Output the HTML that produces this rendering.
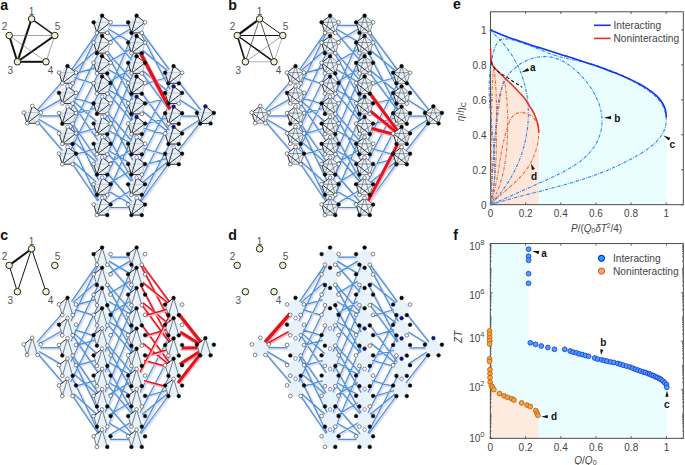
<!DOCTYPE html><html><head><meta charset="utf-8"><style>html,body{margin:0;padding:0;background:#fff;}svg{display:block}</style></head><body><svg width="685" height="465" viewBox="0 0 685 465">
<style>text{font-family:"Liberation Sans",sans-serif;}.pl{font-size:14.2px;font-weight:bold;fill:#111}.nl{font-size:10px;fill:#555;text-anchor:middle}.tk{font-size:10px;fill:#444}.lg{font-size:10.2px;fill:#444}.an{font-size:10px;font-weight:bold;fill:#111}</style>
<rect width="685" height="465" fill="#fff"/>
<text x="0.3" y="9.6" class="pl">a</text>
<line x1="31.6" y1="18.9" x2="17.4" y2="61.8" stroke="#111" stroke-width="2.0"/>
<line x1="17.4" y1="61.8" x2="54.8" y2="35.5" stroke="#111" stroke-width="2.0"/>
<line x1="9.2" y1="35.5" x2="17.4" y2="61.8" stroke="#111" stroke-width="2.0"/>
<line x1="17.4" y1="61.8" x2="46" y2="61.8" stroke="#111" stroke-width="2.0"/>
<line x1="31.6" y1="18.9" x2="54.8" y2="35.5" stroke="#111" stroke-width="1.5"/>
<line x1="9.2" y1="35.5" x2="54.8" y2="35.5" stroke="#6a6a6a" stroke-width="0.6"/>
<line x1="9.2" y1="35.5" x2="46" y2="61.8" stroke="#6a6a6a" stroke-width="0.6"/>
<line x1="46" y1="61.8" x2="54.8" y2="35.5" stroke="#6a6a6a" stroke-width="0.6"/>
<circle cx="31.6" cy="18.9" r="3.25" fill="#e6f8d2" stroke="#222" stroke-width="1.0"/>
<text x="31.6" y="15.2" class="nl">1</text>
<circle cx="9.2" cy="35.5" r="3.25" fill="#e6f8d2" stroke="#222" stroke-width="1.0"/>
<text x="4.6" y="30.4" class="nl">2</text>
<circle cx="54.8" cy="35.5" r="3.25" fill="#e6f8d2" stroke="#222" stroke-width="1.0"/>
<text x="57.6" y="30.4" class="nl">5</text>
<circle cx="17.4" cy="61.8" r="3.25" fill="#e6f8d2" stroke="#222" stroke-width="1.0"/>
<text x="10.3" y="74" class="nl">3</text>
<circle cx="46" cy="61.8" r="3.25" fill="#e6f8d2" stroke="#222" stroke-width="1.0"/>
<text x="50.6" y="74" class="nl">4</text>
<path d="M33.4 116.6L68.6 76.62M33.4 116.6L68.6 96.86M33.4 116.6L68.6 117.1M33.4 116.6L68.6 137.34M33.4 116.6L68.6 157.58M68.6 76.62L103.2 26.32M68.6 76.62L103.2 46.56M68.6 76.62L103.2 66.8M68.6 76.62L103.2 87.04M68.6 96.86L103.2 26.32M68.6 96.86L103.2 107.28M68.6 96.86L103.2 127.52M68.6 96.86L103.2 147.76M68.6 117.1L103.2 46.56M68.6 117.1L103.2 107.28M68.6 117.1L103.2 168M68.6 117.1L103.2 188.24M68.6 137.34L103.2 66.8M68.6 137.34L103.2 127.52M68.6 137.34L103.2 168M68.6 137.34L103.2 208.48M68.6 157.58L103.2 87.04M68.6 157.58L103.2 147.76M68.6 157.58L103.2 188.24M68.6 157.58L103.2 208.48M103.2 26.32L137.7 26.32M103.2 26.32L137.7 46.56M103.2 26.32L137.7 66.8M103.2 46.56L137.7 26.32M103.2 46.56L137.7 87.04M103.2 46.56L137.7 107.28M103.2 66.8L137.7 46.56M103.2 66.8L137.7 87.04M103.2 66.8L137.7 127.52M103.2 87.04L137.7 66.8M103.2 87.04L137.7 107.28M103.2 87.04L137.7 127.52M103.2 107.28L137.7 26.32M103.2 107.28L137.7 147.76M103.2 107.28L137.7 168M103.2 127.52L137.7 46.56M103.2 127.52L137.7 147.76M103.2 127.52L137.7 188.24M103.2 147.76L137.7 66.8M103.2 147.76L137.7 168M103.2 147.76L137.7 188.24M103.2 168L137.7 87.04M103.2 168L137.7 147.76M103.2 168L137.7 208.48M103.2 188.24L137.7 107.28M103.2 188.24L137.7 168M103.2 188.24L137.7 208.48M103.2 208.48L137.7 127.52M103.2 208.48L137.7 188.24M103.2 208.48L137.7 208.48M137.7 26.32L174.7 76.72M137.7 26.32L174.7 96.96M137.7 46.56L174.7 76.72M137.7 66.8L174.7 96.96M137.7 66.8L174.7 117.2M137.7 87.04L174.7 76.72M137.7 87.04L174.7 137.44M137.7 107.28L174.7 96.96M137.7 107.28L174.7 137.44M137.7 127.52L174.7 117.2M137.7 127.52L174.7 137.44M137.7 147.76L174.7 76.72M137.7 147.76L174.7 157.68M137.7 168L174.7 96.96M137.7 168L174.7 157.68M137.7 188.24L174.7 117.2M137.7 188.24L174.7 157.68M137.7 208.48L174.7 137.44M137.7 208.48L174.7 157.68M174.7 76.72L206.5 116.9M174.7 96.96L206.5 116.9M174.7 117.2L206.5 116.9M174.7 137.44L206.5 116.9M174.7 157.68L206.5 116.9" stroke="#dedef4" stroke-width="2.6" fill="none"/>
<path d="M32.3 115.6L67.5 75.62M32.3 115.6L67.5 95.86M32.3 115.6L67.5 116.1M32.3 115.6L67.5 136.34M32.3 115.6L67.5 156.58M67.5 75.62L102.1 25.32M67.5 75.62L102.1 45.56M67.5 75.62L102.1 65.8M67.5 75.62L102.1 86.04M67.5 95.86L102.1 25.32M67.5 95.86L102.1 106.28M67.5 95.86L102.1 126.52M67.5 95.86L102.1 146.76M67.5 116.1L102.1 45.56M67.5 116.1L102.1 106.28M67.5 116.1L102.1 167M67.5 116.1L102.1 187.24M67.5 136.34L102.1 65.8M67.5 136.34L102.1 126.52M67.5 136.34L102.1 167M67.5 136.34L102.1 207.48M67.5 156.58L102.1 86.04M67.5 156.58L102.1 146.76M67.5 156.58L102.1 187.24M67.5 156.58L102.1 207.48M102.1 25.32L136.6 25.32M102.1 25.32L136.6 45.56M102.1 25.32L136.6 65.8M102.1 45.56L136.6 25.32M102.1 45.56L136.6 86.04M102.1 45.56L136.6 106.28M102.1 65.8L136.6 45.56M102.1 65.8L136.6 86.04M102.1 65.8L136.6 126.52M102.1 86.04L136.6 65.8M102.1 86.04L136.6 106.28M102.1 86.04L136.6 126.52M102.1 106.28L136.6 25.32M102.1 106.28L136.6 146.76M102.1 106.28L136.6 167M102.1 126.52L136.6 45.56M102.1 126.52L136.6 146.76M102.1 126.52L136.6 187.24M102.1 146.76L136.6 65.8M102.1 146.76L136.6 167M102.1 146.76L136.6 187.24M102.1 167L136.6 86.04M102.1 167L136.6 146.76M102.1 167L136.6 207.48M102.1 187.24L136.6 106.28M102.1 187.24L136.6 167M102.1 187.24L136.6 207.48M102.1 207.48L136.6 126.52M102.1 207.48L136.6 187.24M102.1 207.48L136.6 207.48M136.6 25.32L173.6 75.72M136.6 25.32L173.6 95.96M136.6 45.56L173.6 75.72M136.6 65.8L173.6 95.96M136.6 65.8L173.6 116.2M136.6 86.04L173.6 75.72M136.6 86.04L173.6 136.44M136.6 106.28L173.6 95.96M136.6 106.28L173.6 136.44M136.6 126.52L173.6 116.2M136.6 126.52L173.6 136.44M136.6 146.76L173.6 75.72M136.6 146.76L173.6 156.68M136.6 167L173.6 95.96M136.6 167L173.6 156.68M136.6 187.24L173.6 116.2M136.6 187.24L173.6 156.68M136.6 207.48L173.6 136.44M136.6 207.48L173.6 156.68M173.6 75.72L205.4 115.9M173.6 95.96L205.4 115.9M173.6 116.2L205.4 115.9M173.6 136.44L205.4 115.9M173.6 156.68L205.4 115.9" stroke="#4892d8" stroke-width="1.2" fill="none"/>
<line x1="137.1" y1="46.56" x2="174.1" y2="117.2" stroke="#f4b8c0" stroke-width="4.6"/>
<line x1="136.6" y1="45.56" x2="173.6" y2="116.2" stroke="#e8101c" stroke-width="3.4"/>
<polygon points="32.3,106 40.8,112.6 37.5,123.2 27.1,123.2 23.8,112.6" fill="#e6f1f9" stroke="#c4d4e0" stroke-width="0.5"/>
<line x1="23.8" y1="112.6" x2="40.8" y2="112.6" stroke="#9aa0a6" stroke-width="0.5"/>
<line x1="23.8" y1="112.6" x2="37.5" y2="123.2" stroke="#9aa0a6" stroke-width="0.5"/>
<line x1="37.5" y1="123.2" x2="40.8" y2="112.6" stroke="#9aa0a6" stroke-width="0.5"/>
<line x1="32.3" y1="106" x2="40.8" y2="112.6" stroke="#1a1a1a" stroke-width="0.88"/>
<line x1="32.3" y1="106" x2="27.1" y2="123.2" stroke="#1a1a1a" stroke-width="0.88"/>
<line x1="27.1" y1="123.2" x2="40.8" y2="112.6" stroke="#1a1a1a" stroke-width="0.88"/>
<line x1="23.8" y1="112.6" x2="27.1" y2="123.2" stroke="#1a1a1a" stroke-width="0.88"/>
<line x1="27.1" y1="123.2" x2="37.5" y2="123.2" stroke="#1a1a1a" stroke-width="0.88"/>
<circle cx="32.3" cy="106" r="1.85" fill="#fff" stroke="#222" stroke-width="0.55"/>
<circle cx="23.8" cy="112.6" r="1.85" fill="#fff" stroke="#222" stroke-width="0.55"/>
<circle cx="27.1" cy="123.2" r="1.85" fill="#fff" stroke="#222" stroke-width="0.55"/>
<circle cx="37.5" cy="123.2" r="1.85" fill="#fff" stroke="#222" stroke-width="0.55"/>
<circle cx="40.8" cy="112.6" r="1.85" fill="#fff" stroke="#222" stroke-width="0.55"/>
<polygon points="67.5,66.02 76,72.62 72.7,83.22 62.3,83.22 59,72.62" fill="#e6f1f9" stroke="#c4d4e0" stroke-width="0.5"/>
<line x1="59" y1="72.62" x2="76" y2="72.62" stroke="#9aa0a6" stroke-width="0.5"/>
<line x1="59" y1="72.62" x2="72.7" y2="83.22" stroke="#9aa0a6" stroke-width="0.5"/>
<line x1="72.7" y1="83.22" x2="76" y2="72.62" stroke="#9aa0a6" stroke-width="0.5"/>
<line x1="67.5" y1="66.02" x2="76" y2="72.62" stroke="#1a1a1a" stroke-width="0.88"/>
<line x1="67.5" y1="66.02" x2="62.3" y2="83.22" stroke="#1a1a1a" stroke-width="0.88"/>
<line x1="62.3" y1="83.22" x2="76" y2="72.62" stroke="#1a1a1a" stroke-width="0.88"/>
<line x1="59" y1="72.62" x2="62.3" y2="83.22" stroke="#1a1a1a" stroke-width="0.88"/>
<line x1="62.3" y1="83.22" x2="72.7" y2="83.22" stroke="#1a1a1a" stroke-width="0.88"/>
<circle cx="67.5" cy="66.02" r="1.85" fill="#000" stroke="#111" stroke-width="0.55"/>
<circle cx="59" cy="72.62" r="1.85" fill="#fff" stroke="#222" stroke-width="0.55"/>
<circle cx="62.3" cy="83.22" r="1.85" fill="#fff" stroke="#222" stroke-width="0.55"/>
<circle cx="72.7" cy="83.22" r="1.85" fill="#fff" stroke="#222" stroke-width="0.55"/>
<circle cx="76" cy="72.62" r="1.85" fill="#fff" stroke="#222" stroke-width="0.55"/>
<polygon points="67.5,86.26 76,92.86 72.7,103.46 62.3,103.46 59,92.86" fill="#e6f1f9" stroke="#c4d4e0" stroke-width="0.5"/>
<line x1="59" y1="92.86" x2="76" y2="92.86" stroke="#9aa0a6" stroke-width="0.5"/>
<line x1="59" y1="92.86" x2="72.7" y2="103.46" stroke="#9aa0a6" stroke-width="0.5"/>
<line x1="72.7" y1="103.46" x2="76" y2="92.86" stroke="#9aa0a6" stroke-width="0.5"/>
<line x1="67.5" y1="86.26" x2="76" y2="92.86" stroke="#1a1a1a" stroke-width="0.88"/>
<line x1="67.5" y1="86.26" x2="62.3" y2="103.46" stroke="#1a1a1a" stroke-width="0.88"/>
<line x1="62.3" y1="103.46" x2="76" y2="92.86" stroke="#1a1a1a" stroke-width="0.88"/>
<line x1="59" y1="92.86" x2="62.3" y2="103.46" stroke="#1a1a1a" stroke-width="0.88"/>
<line x1="62.3" y1="103.46" x2="72.7" y2="103.46" stroke="#1a1a1a" stroke-width="0.88"/>
<circle cx="67.5" cy="86.26" r="1.85" fill="#fff" stroke="#3030b0" stroke-width="0.55"/>
<circle cx="59" cy="92.86" r="1.85" fill="#000" stroke="#222" stroke-width="0.55"/>
<circle cx="62.3" cy="103.46" r="1.85" fill="#fff" stroke="#222" stroke-width="0.55"/>
<circle cx="72.7" cy="103.46" r="1.85" fill="#fff" stroke="#222" stroke-width="0.55"/>
<circle cx="76" cy="92.86" r="1.85" fill="#fff" stroke="#222" stroke-width="0.55"/>
<polygon points="67.5,106.5 76,113.1 72.7,123.7 62.3,123.7 59,113.1" fill="#e6f1f9" stroke="#c4d4e0" stroke-width="0.5"/>
<line x1="59" y1="113.1" x2="76" y2="113.1" stroke="#9aa0a6" stroke-width="0.5"/>
<line x1="59" y1="113.1" x2="72.7" y2="123.7" stroke="#9aa0a6" stroke-width="0.5"/>
<line x1="72.7" y1="123.7" x2="76" y2="113.1" stroke="#9aa0a6" stroke-width="0.5"/>
<line x1="67.5" y1="106.5" x2="76" y2="113.1" stroke="#1a1a1a" stroke-width="0.88"/>
<line x1="67.5" y1="106.5" x2="62.3" y2="123.7" stroke="#1a1a1a" stroke-width="0.88"/>
<line x1="62.3" y1="123.7" x2="76" y2="113.1" stroke="#1a1a1a" stroke-width="0.88"/>
<line x1="59" y1="113.1" x2="62.3" y2="123.7" stroke="#1a1a1a" stroke-width="0.88"/>
<line x1="62.3" y1="123.7" x2="72.7" y2="123.7" stroke="#1a1a1a" stroke-width="0.88"/>
<circle cx="67.5" cy="106.5" r="1.85" fill="#fff" stroke="#3030b0" stroke-width="0.55"/>
<circle cx="59" cy="113.1" r="1.85" fill="#fff" stroke="#222" stroke-width="0.55"/>
<circle cx="62.3" cy="123.7" r="1.85" fill="#000" stroke="#222" stroke-width="0.55"/>
<circle cx="72.7" cy="123.7" r="1.85" fill="#fff" stroke="#222" stroke-width="0.55"/>
<circle cx="76" cy="113.1" r="1.85" fill="#fff" stroke="#222" stroke-width="0.55"/>
<polygon points="67.5,126.74 76,133.34 72.7,143.94 62.3,143.94 59,133.34" fill="#e6f1f9" stroke="#c4d4e0" stroke-width="0.5"/>
<line x1="59" y1="133.34" x2="76" y2="133.34" stroke="#9aa0a6" stroke-width="0.5"/>
<line x1="59" y1="133.34" x2="72.7" y2="143.94" stroke="#9aa0a6" stroke-width="0.5"/>
<line x1="72.7" y1="143.94" x2="76" y2="133.34" stroke="#9aa0a6" stroke-width="0.5"/>
<line x1="67.5" y1="126.74" x2="76" y2="133.34" stroke="#1a1a1a" stroke-width="0.88"/>
<line x1="67.5" y1="126.74" x2="62.3" y2="143.94" stroke="#1a1a1a" stroke-width="0.88"/>
<line x1="62.3" y1="143.94" x2="76" y2="133.34" stroke="#1a1a1a" stroke-width="0.88"/>
<line x1="59" y1="133.34" x2="62.3" y2="143.94" stroke="#1a1a1a" stroke-width="0.88"/>
<line x1="62.3" y1="143.94" x2="72.7" y2="143.94" stroke="#1a1a1a" stroke-width="0.88"/>
<circle cx="67.5" cy="126.74" r="1.85" fill="#fff" stroke="#3030b0" stroke-width="0.55"/>
<circle cx="59" cy="133.34" r="1.85" fill="#fff" stroke="#222" stroke-width="0.55"/>
<circle cx="62.3" cy="143.94" r="1.85" fill="#fff" stroke="#222" stroke-width="0.55"/>
<circle cx="72.7" cy="143.94" r="1.85" fill="#000" stroke="#222" stroke-width="0.55"/>
<circle cx="76" cy="133.34" r="1.85" fill="#fff" stroke="#222" stroke-width="0.55"/>
<polygon points="67.5,146.98 76,153.58 72.7,164.18 62.3,164.18 59,153.58" fill="#e6f1f9" stroke="#c4d4e0" stroke-width="0.5"/>
<line x1="59" y1="153.58" x2="76" y2="153.58" stroke="#9aa0a6" stroke-width="0.5"/>
<line x1="59" y1="153.58" x2="72.7" y2="164.18" stroke="#9aa0a6" stroke-width="0.5"/>
<line x1="72.7" y1="164.18" x2="76" y2="153.58" stroke="#9aa0a6" stroke-width="0.5"/>
<line x1="67.5" y1="146.98" x2="76" y2="153.58" stroke="#1a1a1a" stroke-width="0.88"/>
<line x1="67.5" y1="146.98" x2="62.3" y2="164.18" stroke="#1a1a1a" stroke-width="0.88"/>
<line x1="62.3" y1="164.18" x2="76" y2="153.58" stroke="#1a1a1a" stroke-width="0.88"/>
<line x1="59" y1="153.58" x2="62.3" y2="164.18" stroke="#1a1a1a" stroke-width="0.88"/>
<line x1="62.3" y1="164.18" x2="72.7" y2="164.18" stroke="#1a1a1a" stroke-width="0.88"/>
<circle cx="67.5" cy="146.98" r="1.85" fill="#fff" stroke="#3030b0" stroke-width="0.55"/>
<circle cx="59" cy="153.58" r="1.85" fill="#fff" stroke="#222" stroke-width="0.55"/>
<circle cx="62.3" cy="164.18" r="1.85" fill="#fff" stroke="#222" stroke-width="0.55"/>
<circle cx="72.7" cy="164.18" r="1.85" fill="#fff" stroke="#222" stroke-width="0.55"/>
<circle cx="76" cy="153.58" r="1.85" fill="#000" stroke="#222" stroke-width="0.55"/>
<polygon points="102.1,15.72 110.6,22.32 107.3,32.92 96.9,32.92 93.6,22.32" fill="#e6f1f9" stroke="#c4d4e0" stroke-width="0.5"/>
<line x1="93.6" y1="22.32" x2="110.6" y2="22.32" stroke="#9aa0a6" stroke-width="0.5"/>
<line x1="93.6" y1="22.32" x2="107.3" y2="32.92" stroke="#9aa0a6" stroke-width="0.5"/>
<line x1="107.3" y1="32.92" x2="110.6" y2="22.32" stroke="#9aa0a6" stroke-width="0.5"/>
<line x1="102.1" y1="15.72" x2="110.6" y2="22.32" stroke="#1a1a1a" stroke-width="0.88"/>
<line x1="102.1" y1="15.72" x2="96.9" y2="32.92" stroke="#1a1a1a" stroke-width="0.88"/>
<line x1="96.9" y1="32.92" x2="110.6" y2="22.32" stroke="#1a1a1a" stroke-width="0.88"/>
<line x1="93.6" y1="22.32" x2="96.9" y2="32.92" stroke="#1a1a1a" stroke-width="0.88"/>
<line x1="96.9" y1="32.92" x2="107.3" y2="32.92" stroke="#1a1a1a" stroke-width="0.88"/>
<circle cx="102.1" cy="15.72" r="1.85" fill="#000" stroke="#111" stroke-width="0.55"/>
<circle cx="93.6" cy="22.32" r="1.85" fill="#000" stroke="#222" stroke-width="0.55"/>
<circle cx="96.9" cy="32.92" r="1.85" fill="#fff" stroke="#222" stroke-width="0.55"/>
<circle cx="107.3" cy="32.92" r="1.85" fill="#fff" stroke="#222" stroke-width="0.55"/>
<circle cx="110.6" cy="22.32" r="1.85" fill="#fff" stroke="#222" stroke-width="0.55"/>
<polygon points="102.1,35.96 110.6,42.56 107.3,53.16 96.9,53.16 93.6,42.56" fill="#e6f1f9" stroke="#c4d4e0" stroke-width="0.5"/>
<line x1="93.6" y1="42.56" x2="110.6" y2="42.56" stroke="#9aa0a6" stroke-width="0.5"/>
<line x1="93.6" y1="42.56" x2="107.3" y2="53.16" stroke="#9aa0a6" stroke-width="0.5"/>
<line x1="107.3" y1="53.16" x2="110.6" y2="42.56" stroke="#9aa0a6" stroke-width="0.5"/>
<line x1="102.1" y1="35.96" x2="110.6" y2="42.56" stroke="#1a1a1a" stroke-width="0.88"/>
<line x1="102.1" y1="35.96" x2="96.9" y2="53.16" stroke="#1a1a1a" stroke-width="0.88"/>
<line x1="96.9" y1="53.16" x2="110.6" y2="42.56" stroke="#1a1a1a" stroke-width="0.88"/>
<line x1="93.6" y1="42.56" x2="96.9" y2="53.16" stroke="#1a1a1a" stroke-width="0.88"/>
<line x1="96.9" y1="53.16" x2="107.3" y2="53.16" stroke="#1a1a1a" stroke-width="0.88"/>
<circle cx="102.1" cy="35.96" r="1.85" fill="#000" stroke="#111" stroke-width="0.55"/>
<circle cx="93.6" cy="42.56" r="1.85" fill="#fff" stroke="#222" stroke-width="0.55"/>
<circle cx="96.9" cy="53.16" r="1.85" fill="#000" stroke="#222" stroke-width="0.55"/>
<circle cx="107.3" cy="53.16" r="1.85" fill="#fff" stroke="#222" stroke-width="0.55"/>
<circle cx="110.6" cy="42.56" r="1.85" fill="#fff" stroke="#222" stroke-width="0.55"/>
<polygon points="102.1,56.2 110.6,62.8 107.3,73.4 96.9,73.4 93.6,62.8" fill="#e6f1f9" stroke="#c4d4e0" stroke-width="0.5"/>
<line x1="93.6" y1="62.8" x2="110.6" y2="62.8" stroke="#9aa0a6" stroke-width="0.5"/>
<line x1="93.6" y1="62.8" x2="107.3" y2="73.4" stroke="#9aa0a6" stroke-width="0.5"/>
<line x1="107.3" y1="73.4" x2="110.6" y2="62.8" stroke="#9aa0a6" stroke-width="0.5"/>
<line x1="102.1" y1="56.2" x2="110.6" y2="62.8" stroke="#1a1a1a" stroke-width="0.88"/>
<line x1="102.1" y1="56.2" x2="96.9" y2="73.4" stroke="#1a1a1a" stroke-width="0.88"/>
<line x1="96.9" y1="73.4" x2="110.6" y2="62.8" stroke="#1a1a1a" stroke-width="0.88"/>
<line x1="93.6" y1="62.8" x2="96.9" y2="73.4" stroke="#1a1a1a" stroke-width="0.88"/>
<line x1="96.9" y1="73.4" x2="107.3" y2="73.4" stroke="#1a1a1a" stroke-width="0.88"/>
<circle cx="102.1" cy="56.2" r="1.85" fill="#000" stroke="#111" stroke-width="0.55"/>
<circle cx="93.6" cy="62.8" r="1.85" fill="#fff" stroke="#222" stroke-width="0.55"/>
<circle cx="96.9" cy="73.4" r="1.85" fill="#fff" stroke="#222" stroke-width="0.55"/>
<circle cx="107.3" cy="73.4" r="1.85" fill="#000" stroke="#222" stroke-width="0.55"/>
<circle cx="110.6" cy="62.8" r="1.85" fill="#fff" stroke="#222" stroke-width="0.55"/>
<polygon points="102.1,76.44 110.6,83.04 107.3,93.64 96.9,93.64 93.6,83.04" fill="#e6f1f9" stroke="#c4d4e0" stroke-width="0.5"/>
<line x1="93.6" y1="83.04" x2="110.6" y2="83.04" stroke="#9aa0a6" stroke-width="0.5"/>
<line x1="93.6" y1="83.04" x2="107.3" y2="93.64" stroke="#9aa0a6" stroke-width="0.5"/>
<line x1="107.3" y1="93.64" x2="110.6" y2="83.04" stroke="#9aa0a6" stroke-width="0.5"/>
<line x1="102.1" y1="76.44" x2="110.6" y2="83.04" stroke="#1a1a1a" stroke-width="0.88"/>
<line x1="102.1" y1="76.44" x2="96.9" y2="93.64" stroke="#1a1a1a" stroke-width="0.88"/>
<line x1="96.9" y1="93.64" x2="110.6" y2="83.04" stroke="#1a1a1a" stroke-width="0.88"/>
<line x1="93.6" y1="83.04" x2="96.9" y2="93.64" stroke="#1a1a1a" stroke-width="0.88"/>
<line x1="96.9" y1="93.64" x2="107.3" y2="93.64" stroke="#1a1a1a" stroke-width="0.88"/>
<circle cx="102.1" cy="76.44" r="1.85" fill="#000" stroke="#111" stroke-width="0.55"/>
<circle cx="93.6" cy="83.04" r="1.85" fill="#fff" stroke="#222" stroke-width="0.55"/>
<circle cx="96.9" cy="93.64" r="1.85" fill="#fff" stroke="#222" stroke-width="0.55"/>
<circle cx="107.3" cy="93.64" r="1.85" fill="#fff" stroke="#222" stroke-width="0.55"/>
<circle cx="110.6" cy="83.04" r="1.85" fill="#000" stroke="#222" stroke-width="0.55"/>
<polygon points="102.1,96.68 110.6,103.28 107.3,113.88 96.9,113.88 93.6,103.28" fill="#e6f1f9" stroke="#c4d4e0" stroke-width="0.5"/>
<line x1="93.6" y1="103.28" x2="110.6" y2="103.28" stroke="#9aa0a6" stroke-width="0.5"/>
<line x1="93.6" y1="103.28" x2="107.3" y2="113.88" stroke="#9aa0a6" stroke-width="0.5"/>
<line x1="107.3" y1="113.88" x2="110.6" y2="103.28" stroke="#9aa0a6" stroke-width="0.5"/>
<line x1="102.1" y1="96.68" x2="110.6" y2="103.28" stroke="#1a1a1a" stroke-width="0.88"/>
<line x1="102.1" y1="96.68" x2="96.9" y2="113.88" stroke="#1a1a1a" stroke-width="0.88"/>
<line x1="96.9" y1="113.88" x2="110.6" y2="103.28" stroke="#1a1a1a" stroke-width="0.88"/>
<line x1="93.6" y1="103.28" x2="96.9" y2="113.88" stroke="#1a1a1a" stroke-width="0.88"/>
<line x1="96.9" y1="113.88" x2="107.3" y2="113.88" stroke="#1a1a1a" stroke-width="0.88"/>
<circle cx="102.1" cy="96.68" r="1.85" fill="#fff" stroke="#3030b0" stroke-width="0.55"/>
<circle cx="93.6" cy="103.28" r="1.85" fill="#000" stroke="#222" stroke-width="0.55"/>
<circle cx="96.9" cy="113.88" r="1.85" fill="#000" stroke="#222" stroke-width="0.55"/>
<circle cx="107.3" cy="113.88" r="1.85" fill="#fff" stroke="#222" stroke-width="0.55"/>
<circle cx="110.6" cy="103.28" r="1.85" fill="#fff" stroke="#222" stroke-width="0.55"/>
<polygon points="102.1,116.92 110.6,123.52 107.3,134.12 96.9,134.12 93.6,123.52" fill="#e6f1f9" stroke="#c4d4e0" stroke-width="0.5"/>
<line x1="93.6" y1="123.52" x2="110.6" y2="123.52" stroke="#9aa0a6" stroke-width="0.5"/>
<line x1="93.6" y1="123.52" x2="107.3" y2="134.12" stroke="#9aa0a6" stroke-width="0.5"/>
<line x1="107.3" y1="134.12" x2="110.6" y2="123.52" stroke="#9aa0a6" stroke-width="0.5"/>
<line x1="102.1" y1="116.92" x2="110.6" y2="123.52" stroke="#1a1a1a" stroke-width="0.88"/>
<line x1="102.1" y1="116.92" x2="96.9" y2="134.12" stroke="#1a1a1a" stroke-width="0.88"/>
<line x1="96.9" y1="134.12" x2="110.6" y2="123.52" stroke="#1a1a1a" stroke-width="0.88"/>
<line x1="93.6" y1="123.52" x2="96.9" y2="134.12" stroke="#1a1a1a" stroke-width="0.88"/>
<line x1="96.9" y1="134.12" x2="107.3" y2="134.12" stroke="#1a1a1a" stroke-width="0.88"/>
<circle cx="102.1" cy="116.92" r="1.85" fill="#fff" stroke="#3030b0" stroke-width="0.55"/>
<circle cx="93.6" cy="123.52" r="1.85" fill="#000" stroke="#222" stroke-width="0.55"/>
<circle cx="96.9" cy="134.12" r="1.85" fill="#fff" stroke="#222" stroke-width="0.55"/>
<circle cx="107.3" cy="134.12" r="1.85" fill="#000" stroke="#222" stroke-width="0.55"/>
<circle cx="110.6" cy="123.52" r="1.85" fill="#fff" stroke="#222" stroke-width="0.55"/>
<polygon points="102.1,137.16 110.6,143.76 107.3,154.36 96.9,154.36 93.6,143.76" fill="#e6f1f9" stroke="#c4d4e0" stroke-width="0.5"/>
<line x1="93.6" y1="143.76" x2="110.6" y2="143.76" stroke="#9aa0a6" stroke-width="0.5"/>
<line x1="93.6" y1="143.76" x2="107.3" y2="154.36" stroke="#9aa0a6" stroke-width="0.5"/>
<line x1="107.3" y1="154.36" x2="110.6" y2="143.76" stroke="#9aa0a6" stroke-width="0.5"/>
<line x1="102.1" y1="137.16" x2="110.6" y2="143.76" stroke="#1a1a1a" stroke-width="0.88"/>
<line x1="102.1" y1="137.16" x2="96.9" y2="154.36" stroke="#1a1a1a" stroke-width="0.88"/>
<line x1="96.9" y1="154.36" x2="110.6" y2="143.76" stroke="#1a1a1a" stroke-width="0.88"/>
<line x1="93.6" y1="143.76" x2="96.9" y2="154.36" stroke="#1a1a1a" stroke-width="0.88"/>
<line x1="96.9" y1="154.36" x2="107.3" y2="154.36" stroke="#1a1a1a" stroke-width="0.88"/>
<circle cx="102.1" cy="137.16" r="1.85" fill="#fff" stroke="#3030b0" stroke-width="0.55"/>
<circle cx="93.6" cy="143.76" r="1.85" fill="#000" stroke="#222" stroke-width="0.55"/>
<circle cx="96.9" cy="154.36" r="1.85" fill="#fff" stroke="#222" stroke-width="0.55"/>
<circle cx="107.3" cy="154.36" r="1.85" fill="#fff" stroke="#222" stroke-width="0.55"/>
<circle cx="110.6" cy="143.76" r="1.85" fill="#000" stroke="#222" stroke-width="0.55"/>
<polygon points="102.1,157.4 110.6,164 107.3,174.6 96.9,174.6 93.6,164" fill="#e6f1f9" stroke="#c4d4e0" stroke-width="0.5"/>
<line x1="93.6" y1="164" x2="110.6" y2="164" stroke="#9aa0a6" stroke-width="0.5"/>
<line x1="93.6" y1="164" x2="107.3" y2="174.6" stroke="#9aa0a6" stroke-width="0.5"/>
<line x1="107.3" y1="174.6" x2="110.6" y2="164" stroke="#9aa0a6" stroke-width="0.5"/>
<line x1="102.1" y1="157.4" x2="110.6" y2="164" stroke="#1a1a1a" stroke-width="0.88"/>
<line x1="102.1" y1="157.4" x2="96.9" y2="174.6" stroke="#1a1a1a" stroke-width="0.88"/>
<line x1="96.9" y1="174.6" x2="110.6" y2="164" stroke="#1a1a1a" stroke-width="0.88"/>
<line x1="93.6" y1="164" x2="96.9" y2="174.6" stroke="#1a1a1a" stroke-width="0.88"/>
<line x1="96.9" y1="174.6" x2="107.3" y2="174.6" stroke="#1a1a1a" stroke-width="0.88"/>
<circle cx="102.1" cy="157.4" r="1.85" fill="#fff" stroke="#3030b0" stroke-width="0.55"/>
<circle cx="93.6" cy="164" r="1.85" fill="#fff" stroke="#222" stroke-width="0.55"/>
<circle cx="96.9" cy="174.6" r="1.85" fill="#000" stroke="#222" stroke-width="0.55"/>
<circle cx="107.3" cy="174.6" r="1.85" fill="#000" stroke="#222" stroke-width="0.55"/>
<circle cx="110.6" cy="164" r="1.85" fill="#fff" stroke="#222" stroke-width="0.55"/>
<polygon points="102.1,177.64 110.6,184.24 107.3,194.84 96.9,194.84 93.6,184.24" fill="#e6f1f9" stroke="#c4d4e0" stroke-width="0.5"/>
<line x1="93.6" y1="184.24" x2="110.6" y2="184.24" stroke="#9aa0a6" stroke-width="0.5"/>
<line x1="93.6" y1="184.24" x2="107.3" y2="194.84" stroke="#9aa0a6" stroke-width="0.5"/>
<line x1="107.3" y1="194.84" x2="110.6" y2="184.24" stroke="#9aa0a6" stroke-width="0.5"/>
<line x1="102.1" y1="177.64" x2="110.6" y2="184.24" stroke="#1a1a1a" stroke-width="0.88"/>
<line x1="102.1" y1="177.64" x2="96.9" y2="194.84" stroke="#1a1a1a" stroke-width="0.88"/>
<line x1="96.9" y1="194.84" x2="110.6" y2="184.24" stroke="#1a1a1a" stroke-width="0.88"/>
<line x1="93.6" y1="184.24" x2="96.9" y2="194.84" stroke="#1a1a1a" stroke-width="0.88"/>
<line x1="96.9" y1="194.84" x2="107.3" y2="194.84" stroke="#1a1a1a" stroke-width="0.88"/>
<circle cx="102.1" cy="177.64" r="1.85" fill="#fff" stroke="#3030b0" stroke-width="0.55"/>
<circle cx="93.6" cy="184.24" r="1.85" fill="#fff" stroke="#222" stroke-width="0.55"/>
<circle cx="96.9" cy="194.84" r="1.85" fill="#000" stroke="#222" stroke-width="0.55"/>
<circle cx="107.3" cy="194.84" r="1.85" fill="#fff" stroke="#222" stroke-width="0.55"/>
<circle cx="110.6" cy="184.24" r="1.85" fill="#000" stroke="#222" stroke-width="0.55"/>
<polygon points="102.1,197.88 110.6,204.48 107.3,215.08 96.9,215.08 93.6,204.48" fill="#e6f1f9" stroke="#c4d4e0" stroke-width="0.5"/>
<line x1="93.6" y1="204.48" x2="110.6" y2="204.48" stroke="#9aa0a6" stroke-width="0.5"/>
<line x1="93.6" y1="204.48" x2="107.3" y2="215.08" stroke="#9aa0a6" stroke-width="0.5"/>
<line x1="107.3" y1="215.08" x2="110.6" y2="204.48" stroke="#9aa0a6" stroke-width="0.5"/>
<line x1="102.1" y1="197.88" x2="110.6" y2="204.48" stroke="#1a1a1a" stroke-width="0.88"/>
<line x1="102.1" y1="197.88" x2="96.9" y2="215.08" stroke="#1a1a1a" stroke-width="0.88"/>
<line x1="96.9" y1="215.08" x2="110.6" y2="204.48" stroke="#1a1a1a" stroke-width="0.88"/>
<line x1="93.6" y1="204.48" x2="96.9" y2="215.08" stroke="#1a1a1a" stroke-width="0.88"/>
<line x1="96.9" y1="215.08" x2="107.3" y2="215.08" stroke="#1a1a1a" stroke-width="0.88"/>
<circle cx="102.1" cy="197.88" r="1.85" fill="#fff" stroke="#3030b0" stroke-width="0.55"/>
<circle cx="93.6" cy="204.48" r="1.85" fill="#fff" stroke="#222" stroke-width="0.55"/>
<circle cx="96.9" cy="215.08" r="1.85" fill="#fff" stroke="#222" stroke-width="0.55"/>
<circle cx="107.3" cy="215.08" r="1.85" fill="#000" stroke="#222" stroke-width="0.55"/>
<circle cx="110.6" cy="204.48" r="1.85" fill="#000" stroke="#222" stroke-width="0.55"/>
<polygon points="136.6,15.72 145.1,22.32 141.8,32.92 131.4,32.92 128.1,22.32" fill="#e6f1f9" stroke="#c4d4e0" stroke-width="0.5"/>
<line x1="128.1" y1="22.32" x2="145.1" y2="22.32" stroke="#9aa0a6" stroke-width="0.5"/>
<line x1="128.1" y1="22.32" x2="141.8" y2="32.92" stroke="#9aa0a6" stroke-width="0.5"/>
<line x1="141.8" y1="32.92" x2="145.1" y2="22.32" stroke="#9aa0a6" stroke-width="0.5"/>
<line x1="136.6" y1="15.72" x2="145.1" y2="22.32" stroke="#1a1a1a" stroke-width="0.88"/>
<line x1="136.6" y1="15.72" x2="131.4" y2="32.92" stroke="#1a1a1a" stroke-width="0.88"/>
<line x1="131.4" y1="32.92" x2="145.1" y2="22.32" stroke="#1a1a1a" stroke-width="0.88"/>
<line x1="128.1" y1="22.32" x2="131.4" y2="32.92" stroke="#1a1a1a" stroke-width="0.88"/>
<line x1="131.4" y1="32.92" x2="141.8" y2="32.92" stroke="#1a1a1a" stroke-width="0.88"/>
<circle cx="136.6" cy="15.72" r="1.85" fill="#000" stroke="#111" stroke-width="0.55"/>
<circle cx="128.1" cy="22.32" r="1.85" fill="#000" stroke="#222" stroke-width="0.55"/>
<circle cx="131.4" cy="32.92" r="1.85" fill="#000" stroke="#222" stroke-width="0.55"/>
<circle cx="141.8" cy="32.92" r="1.85" fill="#fff" stroke="#222" stroke-width="0.55"/>
<circle cx="145.1" cy="22.32" r="1.85" fill="#fff" stroke="#222" stroke-width="0.55"/>
<polygon points="136.6,35.96 145.1,42.56 141.8,53.16 131.4,53.16 128.1,42.56" fill="#e6f1f9" stroke="#c4d4e0" stroke-width="0.5"/>
<line x1="128.1" y1="42.56" x2="145.1" y2="42.56" stroke="#9aa0a6" stroke-width="0.5"/>
<line x1="128.1" y1="42.56" x2="141.8" y2="53.16" stroke="#9aa0a6" stroke-width="0.5"/>
<line x1="141.8" y1="53.16" x2="145.1" y2="42.56" stroke="#9aa0a6" stroke-width="0.5"/>
<line x1="136.6" y1="35.96" x2="145.1" y2="42.56" stroke="#1a1a1a" stroke-width="0.88"/>
<line x1="136.6" y1="35.96" x2="131.4" y2="53.16" stroke="#1a1a1a" stroke-width="0.88"/>
<line x1="131.4" y1="53.16" x2="145.1" y2="42.56" stroke="#1a1a1a" stroke-width="0.88"/>
<line x1="128.1" y1="42.56" x2="131.4" y2="53.16" stroke="#1a1a1a" stroke-width="0.88"/>
<line x1="131.4" y1="53.16" x2="141.8" y2="53.16" stroke="#1a1a1a" stroke-width="0.88"/>
<circle cx="136.6" cy="35.96" r="1.85" fill="#000" stroke="#111" stroke-width="0.55"/>
<circle cx="128.1" cy="42.56" r="1.85" fill="#000" stroke="#222" stroke-width="0.55"/>
<circle cx="131.4" cy="53.16" r="1.85" fill="#fff" stroke="#222" stroke-width="0.55"/>
<circle cx="141.8" cy="53.16" r="1.85" fill="#000" stroke="#222" stroke-width="0.55"/>
<circle cx="145.1" cy="42.56" r="1.85" fill="#fff" stroke="#222" stroke-width="0.55"/>
<polygon points="136.6,56.2 145.1,62.8 141.8,73.4 131.4,73.4 128.1,62.8" fill="#e6f1f9" stroke="#c4d4e0" stroke-width="0.5"/>
<line x1="128.1" y1="62.8" x2="145.1" y2="62.8" stroke="#9aa0a6" stroke-width="0.5"/>
<line x1="128.1" y1="62.8" x2="141.8" y2="73.4" stroke="#9aa0a6" stroke-width="0.5"/>
<line x1="141.8" y1="73.4" x2="145.1" y2="62.8" stroke="#9aa0a6" stroke-width="0.5"/>
<line x1="136.6" y1="56.2" x2="145.1" y2="62.8" stroke="#1a1a1a" stroke-width="0.88"/>
<line x1="136.6" y1="56.2" x2="131.4" y2="73.4" stroke="#1a1a1a" stroke-width="0.88"/>
<line x1="131.4" y1="73.4" x2="145.1" y2="62.8" stroke="#1a1a1a" stroke-width="0.88"/>
<line x1="128.1" y1="62.8" x2="131.4" y2="73.4" stroke="#1a1a1a" stroke-width="0.88"/>
<line x1="131.4" y1="73.4" x2="141.8" y2="73.4" stroke="#1a1a1a" stroke-width="0.88"/>
<circle cx="136.6" cy="56.2" r="1.85" fill="#000" stroke="#111" stroke-width="0.55"/>
<circle cx="128.1" cy="62.8" r="1.85" fill="#000" stroke="#222" stroke-width="0.55"/>
<circle cx="131.4" cy="73.4" r="1.85" fill="#fff" stroke="#222" stroke-width="0.55"/>
<circle cx="141.8" cy="73.4" r="1.85" fill="#fff" stroke="#222" stroke-width="0.55"/>
<circle cx="145.1" cy="62.8" r="1.85" fill="#000" stroke="#222" stroke-width="0.55"/>
<polygon points="136.6,76.44 145.1,83.04 141.8,93.64 131.4,93.64 128.1,83.04" fill="#e6f1f9" stroke="#c4d4e0" stroke-width="0.5"/>
<line x1="128.1" y1="83.04" x2="145.1" y2="83.04" stroke="#9aa0a6" stroke-width="0.5"/>
<line x1="128.1" y1="83.04" x2="141.8" y2="93.64" stroke="#9aa0a6" stroke-width="0.5"/>
<line x1="141.8" y1="93.64" x2="145.1" y2="83.04" stroke="#9aa0a6" stroke-width="0.5"/>
<line x1="136.6" y1="76.44" x2="145.1" y2="83.04" stroke="#1a1a1a" stroke-width="0.88"/>
<line x1="136.6" y1="76.44" x2="131.4" y2="93.64" stroke="#1a1a1a" stroke-width="0.88"/>
<line x1="131.4" y1="93.64" x2="145.1" y2="83.04" stroke="#1a1a1a" stroke-width="0.88"/>
<line x1="128.1" y1="83.04" x2="131.4" y2="93.64" stroke="#1a1a1a" stroke-width="0.88"/>
<line x1="131.4" y1="93.64" x2="141.8" y2="93.64" stroke="#1a1a1a" stroke-width="0.88"/>
<circle cx="136.6" cy="76.44" r="1.85" fill="#000" stroke="#111" stroke-width="0.55"/>
<circle cx="128.1" cy="83.04" r="1.85" fill="#fff" stroke="#222" stroke-width="0.55"/>
<circle cx="131.4" cy="93.64" r="1.85" fill="#000" stroke="#222" stroke-width="0.55"/>
<circle cx="141.8" cy="93.64" r="1.85" fill="#000" stroke="#222" stroke-width="0.55"/>
<circle cx="145.1" cy="83.04" r="1.85" fill="#fff" stroke="#222" stroke-width="0.55"/>
<polygon points="136.6,96.68 145.1,103.28 141.8,113.88 131.4,113.88 128.1,103.28" fill="#e6f1f9" stroke="#c4d4e0" stroke-width="0.5"/>
<line x1="128.1" y1="103.28" x2="145.1" y2="103.28" stroke="#9aa0a6" stroke-width="0.5"/>
<line x1="128.1" y1="103.28" x2="141.8" y2="113.88" stroke="#9aa0a6" stroke-width="0.5"/>
<line x1="141.8" y1="113.88" x2="145.1" y2="103.28" stroke="#9aa0a6" stroke-width="0.5"/>
<line x1="136.6" y1="96.68" x2="145.1" y2="103.28" stroke="#1a1a1a" stroke-width="0.88"/>
<line x1="136.6" y1="96.68" x2="131.4" y2="113.88" stroke="#1a1a1a" stroke-width="0.88"/>
<line x1="131.4" y1="113.88" x2="145.1" y2="103.28" stroke="#1a1a1a" stroke-width="0.88"/>
<line x1="128.1" y1="103.28" x2="131.4" y2="113.88" stroke="#1a1a1a" stroke-width="0.88"/>
<line x1="131.4" y1="113.88" x2="141.8" y2="113.88" stroke="#1a1a1a" stroke-width="0.88"/>
<circle cx="136.6" cy="96.68" r="1.85" fill="#14146e" stroke="#14146e" stroke-width="0.55"/>
<circle cx="128.1" cy="103.28" r="1.85" fill="#fff" stroke="#222" stroke-width="0.55"/>
<circle cx="131.4" cy="113.88" r="1.85" fill="#000" stroke="#222" stroke-width="0.55"/>
<circle cx="141.8" cy="113.88" r="1.85" fill="#fff" stroke="#222" stroke-width="0.55"/>
<circle cx="145.1" cy="103.28" r="1.85" fill="#000" stroke="#222" stroke-width="0.55"/>
<polygon points="136.6,116.92 145.1,123.52 141.8,134.12 131.4,134.12 128.1,123.52" fill="#e6f1f9" stroke="#c4d4e0" stroke-width="0.5"/>
<line x1="128.1" y1="123.52" x2="145.1" y2="123.52" stroke="#9aa0a6" stroke-width="0.5"/>
<line x1="128.1" y1="123.52" x2="141.8" y2="134.12" stroke="#9aa0a6" stroke-width="0.5"/>
<line x1="141.8" y1="134.12" x2="145.1" y2="123.52" stroke="#9aa0a6" stroke-width="0.5"/>
<line x1="136.6" y1="116.92" x2="145.1" y2="123.52" stroke="#1a1a1a" stroke-width="0.88"/>
<line x1="136.6" y1="116.92" x2="131.4" y2="134.12" stroke="#1a1a1a" stroke-width="0.88"/>
<line x1="131.4" y1="134.12" x2="145.1" y2="123.52" stroke="#1a1a1a" stroke-width="0.88"/>
<line x1="128.1" y1="123.52" x2="131.4" y2="134.12" stroke="#1a1a1a" stroke-width="0.88"/>
<line x1="131.4" y1="134.12" x2="141.8" y2="134.12" stroke="#1a1a1a" stroke-width="0.88"/>
<circle cx="136.6" cy="116.92" r="1.85" fill="#14146e" stroke="#14146e" stroke-width="0.55"/>
<circle cx="128.1" cy="123.52" r="1.85" fill="#fff" stroke="#222" stroke-width="0.55"/>
<circle cx="131.4" cy="134.12" r="1.85" fill="#fff" stroke="#222" stroke-width="0.55"/>
<circle cx="141.8" cy="134.12" r="1.85" fill="#000" stroke="#222" stroke-width="0.55"/>
<circle cx="145.1" cy="123.52" r="1.85" fill="#000" stroke="#222" stroke-width="0.55"/>
<polygon points="136.6,137.16 145.1,143.76 141.8,154.36 131.4,154.36 128.1,143.76" fill="#e6f1f9" stroke="#c4d4e0" stroke-width="0.5"/>
<line x1="128.1" y1="143.76" x2="145.1" y2="143.76" stroke="#9aa0a6" stroke-width="0.5"/>
<line x1="128.1" y1="143.76" x2="141.8" y2="154.36" stroke="#9aa0a6" stroke-width="0.5"/>
<line x1="141.8" y1="154.36" x2="145.1" y2="143.76" stroke="#9aa0a6" stroke-width="0.5"/>
<line x1="136.6" y1="137.16" x2="145.1" y2="143.76" stroke="#1a1a1a" stroke-width="0.88"/>
<line x1="136.6" y1="137.16" x2="131.4" y2="154.36" stroke="#1a1a1a" stroke-width="0.88"/>
<line x1="131.4" y1="154.36" x2="145.1" y2="143.76" stroke="#1a1a1a" stroke-width="0.88"/>
<line x1="128.1" y1="143.76" x2="131.4" y2="154.36" stroke="#1a1a1a" stroke-width="0.88"/>
<line x1="131.4" y1="154.36" x2="141.8" y2="154.36" stroke="#1a1a1a" stroke-width="0.88"/>
<circle cx="136.6" cy="137.16" r="1.85" fill="#fff" stroke="#3030b0" stroke-width="0.55"/>
<circle cx="128.1" cy="143.76" r="1.85" fill="#000" stroke="#222" stroke-width="0.55"/>
<circle cx="131.4" cy="154.36" r="1.85" fill="#000" stroke="#222" stroke-width="0.55"/>
<circle cx="141.8" cy="154.36" r="1.85" fill="#000" stroke="#222" stroke-width="0.55"/>
<circle cx="145.1" cy="143.76" r="1.85" fill="#fff" stroke="#222" stroke-width="0.55"/>
<polygon points="136.6,157.4 145.1,164 141.8,174.6 131.4,174.6 128.1,164" fill="#e6f1f9" stroke="#c4d4e0" stroke-width="0.5"/>
<line x1="128.1" y1="164" x2="145.1" y2="164" stroke="#9aa0a6" stroke-width="0.5"/>
<line x1="128.1" y1="164" x2="141.8" y2="174.6" stroke="#9aa0a6" stroke-width="0.5"/>
<line x1="141.8" y1="174.6" x2="145.1" y2="164" stroke="#9aa0a6" stroke-width="0.5"/>
<line x1="136.6" y1="157.4" x2="145.1" y2="164" stroke="#1a1a1a" stroke-width="0.88"/>
<line x1="136.6" y1="157.4" x2="131.4" y2="174.6" stroke="#1a1a1a" stroke-width="0.88"/>
<line x1="131.4" y1="174.6" x2="145.1" y2="164" stroke="#1a1a1a" stroke-width="0.88"/>
<line x1="128.1" y1="164" x2="131.4" y2="174.6" stroke="#1a1a1a" stroke-width="0.88"/>
<line x1="131.4" y1="174.6" x2="141.8" y2="174.6" stroke="#1a1a1a" stroke-width="0.88"/>
<circle cx="136.6" cy="157.4" r="1.85" fill="#fff" stroke="#3030b0" stroke-width="0.55"/>
<circle cx="128.1" cy="164" r="1.85" fill="#000" stroke="#222" stroke-width="0.55"/>
<circle cx="131.4" cy="174.6" r="1.85" fill="#000" stroke="#222" stroke-width="0.55"/>
<circle cx="141.8" cy="174.6" r="1.85" fill="#fff" stroke="#222" stroke-width="0.55"/>
<circle cx="145.1" cy="164" r="1.85" fill="#000" stroke="#222" stroke-width="0.55"/>
<polygon points="136.6,177.64 145.1,184.24 141.8,194.84 131.4,194.84 128.1,184.24" fill="#e6f1f9" stroke="#c4d4e0" stroke-width="0.5"/>
<line x1="128.1" y1="184.24" x2="145.1" y2="184.24" stroke="#9aa0a6" stroke-width="0.5"/>
<line x1="128.1" y1="184.24" x2="141.8" y2="194.84" stroke="#9aa0a6" stroke-width="0.5"/>
<line x1="141.8" y1="194.84" x2="145.1" y2="184.24" stroke="#9aa0a6" stroke-width="0.5"/>
<line x1="136.6" y1="177.64" x2="145.1" y2="184.24" stroke="#1a1a1a" stroke-width="0.88"/>
<line x1="136.6" y1="177.64" x2="131.4" y2="194.84" stroke="#1a1a1a" stroke-width="0.88"/>
<line x1="131.4" y1="194.84" x2="145.1" y2="184.24" stroke="#1a1a1a" stroke-width="0.88"/>
<line x1="128.1" y1="184.24" x2="131.4" y2="194.84" stroke="#1a1a1a" stroke-width="0.88"/>
<line x1="131.4" y1="194.84" x2="141.8" y2="194.84" stroke="#1a1a1a" stroke-width="0.88"/>
<circle cx="136.6" cy="177.64" r="1.85" fill="#fff" stroke="#3030b0" stroke-width="0.55"/>
<circle cx="128.1" cy="184.24" r="1.85" fill="#000" stroke="#222" stroke-width="0.55"/>
<circle cx="131.4" cy="194.84" r="1.85" fill="#fff" stroke="#222" stroke-width="0.55"/>
<circle cx="141.8" cy="194.84" r="1.85" fill="#000" stroke="#222" stroke-width="0.55"/>
<circle cx="145.1" cy="184.24" r="1.85" fill="#000" stroke="#222" stroke-width="0.55"/>
<polygon points="136.6,197.88 145.1,204.48 141.8,215.08 131.4,215.08 128.1,204.48" fill="#e6f1f9" stroke="#c4d4e0" stroke-width="0.5"/>
<line x1="128.1" y1="204.48" x2="145.1" y2="204.48" stroke="#9aa0a6" stroke-width="0.5"/>
<line x1="128.1" y1="204.48" x2="141.8" y2="215.08" stroke="#9aa0a6" stroke-width="0.5"/>
<line x1="141.8" y1="215.08" x2="145.1" y2="204.48" stroke="#9aa0a6" stroke-width="0.5"/>
<line x1="136.6" y1="197.88" x2="145.1" y2="204.48" stroke="#1a1a1a" stroke-width="0.88"/>
<line x1="136.6" y1="197.88" x2="131.4" y2="215.08" stroke="#1a1a1a" stroke-width="0.88"/>
<line x1="131.4" y1="215.08" x2="145.1" y2="204.48" stroke="#1a1a1a" stroke-width="0.88"/>
<line x1="128.1" y1="204.48" x2="131.4" y2="215.08" stroke="#1a1a1a" stroke-width="0.88"/>
<line x1="131.4" y1="215.08" x2="141.8" y2="215.08" stroke="#1a1a1a" stroke-width="0.88"/>
<circle cx="136.6" cy="197.88" r="1.85" fill="#fff" stroke="#3030b0" stroke-width="0.55"/>
<circle cx="128.1" cy="204.48" r="1.85" fill="#fff" stroke="#222" stroke-width="0.55"/>
<circle cx="131.4" cy="215.08" r="1.85" fill="#000" stroke="#222" stroke-width="0.55"/>
<circle cx="141.8" cy="215.08" r="1.85" fill="#000" stroke="#222" stroke-width="0.55"/>
<circle cx="145.1" cy="204.48" r="1.85" fill="#000" stroke="#222" stroke-width="0.55"/>
<polygon points="173.6,66.12 182.1,72.72 178.8,83.32 168.4,83.32 165.1,72.72" fill="#e6f1f9" stroke="#c4d4e0" stroke-width="0.5"/>
<line x1="165.1" y1="72.72" x2="182.1" y2="72.72" stroke="#9aa0a6" stroke-width="0.5"/>
<line x1="165.1" y1="72.72" x2="178.8" y2="83.32" stroke="#9aa0a6" stroke-width="0.5"/>
<line x1="178.8" y1="83.32" x2="182.1" y2="72.72" stroke="#9aa0a6" stroke-width="0.5"/>
<line x1="173.6" y1="66.12" x2="182.1" y2="72.72" stroke="#1a1a1a" stroke-width="0.88"/>
<line x1="173.6" y1="66.12" x2="168.4" y2="83.32" stroke="#1a1a1a" stroke-width="0.88"/>
<line x1="168.4" y1="83.32" x2="182.1" y2="72.72" stroke="#1a1a1a" stroke-width="0.88"/>
<line x1="165.1" y1="72.72" x2="168.4" y2="83.32" stroke="#1a1a1a" stroke-width="0.88"/>
<line x1="168.4" y1="83.32" x2="178.8" y2="83.32" stroke="#1a1a1a" stroke-width="0.88"/>
<circle cx="173.6" cy="66.12" r="1.85" fill="#000" stroke="#111" stroke-width="0.55"/>
<circle cx="165.1" cy="72.72" r="1.85" fill="#000" stroke="#222" stroke-width="0.55"/>
<circle cx="168.4" cy="83.32" r="1.85" fill="#000" stroke="#222" stroke-width="0.55"/>
<circle cx="178.8" cy="83.32" r="1.85" fill="#000" stroke="#222" stroke-width="0.55"/>
<circle cx="182.1" cy="72.72" r="1.85" fill="#fff" stroke="#222" stroke-width="0.55"/>
<polygon points="173.6,86.36 182.1,92.96 178.8,103.56 168.4,103.56 165.1,92.96" fill="#e6f1f9" stroke="#c4d4e0" stroke-width="0.5"/>
<line x1="165.1" y1="92.96" x2="182.1" y2="92.96" stroke="#9aa0a6" stroke-width="0.5"/>
<line x1="165.1" y1="92.96" x2="178.8" y2="103.56" stroke="#9aa0a6" stroke-width="0.5"/>
<line x1="178.8" y1="103.56" x2="182.1" y2="92.96" stroke="#9aa0a6" stroke-width="0.5"/>
<line x1="173.6" y1="86.36" x2="182.1" y2="92.96" stroke="#1a1a1a" stroke-width="0.88"/>
<line x1="173.6" y1="86.36" x2="168.4" y2="103.56" stroke="#1a1a1a" stroke-width="0.88"/>
<line x1="168.4" y1="103.56" x2="182.1" y2="92.96" stroke="#1a1a1a" stroke-width="0.88"/>
<line x1="165.1" y1="92.96" x2="168.4" y2="103.56" stroke="#1a1a1a" stroke-width="0.88"/>
<line x1="168.4" y1="103.56" x2="178.8" y2="103.56" stroke="#1a1a1a" stroke-width="0.88"/>
<circle cx="173.6" cy="86.36" r="1.85" fill="#14146e" stroke="#14146e" stroke-width="0.55"/>
<circle cx="165.1" cy="92.96" r="1.85" fill="#000" stroke="#222" stroke-width="0.55"/>
<circle cx="168.4" cy="103.56" r="1.85" fill="#000" stroke="#222" stroke-width="0.55"/>
<circle cx="178.8" cy="103.56" r="1.85" fill="#fff" stroke="#222" stroke-width="0.55"/>
<circle cx="182.1" cy="92.96" r="1.85" fill="#000" stroke="#222" stroke-width="0.55"/>
<polygon points="173.6,106.6 182.1,113.2 178.8,123.8 168.4,123.8 165.1,113.2" fill="#e6f1f9" stroke="#c4d4e0" stroke-width="0.5"/>
<line x1="165.1" y1="113.2" x2="182.1" y2="113.2" stroke="#9aa0a6" stroke-width="0.5"/>
<line x1="165.1" y1="113.2" x2="178.8" y2="123.8" stroke="#9aa0a6" stroke-width="0.5"/>
<line x1="178.8" y1="123.8" x2="182.1" y2="113.2" stroke="#9aa0a6" stroke-width="0.5"/>
<line x1="173.6" y1="106.6" x2="182.1" y2="113.2" stroke="#1a1a1a" stroke-width="0.88"/>
<line x1="173.6" y1="106.6" x2="168.4" y2="123.8" stroke="#1a1a1a" stroke-width="0.88"/>
<line x1="168.4" y1="123.8" x2="182.1" y2="113.2" stroke="#1a1a1a" stroke-width="0.88"/>
<line x1="165.1" y1="113.2" x2="168.4" y2="123.8" stroke="#1a1a1a" stroke-width="0.88"/>
<line x1="168.4" y1="123.8" x2="178.8" y2="123.8" stroke="#1a1a1a" stroke-width="0.88"/>
<circle cx="173.6" cy="106.6" r="1.85" fill="#14146e" stroke="#14146e" stroke-width="0.55"/>
<circle cx="165.1" cy="113.2" r="1.85" fill="#000" stroke="#222" stroke-width="0.55"/>
<circle cx="168.4" cy="123.8" r="1.85" fill="#fff" stroke="#222" stroke-width="0.55"/>
<circle cx="178.8" cy="123.8" r="1.85" fill="#000" stroke="#222" stroke-width="0.55"/>
<circle cx="182.1" cy="113.2" r="1.85" fill="#000" stroke="#222" stroke-width="0.55"/>
<polygon points="173.6,126.84 182.1,133.44 178.8,144.04 168.4,144.04 165.1,133.44" fill="#e6f1f9" stroke="#c4d4e0" stroke-width="0.5"/>
<line x1="165.1" y1="133.44" x2="182.1" y2="133.44" stroke="#9aa0a6" stroke-width="0.5"/>
<line x1="165.1" y1="133.44" x2="178.8" y2="144.04" stroke="#9aa0a6" stroke-width="0.5"/>
<line x1="178.8" y1="144.04" x2="182.1" y2="133.44" stroke="#9aa0a6" stroke-width="0.5"/>
<line x1="173.6" y1="126.84" x2="182.1" y2="133.44" stroke="#1a1a1a" stroke-width="0.88"/>
<line x1="173.6" y1="126.84" x2="168.4" y2="144.04" stroke="#1a1a1a" stroke-width="0.88"/>
<line x1="168.4" y1="144.04" x2="182.1" y2="133.44" stroke="#1a1a1a" stroke-width="0.88"/>
<line x1="165.1" y1="133.44" x2="168.4" y2="144.04" stroke="#1a1a1a" stroke-width="0.88"/>
<line x1="168.4" y1="144.04" x2="178.8" y2="144.04" stroke="#1a1a1a" stroke-width="0.88"/>
<circle cx="173.6" cy="126.84" r="1.85" fill="#14146e" stroke="#14146e" stroke-width="0.55"/>
<circle cx="165.1" cy="133.44" r="1.85" fill="#fff" stroke="#222" stroke-width="0.55"/>
<circle cx="168.4" cy="144.04" r="1.85" fill="#000" stroke="#222" stroke-width="0.55"/>
<circle cx="178.8" cy="144.04" r="1.85" fill="#000" stroke="#222" stroke-width="0.55"/>
<circle cx="182.1" cy="133.44" r="1.85" fill="#000" stroke="#222" stroke-width="0.55"/>
<polygon points="173.6,147.08 182.1,153.68 178.8,164.28 168.4,164.28 165.1,153.68" fill="#e6f1f9" stroke="#c4d4e0" stroke-width="0.5"/>
<line x1="165.1" y1="153.68" x2="182.1" y2="153.68" stroke="#9aa0a6" stroke-width="0.5"/>
<line x1="165.1" y1="153.68" x2="178.8" y2="164.28" stroke="#9aa0a6" stroke-width="0.5"/>
<line x1="178.8" y1="164.28" x2="182.1" y2="153.68" stroke="#9aa0a6" stroke-width="0.5"/>
<line x1="173.6" y1="147.08" x2="182.1" y2="153.68" stroke="#1a1a1a" stroke-width="0.88"/>
<line x1="173.6" y1="147.08" x2="168.4" y2="164.28" stroke="#1a1a1a" stroke-width="0.88"/>
<line x1="168.4" y1="164.28" x2="182.1" y2="153.68" stroke="#1a1a1a" stroke-width="0.88"/>
<line x1="165.1" y1="153.68" x2="168.4" y2="164.28" stroke="#1a1a1a" stroke-width="0.88"/>
<line x1="168.4" y1="164.28" x2="178.8" y2="164.28" stroke="#1a1a1a" stroke-width="0.88"/>
<circle cx="173.6" cy="147.08" r="1.85" fill="#fff" stroke="#3030b0" stroke-width="0.55"/>
<circle cx="165.1" cy="153.68" r="1.85" fill="#000" stroke="#222" stroke-width="0.55"/>
<circle cx="168.4" cy="164.28" r="1.85" fill="#000" stroke="#222" stroke-width="0.55"/>
<circle cx="178.8" cy="164.28" r="1.85" fill="#000" stroke="#222" stroke-width="0.55"/>
<circle cx="182.1" cy="153.68" r="1.85" fill="#000" stroke="#222" stroke-width="0.55"/>
<polygon points="205.4,106.3 213.9,112.9 210.6,123.5 200.2,123.5 196.9,112.9" fill="#e6f1f9" stroke="#c4d4e0" stroke-width="0.5"/>
<line x1="196.9" y1="112.9" x2="213.9" y2="112.9" stroke="#9aa0a6" stroke-width="0.5"/>
<line x1="196.9" y1="112.9" x2="210.6" y2="123.5" stroke="#9aa0a6" stroke-width="0.5"/>
<line x1="210.6" y1="123.5" x2="213.9" y2="112.9" stroke="#9aa0a6" stroke-width="0.5"/>
<line x1="205.4" y1="106.3" x2="213.9" y2="112.9" stroke="#1a1a1a" stroke-width="0.88"/>
<line x1="205.4" y1="106.3" x2="200.2" y2="123.5" stroke="#1a1a1a" stroke-width="0.88"/>
<line x1="200.2" y1="123.5" x2="213.9" y2="112.9" stroke="#1a1a1a" stroke-width="0.88"/>
<line x1="196.9" y1="112.9" x2="200.2" y2="123.5" stroke="#1a1a1a" stroke-width="0.88"/>
<line x1="200.2" y1="123.5" x2="210.6" y2="123.5" stroke="#1a1a1a" stroke-width="0.88"/>
<circle cx="205.4" cy="106.3" r="1.85" fill="#14146e" stroke="#14146e" stroke-width="0.55"/>
<circle cx="196.9" cy="112.9" r="1.85" fill="#000" stroke="#222" stroke-width="0.55"/>
<circle cx="200.2" cy="123.5" r="1.85" fill="#000" stroke="#222" stroke-width="0.55"/>
<circle cx="210.6" cy="123.5" r="1.85" fill="#000" stroke="#222" stroke-width="0.55"/>
<circle cx="213.9" cy="112.9" r="1.85" fill="#000" stroke="#222" stroke-width="0.55"/>
<text x="228.3" y="9.6" class="pl">b</text>
<line x1="259.6" y1="18.9" x2="237.2" y2="35.5" stroke="#111" stroke-width="2.2"/>
<line x1="237.2" y1="35.5" x2="245.4" y2="61.8" stroke="#111" stroke-width="1.6"/>
<line x1="237.2" y1="35.5" x2="274" y2="61.8" stroke="#111" stroke-width="1.5"/>
<line x1="237.2" y1="35.5" x2="282.8" y2="35.5" stroke="#111" stroke-width="1.2"/>
<line x1="259.6" y1="18.9" x2="282.8" y2="35.5" stroke="#111" stroke-width="1.0"/>
<line x1="259.6" y1="18.9" x2="274" y2="61.8" stroke="#444" stroke-width="0.9"/>
<line x1="259.6" y1="18.9" x2="245.4" y2="61.8" stroke="#444" stroke-width="0.8"/>
<line x1="245.4" y1="61.8" x2="282.8" y2="35.5" stroke="#6a6a6a" stroke-width="0.6"/>
<line x1="274" y1="61.8" x2="282.8" y2="35.5" stroke="#6a6a6a" stroke-width="0.5"/>
<line x1="245.4" y1="61.8" x2="274" y2="61.8" stroke="#6a6a6a" stroke-width="0.5"/>
<circle cx="259.6" cy="18.9" r="3.25" fill="#e6f8d2" stroke="#222" stroke-width="1.0"/>
<text x="259.6" y="15.2" class="nl">1</text>
<circle cx="237.2" cy="35.5" r="3.25" fill="#e6f8d2" stroke="#222" stroke-width="1.0"/>
<text x="232.6" y="30.4" class="nl">2</text>
<circle cx="282.8" cy="35.5" r="3.25" fill="#e6f8d2" stroke="#222" stroke-width="1.0"/>
<text x="285.6" y="30.4" class="nl">5</text>
<circle cx="245.4" cy="61.8" r="3.25" fill="#e6f8d2" stroke="#222" stroke-width="1.0"/>
<text x="238.3" y="74" class="nl">3</text>
<circle cx="274" cy="61.8" r="3.25" fill="#e6f8d2" stroke="#222" stroke-width="1.0"/>
<text x="278.6" y="74" class="nl">4</text>
<path d="M261.4 116.6L296.6 76.62M261.4 116.6L296.6 96.86M261.4 116.6L296.6 117.1M261.4 116.6L296.6 137.34M261.4 116.6L296.6 157.58M296.6 76.62L331.2 26.32M296.6 76.62L331.2 46.56M296.6 76.62L331.2 66.8M296.6 76.62L331.2 87.04M296.6 96.86L331.2 26.32M296.6 96.86L331.2 107.28M296.6 96.86L331.2 127.52M296.6 96.86L331.2 147.76M296.6 117.1L331.2 46.56M296.6 117.1L331.2 107.28M296.6 117.1L331.2 168M296.6 117.1L331.2 188.24M296.6 137.34L331.2 66.8M296.6 137.34L331.2 127.52M296.6 137.34L331.2 168M296.6 137.34L331.2 208.48M296.6 157.58L331.2 87.04M296.6 157.58L331.2 147.76M296.6 157.58L331.2 188.24M296.6 157.58L331.2 208.48M331.2 26.32L365.7 26.32M331.2 26.32L365.7 46.56M331.2 26.32L365.7 66.8M331.2 46.56L365.7 26.32M331.2 46.56L365.7 87.04M331.2 46.56L365.7 107.28M331.2 66.8L365.7 46.56M331.2 66.8L365.7 87.04M331.2 66.8L365.7 127.52M331.2 87.04L365.7 66.8M331.2 87.04L365.7 107.28M331.2 87.04L365.7 127.52M331.2 107.28L365.7 26.32M331.2 107.28L365.7 147.76M331.2 107.28L365.7 168M331.2 127.52L365.7 46.56M331.2 127.52L365.7 147.76M331.2 127.52L365.7 188.24M331.2 147.76L365.7 66.8M331.2 147.76L365.7 168M331.2 147.76L365.7 188.24M331.2 168L365.7 87.04M331.2 168L365.7 147.76M331.2 168L365.7 208.48M331.2 188.24L365.7 107.28M331.2 188.24L365.7 168M331.2 188.24L365.7 208.48M331.2 208.48L365.7 127.52M331.2 208.48L365.7 188.24M331.2 208.48L365.7 208.48M365.7 26.32L402.7 76.72M365.7 26.32L402.7 96.96M365.7 46.56L402.7 76.72M365.7 46.56L402.7 117.2M365.7 66.8L402.7 96.96M365.7 66.8L402.7 117.2M365.7 87.04L402.7 76.72M365.7 107.28L402.7 96.96M365.7 127.52L402.7 117.2M365.7 147.76L402.7 76.72M365.7 147.76L402.7 157.68M365.7 168L402.7 96.96M365.7 168L402.7 157.68M365.7 188.24L402.7 117.2M365.7 188.24L402.7 157.68M365.7 208.48L402.7 157.68M402.7 76.72L434.5 116.9M402.7 96.96L434.5 116.9M402.7 117.2L434.5 116.9M402.7 137.44L434.5 116.9M402.7 157.68L434.5 116.9" stroke="#dedef4" stroke-width="2.6" fill="none"/>
<path d="M260.3 115.6L295.5 75.62M260.3 115.6L295.5 95.86M260.3 115.6L295.5 116.1M260.3 115.6L295.5 136.34M260.3 115.6L295.5 156.58M295.5 75.62L330.1 25.32M295.5 75.62L330.1 45.56M295.5 75.62L330.1 65.8M295.5 75.62L330.1 86.04M295.5 95.86L330.1 25.32M295.5 95.86L330.1 106.28M295.5 95.86L330.1 126.52M295.5 95.86L330.1 146.76M295.5 116.1L330.1 45.56M295.5 116.1L330.1 106.28M295.5 116.1L330.1 167M295.5 116.1L330.1 187.24M295.5 136.34L330.1 65.8M295.5 136.34L330.1 126.52M295.5 136.34L330.1 167M295.5 136.34L330.1 207.48M295.5 156.58L330.1 86.04M295.5 156.58L330.1 146.76M295.5 156.58L330.1 187.24M295.5 156.58L330.1 207.48M330.1 25.32L364.6 25.32M330.1 25.32L364.6 45.56M330.1 25.32L364.6 65.8M330.1 45.56L364.6 25.32M330.1 45.56L364.6 86.04M330.1 45.56L364.6 106.28M330.1 65.8L364.6 45.56M330.1 65.8L364.6 86.04M330.1 65.8L364.6 126.52M330.1 86.04L364.6 65.8M330.1 86.04L364.6 106.28M330.1 86.04L364.6 126.52M330.1 106.28L364.6 25.32M330.1 106.28L364.6 146.76M330.1 106.28L364.6 167M330.1 126.52L364.6 45.56M330.1 126.52L364.6 146.76M330.1 126.52L364.6 187.24M330.1 146.76L364.6 65.8M330.1 146.76L364.6 167M330.1 146.76L364.6 187.24M330.1 167L364.6 86.04M330.1 167L364.6 146.76M330.1 167L364.6 207.48M330.1 187.24L364.6 106.28M330.1 187.24L364.6 167M330.1 187.24L364.6 207.48M330.1 207.48L364.6 126.52M330.1 207.48L364.6 187.24M330.1 207.48L364.6 207.48M364.6 25.32L401.6 75.72M364.6 25.32L401.6 95.96M364.6 45.56L401.6 75.72M364.6 45.56L401.6 116.2M364.6 65.8L401.6 95.96M364.6 65.8L401.6 116.2M364.6 86.04L401.6 75.72M364.6 106.28L401.6 95.96M364.6 126.52L401.6 116.2M364.6 146.76L401.6 75.72M364.6 146.76L401.6 156.68M364.6 167L401.6 95.96M364.6 167L401.6 156.68M364.6 187.24L401.6 116.2M364.6 187.24L401.6 156.68M364.6 207.48L401.6 156.68M401.6 75.72L433.4 115.9M401.6 95.96L433.4 115.9M401.6 116.2L433.4 115.9M401.6 136.44L433.4 115.9M401.6 156.68L433.4 115.9" stroke="#4892d8" stroke-width="1.2" fill="none"/>
<line x1="365.1" y1="87.04" x2="402.1" y2="137.44" stroke="#f4b8c0" stroke-width="4.1"/>
<line x1="364.6" y1="86.04" x2="401.6" y2="136.44" stroke="#e8101c" stroke-width="2.9"/>
<line x1="365.1" y1="107.28" x2="402.1" y2="137.44" stroke="#f4b8c0" stroke-width="4.1"/>
<line x1="364.6" y1="106.28" x2="401.6" y2="136.44" stroke="#e8101c" stroke-width="2.9"/>
<line x1="365.1" y1="127.52" x2="402.1" y2="137.44" stroke="#f4b8c0" stroke-width="4.1"/>
<line x1="364.6" y1="126.52" x2="401.6" y2="136.44" stroke="#e8101c" stroke-width="2.9"/>
<line x1="365.1" y1="208.48" x2="402.1" y2="137.44" stroke="#f4b8c0" stroke-width="4.1"/>
<line x1="364.6" y1="207.48" x2="401.6" y2="136.44" stroke="#e8101c" stroke-width="2.9"/>
<polygon points="260.3,106 268.8,112.6 265.5,123.2 255.1,123.2 251.8,112.6" fill="#e6f1f9" stroke="#c4d4e0" stroke-width="0.5"/>
<line x1="265.5" y1="123.2" x2="268.8" y2="112.6" stroke="#333" stroke-width="0.5"/>
<line x1="255.1" y1="123.2" x2="265.5" y2="123.2" stroke="#333" stroke-width="0.5"/>
<line x1="255.1" y1="123.2" x2="268.8" y2="112.6" stroke="#333" stroke-width="0.5"/>
<line x1="260.3" y1="106" x2="255.1" y2="123.2" stroke="#333" stroke-width="0.5"/>
<line x1="260.3" y1="106" x2="265.5" y2="123.2" stroke="#333" stroke-width="0.5"/>
<line x1="260.3" y1="106" x2="268.8" y2="112.6" stroke="#333" stroke-width="0.5"/>
<line x1="251.8" y1="112.6" x2="268.8" y2="112.6" stroke="#333" stroke-width="0.5"/>
<line x1="251.8" y1="112.6" x2="265.5" y2="123.2" stroke="#1a1a1a" stroke-width="0.88"/>
<line x1="251.8" y1="112.6" x2="255.1" y2="123.2" stroke="#1a1a1a" stroke-width="0.88"/>
<line x1="260.3" y1="106" x2="251.8" y2="112.6" stroke="#1a1a1a" stroke-width="0.88"/>
<circle cx="260.3" cy="106" r="1.85" fill="#fff" stroke="#222" stroke-width="0.55"/>
<circle cx="251.8" cy="112.6" r="1.85" fill="#fff" stroke="#222" stroke-width="0.55"/>
<circle cx="255.1" cy="123.2" r="1.85" fill="#fff" stroke="#222" stroke-width="0.55"/>
<circle cx="265.5" cy="123.2" r="1.85" fill="#fff" stroke="#222" stroke-width="0.55"/>
<circle cx="268.8" cy="112.6" r="1.85" fill="#fff" stroke="#222" stroke-width="0.55"/>
<polygon points="295.5,66.02 304,72.62 300.7,83.22 290.3,83.22 287,72.62" fill="#e6f1f9" stroke="#c4d4e0" stroke-width="0.5"/>
<line x1="300.7" y1="83.22" x2="304" y2="72.62" stroke="#333" stroke-width="0.5"/>
<line x1="290.3" y1="83.22" x2="300.7" y2="83.22" stroke="#333" stroke-width="0.5"/>
<line x1="290.3" y1="83.22" x2="304" y2="72.62" stroke="#333" stroke-width="0.5"/>
<line x1="295.5" y1="66.02" x2="290.3" y2="83.22" stroke="#333" stroke-width="0.5"/>
<line x1="295.5" y1="66.02" x2="300.7" y2="83.22" stroke="#333" stroke-width="0.5"/>
<line x1="295.5" y1="66.02" x2="304" y2="72.62" stroke="#333" stroke-width="0.5"/>
<line x1="287" y1="72.62" x2="304" y2="72.62" stroke="#333" stroke-width="0.5"/>
<line x1="287" y1="72.62" x2="300.7" y2="83.22" stroke="#1a1a1a" stroke-width="0.88"/>
<line x1="287" y1="72.62" x2="290.3" y2="83.22" stroke="#1a1a1a" stroke-width="0.88"/>
<line x1="295.5" y1="66.02" x2="287" y2="72.62" stroke="#1a1a1a" stroke-width="0.88"/>
<circle cx="295.5" cy="66.02" r="1.85" fill="#000" stroke="#222" stroke-width="0.55"/>
<circle cx="287" cy="72.62" r="1.85" fill="#fff" stroke="#222" stroke-width="0.55"/>
<circle cx="290.3" cy="83.22" r="1.85" fill="#fff" stroke="#222" stroke-width="0.55"/>
<circle cx="300.7" cy="83.22" r="1.85" fill="#fff" stroke="#222" stroke-width="0.55"/>
<circle cx="304" cy="72.62" r="1.85" fill="#fff" stroke="#222" stroke-width="0.55"/>
<polygon points="295.5,86.26 304,92.86 300.7,103.46 290.3,103.46 287,92.86" fill="#e6f1f9" stroke="#c4d4e0" stroke-width="0.5"/>
<line x1="300.7" y1="103.46" x2="304" y2="92.86" stroke="#333" stroke-width="0.5"/>
<line x1="290.3" y1="103.46" x2="300.7" y2="103.46" stroke="#333" stroke-width="0.5"/>
<line x1="290.3" y1="103.46" x2="304" y2="92.86" stroke="#333" stroke-width="0.5"/>
<line x1="295.5" y1="86.26" x2="290.3" y2="103.46" stroke="#333" stroke-width="0.5"/>
<line x1="295.5" y1="86.26" x2="300.7" y2="103.46" stroke="#333" stroke-width="0.5"/>
<line x1="295.5" y1="86.26" x2="304" y2="92.86" stroke="#333" stroke-width="0.5"/>
<line x1="287" y1="92.86" x2="304" y2="92.86" stroke="#333" stroke-width="0.5"/>
<line x1="287" y1="92.86" x2="300.7" y2="103.46" stroke="#1a1a1a" stroke-width="0.88"/>
<line x1="287" y1="92.86" x2="290.3" y2="103.46" stroke="#1a1a1a" stroke-width="0.88"/>
<line x1="295.5" y1="86.26" x2="287" y2="92.86" stroke="#1a1a1a" stroke-width="0.88"/>
<circle cx="295.5" cy="86.26" r="1.85" fill="#fff" stroke="#222" stroke-width="0.55"/>
<circle cx="287" cy="92.86" r="1.85" fill="#000" stroke="#222" stroke-width="0.55"/>
<circle cx="290.3" cy="103.46" r="1.85" fill="#fff" stroke="#222" stroke-width="0.55"/>
<circle cx="300.7" cy="103.46" r="1.85" fill="#fff" stroke="#222" stroke-width="0.55"/>
<circle cx="304" cy="92.86" r="1.85" fill="#fff" stroke="#222" stroke-width="0.55"/>
<polygon points="295.5,106.5 304,113.1 300.7,123.7 290.3,123.7 287,113.1" fill="#e6f1f9" stroke="#c4d4e0" stroke-width="0.5"/>
<line x1="300.7" y1="123.7" x2="304" y2="113.1" stroke="#333" stroke-width="0.5"/>
<line x1="290.3" y1="123.7" x2="300.7" y2="123.7" stroke="#333" stroke-width="0.5"/>
<line x1="290.3" y1="123.7" x2="304" y2="113.1" stroke="#333" stroke-width="0.5"/>
<line x1="295.5" y1="106.5" x2="290.3" y2="123.7" stroke="#333" stroke-width="0.5"/>
<line x1="295.5" y1="106.5" x2="300.7" y2="123.7" stroke="#333" stroke-width="0.5"/>
<line x1="295.5" y1="106.5" x2="304" y2="113.1" stroke="#333" stroke-width="0.5"/>
<line x1="287" y1="113.1" x2="304" y2="113.1" stroke="#333" stroke-width="0.5"/>
<line x1="287" y1="113.1" x2="300.7" y2="123.7" stroke="#1a1a1a" stroke-width="0.88"/>
<line x1="287" y1="113.1" x2="290.3" y2="123.7" stroke="#1a1a1a" stroke-width="0.88"/>
<line x1="295.5" y1="106.5" x2="287" y2="113.1" stroke="#1a1a1a" stroke-width="0.88"/>
<circle cx="295.5" cy="106.5" r="1.85" fill="#fff" stroke="#222" stroke-width="0.55"/>
<circle cx="287" cy="113.1" r="1.85" fill="#fff" stroke="#222" stroke-width="0.55"/>
<circle cx="290.3" cy="123.7" r="1.85" fill="#000" stroke="#222" stroke-width="0.55"/>
<circle cx="300.7" cy="123.7" r="1.85" fill="#fff" stroke="#222" stroke-width="0.55"/>
<circle cx="304" cy="113.1" r="1.85" fill="#fff" stroke="#222" stroke-width="0.55"/>
<polygon points="295.5,126.74 304,133.34 300.7,143.94 290.3,143.94 287,133.34" fill="#e6f1f9" stroke="#c4d4e0" stroke-width="0.5"/>
<line x1="300.7" y1="143.94" x2="304" y2="133.34" stroke="#333" stroke-width="0.5"/>
<line x1="290.3" y1="143.94" x2="300.7" y2="143.94" stroke="#333" stroke-width="0.5"/>
<line x1="290.3" y1="143.94" x2="304" y2="133.34" stroke="#333" stroke-width="0.5"/>
<line x1="295.5" y1="126.74" x2="290.3" y2="143.94" stroke="#333" stroke-width="0.5"/>
<line x1="295.5" y1="126.74" x2="300.7" y2="143.94" stroke="#333" stroke-width="0.5"/>
<line x1="295.5" y1="126.74" x2="304" y2="133.34" stroke="#333" stroke-width="0.5"/>
<line x1="287" y1="133.34" x2="304" y2="133.34" stroke="#333" stroke-width="0.5"/>
<line x1="287" y1="133.34" x2="300.7" y2="143.94" stroke="#1a1a1a" stroke-width="0.88"/>
<line x1="287" y1="133.34" x2="290.3" y2="143.94" stroke="#1a1a1a" stroke-width="0.88"/>
<line x1="295.5" y1="126.74" x2="287" y2="133.34" stroke="#1a1a1a" stroke-width="0.88"/>
<circle cx="295.5" cy="126.74" r="1.85" fill="#fff" stroke="#222" stroke-width="0.55"/>
<circle cx="287" cy="133.34" r="1.85" fill="#fff" stroke="#222" stroke-width="0.55"/>
<circle cx="290.3" cy="143.94" r="1.85" fill="#fff" stroke="#222" stroke-width="0.55"/>
<circle cx="300.7" cy="143.94" r="1.85" fill="#000" stroke="#222" stroke-width="0.55"/>
<circle cx="304" cy="133.34" r="1.85" fill="#fff" stroke="#222" stroke-width="0.55"/>
<polygon points="295.5,146.98 304,153.58 300.7,164.18 290.3,164.18 287,153.58" fill="#e6f1f9" stroke="#c4d4e0" stroke-width="0.5"/>
<line x1="300.7" y1="164.18" x2="304" y2="153.58" stroke="#333" stroke-width="0.5"/>
<line x1="290.3" y1="164.18" x2="300.7" y2="164.18" stroke="#333" stroke-width="0.5"/>
<line x1="290.3" y1="164.18" x2="304" y2="153.58" stroke="#333" stroke-width="0.5"/>
<line x1="295.5" y1="146.98" x2="290.3" y2="164.18" stroke="#333" stroke-width="0.5"/>
<line x1="295.5" y1="146.98" x2="300.7" y2="164.18" stroke="#333" stroke-width="0.5"/>
<line x1="295.5" y1="146.98" x2="304" y2="153.58" stroke="#333" stroke-width="0.5"/>
<line x1="287" y1="153.58" x2="304" y2="153.58" stroke="#333" stroke-width="0.5"/>
<line x1="287" y1="153.58" x2="300.7" y2="164.18" stroke="#1a1a1a" stroke-width="0.88"/>
<line x1="287" y1="153.58" x2="290.3" y2="164.18" stroke="#1a1a1a" stroke-width="0.88"/>
<line x1="295.5" y1="146.98" x2="287" y2="153.58" stroke="#1a1a1a" stroke-width="0.88"/>
<circle cx="295.5" cy="146.98" r="1.85" fill="#fff" stroke="#222" stroke-width="0.55"/>
<circle cx="287" cy="153.58" r="1.85" fill="#fff" stroke="#222" stroke-width="0.55"/>
<circle cx="290.3" cy="164.18" r="1.85" fill="#fff" stroke="#222" stroke-width="0.55"/>
<circle cx="300.7" cy="164.18" r="1.85" fill="#fff" stroke="#222" stroke-width="0.55"/>
<circle cx="304" cy="153.58" r="1.85" fill="#000" stroke="#222" stroke-width="0.55"/>
<polygon points="330.1,15.72 338.6,22.32 335.3,32.92 324.9,32.92 321.6,22.32" fill="#e6f1f9" stroke="#c4d4e0" stroke-width="0.5"/>
<line x1="335.3" y1="32.92" x2="338.6" y2="22.32" stroke="#333" stroke-width="0.5"/>
<line x1="324.9" y1="32.92" x2="335.3" y2="32.92" stroke="#333" stroke-width="0.5"/>
<line x1="324.9" y1="32.92" x2="338.6" y2="22.32" stroke="#333" stroke-width="0.5"/>
<line x1="330.1" y1="15.72" x2="324.9" y2="32.92" stroke="#333" stroke-width="0.5"/>
<line x1="330.1" y1="15.72" x2="335.3" y2="32.92" stroke="#333" stroke-width="0.5"/>
<line x1="330.1" y1="15.72" x2="338.6" y2="22.32" stroke="#333" stroke-width="0.5"/>
<line x1="321.6" y1="22.32" x2="338.6" y2="22.32" stroke="#333" stroke-width="0.5"/>
<line x1="321.6" y1="22.32" x2="335.3" y2="32.92" stroke="#1a1a1a" stroke-width="0.88"/>
<line x1="321.6" y1="22.32" x2="324.9" y2="32.92" stroke="#1a1a1a" stroke-width="0.88"/>
<line x1="330.1" y1="15.72" x2="321.6" y2="22.32" stroke="#1a1a1a" stroke-width="0.88"/>
<circle cx="330.1" cy="15.72" r="1.85" fill="#000" stroke="#222" stroke-width="0.55"/>
<circle cx="321.6" cy="22.32" r="1.85" fill="#000" stroke="#222" stroke-width="0.55"/>
<circle cx="324.9" cy="32.92" r="1.85" fill="#fff" stroke="#222" stroke-width="0.55"/>
<circle cx="335.3" cy="32.92" r="1.85" fill="#fff" stroke="#222" stroke-width="0.55"/>
<circle cx="338.6" cy="22.32" r="1.85" fill="#fff" stroke="#222" stroke-width="0.55"/>
<polygon points="330.1,35.96 338.6,42.56 335.3,53.16 324.9,53.16 321.6,42.56" fill="#e6f1f9" stroke="#c4d4e0" stroke-width="0.5"/>
<line x1="335.3" y1="53.16" x2="338.6" y2="42.56" stroke="#333" stroke-width="0.5"/>
<line x1="324.9" y1="53.16" x2="335.3" y2="53.16" stroke="#333" stroke-width="0.5"/>
<line x1="324.9" y1="53.16" x2="338.6" y2="42.56" stroke="#333" stroke-width="0.5"/>
<line x1="330.1" y1="35.96" x2="324.9" y2="53.16" stroke="#333" stroke-width="0.5"/>
<line x1="330.1" y1="35.96" x2="335.3" y2="53.16" stroke="#333" stroke-width="0.5"/>
<line x1="330.1" y1="35.96" x2="338.6" y2="42.56" stroke="#333" stroke-width="0.5"/>
<line x1="321.6" y1="42.56" x2="338.6" y2="42.56" stroke="#333" stroke-width="0.5"/>
<line x1="321.6" y1="42.56" x2="335.3" y2="53.16" stroke="#1a1a1a" stroke-width="0.88"/>
<line x1="321.6" y1="42.56" x2="324.9" y2="53.16" stroke="#1a1a1a" stroke-width="0.88"/>
<line x1="330.1" y1="35.96" x2="321.6" y2="42.56" stroke="#1a1a1a" stroke-width="0.88"/>
<circle cx="330.1" cy="35.96" r="1.85" fill="#000" stroke="#222" stroke-width="0.55"/>
<circle cx="321.6" cy="42.56" r="1.85" fill="#fff" stroke="#222" stroke-width="0.55"/>
<circle cx="324.9" cy="53.16" r="1.85" fill="#000" stroke="#222" stroke-width="0.55"/>
<circle cx="335.3" cy="53.16" r="1.85" fill="#fff" stroke="#222" stroke-width="0.55"/>
<circle cx="338.6" cy="42.56" r="1.85" fill="#fff" stroke="#222" stroke-width="0.55"/>
<polygon points="330.1,56.2 338.6,62.8 335.3,73.4 324.9,73.4 321.6,62.8" fill="#e6f1f9" stroke="#c4d4e0" stroke-width="0.5"/>
<line x1="335.3" y1="73.4" x2="338.6" y2="62.8" stroke="#333" stroke-width="0.5"/>
<line x1="324.9" y1="73.4" x2="335.3" y2="73.4" stroke="#333" stroke-width="0.5"/>
<line x1="324.9" y1="73.4" x2="338.6" y2="62.8" stroke="#333" stroke-width="0.5"/>
<line x1="330.1" y1="56.2" x2="324.9" y2="73.4" stroke="#333" stroke-width="0.5"/>
<line x1="330.1" y1="56.2" x2="335.3" y2="73.4" stroke="#333" stroke-width="0.5"/>
<line x1="330.1" y1="56.2" x2="338.6" y2="62.8" stroke="#333" stroke-width="0.5"/>
<line x1="321.6" y1="62.8" x2="338.6" y2="62.8" stroke="#333" stroke-width="0.5"/>
<line x1="321.6" y1="62.8" x2="335.3" y2="73.4" stroke="#1a1a1a" stroke-width="0.88"/>
<line x1="321.6" y1="62.8" x2="324.9" y2="73.4" stroke="#1a1a1a" stroke-width="0.88"/>
<line x1="330.1" y1="56.2" x2="321.6" y2="62.8" stroke="#1a1a1a" stroke-width="0.88"/>
<circle cx="330.1" cy="56.2" r="1.85" fill="#000" stroke="#222" stroke-width="0.55"/>
<circle cx="321.6" cy="62.8" r="1.85" fill="#fff" stroke="#222" stroke-width="0.55"/>
<circle cx="324.9" cy="73.4" r="1.85" fill="#fff" stroke="#222" stroke-width="0.55"/>
<circle cx="335.3" cy="73.4" r="1.85" fill="#000" stroke="#222" stroke-width="0.55"/>
<circle cx="338.6" cy="62.8" r="1.85" fill="#fff" stroke="#222" stroke-width="0.55"/>
<polygon points="330.1,76.44 338.6,83.04 335.3,93.64 324.9,93.64 321.6,83.04" fill="#e6f1f9" stroke="#c4d4e0" stroke-width="0.5"/>
<line x1="335.3" y1="93.64" x2="338.6" y2="83.04" stroke="#333" stroke-width="0.5"/>
<line x1="324.9" y1="93.64" x2="335.3" y2="93.64" stroke="#333" stroke-width="0.5"/>
<line x1="324.9" y1="93.64" x2="338.6" y2="83.04" stroke="#333" stroke-width="0.5"/>
<line x1="330.1" y1="76.44" x2="324.9" y2="93.64" stroke="#333" stroke-width="0.5"/>
<line x1="330.1" y1="76.44" x2="335.3" y2="93.64" stroke="#333" stroke-width="0.5"/>
<line x1="330.1" y1="76.44" x2="338.6" y2="83.04" stroke="#333" stroke-width="0.5"/>
<line x1="321.6" y1="83.04" x2="338.6" y2="83.04" stroke="#333" stroke-width="0.5"/>
<line x1="321.6" y1="83.04" x2="335.3" y2="93.64" stroke="#1a1a1a" stroke-width="0.88"/>
<line x1="321.6" y1="83.04" x2="324.9" y2="93.64" stroke="#1a1a1a" stroke-width="0.88"/>
<line x1="330.1" y1="76.44" x2="321.6" y2="83.04" stroke="#1a1a1a" stroke-width="0.88"/>
<circle cx="330.1" cy="76.44" r="1.85" fill="#000" stroke="#222" stroke-width="0.55"/>
<circle cx="321.6" cy="83.04" r="1.85" fill="#fff" stroke="#222" stroke-width="0.55"/>
<circle cx="324.9" cy="93.64" r="1.85" fill="#fff" stroke="#222" stroke-width="0.55"/>
<circle cx="335.3" cy="93.64" r="1.85" fill="#fff" stroke="#222" stroke-width="0.55"/>
<circle cx="338.6" cy="83.04" r="1.85" fill="#000" stroke="#222" stroke-width="0.55"/>
<polygon points="330.1,96.68 338.6,103.28 335.3,113.88 324.9,113.88 321.6,103.28" fill="#e6f1f9" stroke="#c4d4e0" stroke-width="0.5"/>
<line x1="335.3" y1="113.88" x2="338.6" y2="103.28" stroke="#333" stroke-width="0.5"/>
<line x1="324.9" y1="113.88" x2="335.3" y2="113.88" stroke="#333" stroke-width="0.5"/>
<line x1="324.9" y1="113.88" x2="338.6" y2="103.28" stroke="#333" stroke-width="0.5"/>
<line x1="330.1" y1="96.68" x2="324.9" y2="113.88" stroke="#333" stroke-width="0.5"/>
<line x1="330.1" y1="96.68" x2="335.3" y2="113.88" stroke="#333" stroke-width="0.5"/>
<line x1="330.1" y1="96.68" x2="338.6" y2="103.28" stroke="#333" stroke-width="0.5"/>
<line x1="321.6" y1="103.28" x2="338.6" y2="103.28" stroke="#333" stroke-width="0.5"/>
<line x1="321.6" y1="103.28" x2="335.3" y2="113.88" stroke="#1a1a1a" stroke-width="0.88"/>
<line x1="321.6" y1="103.28" x2="324.9" y2="113.88" stroke="#1a1a1a" stroke-width="0.88"/>
<line x1="330.1" y1="96.68" x2="321.6" y2="103.28" stroke="#1a1a1a" stroke-width="0.88"/>
<circle cx="330.1" cy="96.68" r="1.85" fill="#fff" stroke="#222" stroke-width="0.55"/>
<circle cx="321.6" cy="103.28" r="1.85" fill="#000" stroke="#222" stroke-width="0.55"/>
<circle cx="324.9" cy="113.88" r="1.85" fill="#000" stroke="#222" stroke-width="0.55"/>
<circle cx="335.3" cy="113.88" r="1.85" fill="#fff" stroke="#222" stroke-width="0.55"/>
<circle cx="338.6" cy="103.28" r="1.85" fill="#fff" stroke="#222" stroke-width="0.55"/>
<polygon points="330.1,116.92 338.6,123.52 335.3,134.12 324.9,134.12 321.6,123.52" fill="#e6f1f9" stroke="#c4d4e0" stroke-width="0.5"/>
<line x1="335.3" y1="134.12" x2="338.6" y2="123.52" stroke="#333" stroke-width="0.5"/>
<line x1="324.9" y1="134.12" x2="335.3" y2="134.12" stroke="#333" stroke-width="0.5"/>
<line x1="324.9" y1="134.12" x2="338.6" y2="123.52" stroke="#333" stroke-width="0.5"/>
<line x1="330.1" y1="116.92" x2="324.9" y2="134.12" stroke="#333" stroke-width="0.5"/>
<line x1="330.1" y1="116.92" x2="335.3" y2="134.12" stroke="#333" stroke-width="0.5"/>
<line x1="330.1" y1="116.92" x2="338.6" y2="123.52" stroke="#333" stroke-width="0.5"/>
<line x1="321.6" y1="123.52" x2="338.6" y2="123.52" stroke="#333" stroke-width="0.5"/>
<line x1="321.6" y1="123.52" x2="335.3" y2="134.12" stroke="#1a1a1a" stroke-width="0.88"/>
<line x1="321.6" y1="123.52" x2="324.9" y2="134.12" stroke="#1a1a1a" stroke-width="0.88"/>
<line x1="330.1" y1="116.92" x2="321.6" y2="123.52" stroke="#1a1a1a" stroke-width="0.88"/>
<circle cx="330.1" cy="116.92" r="1.85" fill="#fff" stroke="#222" stroke-width="0.55"/>
<circle cx="321.6" cy="123.52" r="1.85" fill="#000" stroke="#222" stroke-width="0.55"/>
<circle cx="324.9" cy="134.12" r="1.85" fill="#fff" stroke="#222" stroke-width="0.55"/>
<circle cx="335.3" cy="134.12" r="1.85" fill="#000" stroke="#222" stroke-width="0.55"/>
<circle cx="338.6" cy="123.52" r="1.85" fill="#fff" stroke="#222" stroke-width="0.55"/>
<polygon points="330.1,137.16 338.6,143.76 335.3,154.36 324.9,154.36 321.6,143.76" fill="#e6f1f9" stroke="#c4d4e0" stroke-width="0.5"/>
<line x1="335.3" y1="154.36" x2="338.6" y2="143.76" stroke="#333" stroke-width="0.5"/>
<line x1="324.9" y1="154.36" x2="335.3" y2="154.36" stroke="#333" stroke-width="0.5"/>
<line x1="324.9" y1="154.36" x2="338.6" y2="143.76" stroke="#333" stroke-width="0.5"/>
<line x1="330.1" y1="137.16" x2="324.9" y2="154.36" stroke="#333" stroke-width="0.5"/>
<line x1="330.1" y1="137.16" x2="335.3" y2="154.36" stroke="#333" stroke-width="0.5"/>
<line x1="330.1" y1="137.16" x2="338.6" y2="143.76" stroke="#333" stroke-width="0.5"/>
<line x1="321.6" y1="143.76" x2="338.6" y2="143.76" stroke="#333" stroke-width="0.5"/>
<line x1="321.6" y1="143.76" x2="335.3" y2="154.36" stroke="#1a1a1a" stroke-width="0.88"/>
<line x1="321.6" y1="143.76" x2="324.9" y2="154.36" stroke="#1a1a1a" stroke-width="0.88"/>
<line x1="330.1" y1="137.16" x2="321.6" y2="143.76" stroke="#1a1a1a" stroke-width="0.88"/>
<circle cx="330.1" cy="137.16" r="1.85" fill="#fff" stroke="#222" stroke-width="0.55"/>
<circle cx="321.6" cy="143.76" r="1.85" fill="#000" stroke="#222" stroke-width="0.55"/>
<circle cx="324.9" cy="154.36" r="1.85" fill="#fff" stroke="#222" stroke-width="0.55"/>
<circle cx="335.3" cy="154.36" r="1.85" fill="#fff" stroke="#222" stroke-width="0.55"/>
<circle cx="338.6" cy="143.76" r="1.85" fill="#000" stroke="#222" stroke-width="0.55"/>
<polygon points="330.1,157.4 338.6,164 335.3,174.6 324.9,174.6 321.6,164" fill="#e6f1f9" stroke="#c4d4e0" stroke-width="0.5"/>
<line x1="335.3" y1="174.6" x2="338.6" y2="164" stroke="#333" stroke-width="0.5"/>
<line x1="324.9" y1="174.6" x2="335.3" y2="174.6" stroke="#333" stroke-width="0.5"/>
<line x1="324.9" y1="174.6" x2="338.6" y2="164" stroke="#333" stroke-width="0.5"/>
<line x1="330.1" y1="157.4" x2="324.9" y2="174.6" stroke="#333" stroke-width="0.5"/>
<line x1="330.1" y1="157.4" x2="335.3" y2="174.6" stroke="#333" stroke-width="0.5"/>
<line x1="330.1" y1="157.4" x2="338.6" y2="164" stroke="#333" stroke-width="0.5"/>
<line x1="321.6" y1="164" x2="338.6" y2="164" stroke="#333" stroke-width="0.5"/>
<line x1="321.6" y1="164" x2="335.3" y2="174.6" stroke="#1a1a1a" stroke-width="0.88"/>
<line x1="321.6" y1="164" x2="324.9" y2="174.6" stroke="#1a1a1a" stroke-width="0.88"/>
<line x1="330.1" y1="157.4" x2="321.6" y2="164" stroke="#1a1a1a" stroke-width="0.88"/>
<circle cx="330.1" cy="157.4" r="1.85" fill="#fff" stroke="#222" stroke-width="0.55"/>
<circle cx="321.6" cy="164" r="1.85" fill="#fff" stroke="#222" stroke-width="0.55"/>
<circle cx="324.9" cy="174.6" r="1.85" fill="#000" stroke="#222" stroke-width="0.55"/>
<circle cx="335.3" cy="174.6" r="1.85" fill="#000" stroke="#222" stroke-width="0.55"/>
<circle cx="338.6" cy="164" r="1.85" fill="#fff" stroke="#222" stroke-width="0.55"/>
<polygon points="330.1,177.64 338.6,184.24 335.3,194.84 324.9,194.84 321.6,184.24" fill="#e6f1f9" stroke="#c4d4e0" stroke-width="0.5"/>
<line x1="335.3" y1="194.84" x2="338.6" y2="184.24" stroke="#333" stroke-width="0.5"/>
<line x1="324.9" y1="194.84" x2="335.3" y2="194.84" stroke="#333" stroke-width="0.5"/>
<line x1="324.9" y1="194.84" x2="338.6" y2="184.24" stroke="#333" stroke-width="0.5"/>
<line x1="330.1" y1="177.64" x2="324.9" y2="194.84" stroke="#333" stroke-width="0.5"/>
<line x1="330.1" y1="177.64" x2="335.3" y2="194.84" stroke="#333" stroke-width="0.5"/>
<line x1="330.1" y1="177.64" x2="338.6" y2="184.24" stroke="#333" stroke-width="0.5"/>
<line x1="321.6" y1="184.24" x2="338.6" y2="184.24" stroke="#333" stroke-width="0.5"/>
<line x1="321.6" y1="184.24" x2="335.3" y2="194.84" stroke="#1a1a1a" stroke-width="0.88"/>
<line x1="321.6" y1="184.24" x2="324.9" y2="194.84" stroke="#1a1a1a" stroke-width="0.88"/>
<line x1="330.1" y1="177.64" x2="321.6" y2="184.24" stroke="#1a1a1a" stroke-width="0.88"/>
<circle cx="330.1" cy="177.64" r="1.85" fill="#fff" stroke="#222" stroke-width="0.55"/>
<circle cx="321.6" cy="184.24" r="1.85" fill="#fff" stroke="#222" stroke-width="0.55"/>
<circle cx="324.9" cy="194.84" r="1.85" fill="#000" stroke="#222" stroke-width="0.55"/>
<circle cx="335.3" cy="194.84" r="1.85" fill="#fff" stroke="#222" stroke-width="0.55"/>
<circle cx="338.6" cy="184.24" r="1.85" fill="#000" stroke="#222" stroke-width="0.55"/>
<polygon points="330.1,197.88 338.6,204.48 335.3,215.08 324.9,215.08 321.6,204.48" fill="#e6f1f9" stroke="#c4d4e0" stroke-width="0.5"/>
<line x1="335.3" y1="215.08" x2="338.6" y2="204.48" stroke="#333" stroke-width="0.5"/>
<line x1="324.9" y1="215.08" x2="335.3" y2="215.08" stroke="#333" stroke-width="0.5"/>
<line x1="324.9" y1="215.08" x2="338.6" y2="204.48" stroke="#333" stroke-width="0.5"/>
<line x1="330.1" y1="197.88" x2="324.9" y2="215.08" stroke="#333" stroke-width="0.5"/>
<line x1="330.1" y1="197.88" x2="335.3" y2="215.08" stroke="#333" stroke-width="0.5"/>
<line x1="330.1" y1="197.88" x2="338.6" y2="204.48" stroke="#333" stroke-width="0.5"/>
<line x1="321.6" y1="204.48" x2="338.6" y2="204.48" stroke="#333" stroke-width="0.5"/>
<line x1="321.6" y1="204.48" x2="335.3" y2="215.08" stroke="#1a1a1a" stroke-width="0.88"/>
<line x1="321.6" y1="204.48" x2="324.9" y2="215.08" stroke="#1a1a1a" stroke-width="0.88"/>
<line x1="330.1" y1="197.88" x2="321.6" y2="204.48" stroke="#1a1a1a" stroke-width="0.88"/>
<circle cx="330.1" cy="197.88" r="1.85" fill="#fff" stroke="#222" stroke-width="0.55"/>
<circle cx="321.6" cy="204.48" r="1.85" fill="#fff" stroke="#222" stroke-width="0.55"/>
<circle cx="324.9" cy="215.08" r="1.85" fill="#fff" stroke="#222" stroke-width="0.55"/>
<circle cx="335.3" cy="215.08" r="1.85" fill="#000" stroke="#222" stroke-width="0.55"/>
<circle cx="338.6" cy="204.48" r="1.85" fill="#000" stroke="#222" stroke-width="0.55"/>
<polygon points="364.6,15.72 373.1,22.32 369.8,32.92 359.4,32.92 356.1,22.32" fill="#e6f1f9" stroke="#c4d4e0" stroke-width="0.5"/>
<line x1="369.8" y1="32.92" x2="373.1" y2="22.32" stroke="#333" stroke-width="0.5"/>
<line x1="359.4" y1="32.92" x2="369.8" y2="32.92" stroke="#333" stroke-width="0.5"/>
<line x1="359.4" y1="32.92" x2="373.1" y2="22.32" stroke="#333" stroke-width="0.5"/>
<line x1="364.6" y1="15.72" x2="359.4" y2="32.92" stroke="#333" stroke-width="0.5"/>
<line x1="364.6" y1="15.72" x2="369.8" y2="32.92" stroke="#333" stroke-width="0.5"/>
<line x1="364.6" y1="15.72" x2="373.1" y2="22.32" stroke="#333" stroke-width="0.5"/>
<line x1="356.1" y1="22.32" x2="373.1" y2="22.32" stroke="#333" stroke-width="0.5"/>
<line x1="356.1" y1="22.32" x2="369.8" y2="32.92" stroke="#1a1a1a" stroke-width="0.88"/>
<line x1="356.1" y1="22.32" x2="359.4" y2="32.92" stroke="#1a1a1a" stroke-width="0.88"/>
<line x1="364.6" y1="15.72" x2="356.1" y2="22.32" stroke="#1a1a1a" stroke-width="0.88"/>
<circle cx="364.6" cy="15.72" r="1.85" fill="#000" stroke="#222" stroke-width="0.55"/>
<circle cx="356.1" cy="22.32" r="1.85" fill="#000" stroke="#222" stroke-width="0.55"/>
<circle cx="359.4" cy="32.92" r="1.85" fill="#000" stroke="#222" stroke-width="0.55"/>
<circle cx="369.8" cy="32.92" r="1.85" fill="#fff" stroke="#222" stroke-width="0.55"/>
<circle cx="373.1" cy="22.32" r="1.85" fill="#fff" stroke="#222" stroke-width="0.55"/>
<polygon points="364.6,35.96 373.1,42.56 369.8,53.16 359.4,53.16 356.1,42.56" fill="#e6f1f9" stroke="#c4d4e0" stroke-width="0.5"/>
<line x1="369.8" y1="53.16" x2="373.1" y2="42.56" stroke="#333" stroke-width="0.5"/>
<line x1="359.4" y1="53.16" x2="369.8" y2="53.16" stroke="#333" stroke-width="0.5"/>
<line x1="359.4" y1="53.16" x2="373.1" y2="42.56" stroke="#333" stroke-width="0.5"/>
<line x1="364.6" y1="35.96" x2="359.4" y2="53.16" stroke="#333" stroke-width="0.5"/>
<line x1="364.6" y1="35.96" x2="369.8" y2="53.16" stroke="#333" stroke-width="0.5"/>
<line x1="364.6" y1="35.96" x2="373.1" y2="42.56" stroke="#333" stroke-width="0.5"/>
<line x1="356.1" y1="42.56" x2="373.1" y2="42.56" stroke="#333" stroke-width="0.5"/>
<line x1="356.1" y1="42.56" x2="369.8" y2="53.16" stroke="#1a1a1a" stroke-width="0.88"/>
<line x1="356.1" y1="42.56" x2="359.4" y2="53.16" stroke="#1a1a1a" stroke-width="0.88"/>
<line x1="364.6" y1="35.96" x2="356.1" y2="42.56" stroke="#1a1a1a" stroke-width="0.88"/>
<circle cx="364.6" cy="35.96" r="1.85" fill="#000" stroke="#222" stroke-width="0.55"/>
<circle cx="356.1" cy="42.56" r="1.85" fill="#000" stroke="#222" stroke-width="0.55"/>
<circle cx="359.4" cy="53.16" r="1.85" fill="#fff" stroke="#222" stroke-width="0.55"/>
<circle cx="369.8" cy="53.16" r="1.85" fill="#000" stroke="#222" stroke-width="0.55"/>
<circle cx="373.1" cy="42.56" r="1.85" fill="#fff" stroke="#222" stroke-width="0.55"/>
<polygon points="364.6,56.2 373.1,62.8 369.8,73.4 359.4,73.4 356.1,62.8" fill="#e6f1f9" stroke="#c4d4e0" stroke-width="0.5"/>
<line x1="369.8" y1="73.4" x2="373.1" y2="62.8" stroke="#333" stroke-width="0.5"/>
<line x1="359.4" y1="73.4" x2="369.8" y2="73.4" stroke="#333" stroke-width="0.5"/>
<line x1="359.4" y1="73.4" x2="373.1" y2="62.8" stroke="#333" stroke-width="0.5"/>
<line x1="364.6" y1="56.2" x2="359.4" y2="73.4" stroke="#333" stroke-width="0.5"/>
<line x1="364.6" y1="56.2" x2="369.8" y2="73.4" stroke="#333" stroke-width="0.5"/>
<line x1="364.6" y1="56.2" x2="373.1" y2="62.8" stroke="#333" stroke-width="0.5"/>
<line x1="356.1" y1="62.8" x2="373.1" y2="62.8" stroke="#333" stroke-width="0.5"/>
<line x1="356.1" y1="62.8" x2="369.8" y2="73.4" stroke="#1a1a1a" stroke-width="0.88"/>
<line x1="356.1" y1="62.8" x2="359.4" y2="73.4" stroke="#1a1a1a" stroke-width="0.88"/>
<line x1="364.6" y1="56.2" x2="356.1" y2="62.8" stroke="#1a1a1a" stroke-width="0.88"/>
<circle cx="364.6" cy="56.2" r="1.85" fill="#000" stroke="#222" stroke-width="0.55"/>
<circle cx="356.1" cy="62.8" r="1.85" fill="#000" stroke="#222" stroke-width="0.55"/>
<circle cx="359.4" cy="73.4" r="1.85" fill="#fff" stroke="#222" stroke-width="0.55"/>
<circle cx="369.8" cy="73.4" r="1.85" fill="#fff" stroke="#222" stroke-width="0.55"/>
<circle cx="373.1" cy="62.8" r="1.85" fill="#000" stroke="#222" stroke-width="0.55"/>
<polygon points="364.6,76.44 373.1,83.04 369.8,93.64 359.4,93.64 356.1,83.04" fill="#e6f1f9" stroke="#c4d4e0" stroke-width="0.5"/>
<line x1="369.8" y1="93.64" x2="373.1" y2="83.04" stroke="#333" stroke-width="0.5"/>
<line x1="359.4" y1="93.64" x2="369.8" y2="93.64" stroke="#333" stroke-width="0.5"/>
<line x1="359.4" y1="93.64" x2="373.1" y2="83.04" stroke="#333" stroke-width="0.5"/>
<line x1="364.6" y1="76.44" x2="359.4" y2="93.64" stroke="#333" stroke-width="0.5"/>
<line x1="364.6" y1="76.44" x2="369.8" y2="93.64" stroke="#333" stroke-width="0.5"/>
<line x1="364.6" y1="76.44" x2="373.1" y2="83.04" stroke="#333" stroke-width="0.5"/>
<line x1="356.1" y1="83.04" x2="373.1" y2="83.04" stroke="#333" stroke-width="0.5"/>
<line x1="356.1" y1="83.04" x2="369.8" y2="93.64" stroke="#1a1a1a" stroke-width="0.88"/>
<line x1="356.1" y1="83.04" x2="359.4" y2="93.64" stroke="#1a1a1a" stroke-width="0.88"/>
<line x1="364.6" y1="76.44" x2="356.1" y2="83.04" stroke="#1a1a1a" stroke-width="0.88"/>
<circle cx="364.6" cy="76.44" r="1.85" fill="#000" stroke="#222" stroke-width="0.55"/>
<circle cx="356.1" cy="83.04" r="1.85" fill="#fff" stroke="#222" stroke-width="0.55"/>
<circle cx="359.4" cy="93.64" r="1.85" fill="#000" stroke="#222" stroke-width="0.55"/>
<circle cx="369.8" cy="93.64" r="1.85" fill="#000" stroke="#222" stroke-width="0.55"/>
<circle cx="373.1" cy="83.04" r="1.85" fill="#fff" stroke="#222" stroke-width="0.55"/>
<polygon points="364.6,96.68 373.1,103.28 369.8,113.88 359.4,113.88 356.1,103.28" fill="#e6f1f9" stroke="#c4d4e0" stroke-width="0.5"/>
<line x1="369.8" y1="113.88" x2="373.1" y2="103.28" stroke="#333" stroke-width="0.5"/>
<line x1="359.4" y1="113.88" x2="369.8" y2="113.88" stroke="#333" stroke-width="0.5"/>
<line x1="359.4" y1="113.88" x2="373.1" y2="103.28" stroke="#333" stroke-width="0.5"/>
<line x1="364.6" y1="96.68" x2="359.4" y2="113.88" stroke="#333" stroke-width="0.5"/>
<line x1="364.6" y1="96.68" x2="369.8" y2="113.88" stroke="#333" stroke-width="0.5"/>
<line x1="364.6" y1="96.68" x2="373.1" y2="103.28" stroke="#333" stroke-width="0.5"/>
<line x1="356.1" y1="103.28" x2="373.1" y2="103.28" stroke="#333" stroke-width="0.5"/>
<line x1="356.1" y1="103.28" x2="369.8" y2="113.88" stroke="#1a1a1a" stroke-width="0.88"/>
<line x1="356.1" y1="103.28" x2="359.4" y2="113.88" stroke="#1a1a1a" stroke-width="0.88"/>
<line x1="364.6" y1="96.68" x2="356.1" y2="103.28" stroke="#1a1a1a" stroke-width="0.88"/>
<circle cx="364.6" cy="96.68" r="1.85" fill="#000" stroke="#222" stroke-width="0.55"/>
<circle cx="356.1" cy="103.28" r="1.85" fill="#fff" stroke="#222" stroke-width="0.55"/>
<circle cx="359.4" cy="113.88" r="1.85" fill="#000" stroke="#222" stroke-width="0.55"/>
<circle cx="369.8" cy="113.88" r="1.85" fill="#fff" stroke="#222" stroke-width="0.55"/>
<circle cx="373.1" cy="103.28" r="1.85" fill="#000" stroke="#222" stroke-width="0.55"/>
<polygon points="364.6,116.92 373.1,123.52 369.8,134.12 359.4,134.12 356.1,123.52" fill="#e6f1f9" stroke="#c4d4e0" stroke-width="0.5"/>
<line x1="369.8" y1="134.12" x2="373.1" y2="123.52" stroke="#333" stroke-width="0.5"/>
<line x1="359.4" y1="134.12" x2="369.8" y2="134.12" stroke="#333" stroke-width="0.5"/>
<line x1="359.4" y1="134.12" x2="373.1" y2="123.52" stroke="#333" stroke-width="0.5"/>
<line x1="364.6" y1="116.92" x2="359.4" y2="134.12" stroke="#333" stroke-width="0.5"/>
<line x1="364.6" y1="116.92" x2="369.8" y2="134.12" stroke="#333" stroke-width="0.5"/>
<line x1="364.6" y1="116.92" x2="373.1" y2="123.52" stroke="#333" stroke-width="0.5"/>
<line x1="356.1" y1="123.52" x2="373.1" y2="123.52" stroke="#333" stroke-width="0.5"/>
<line x1="356.1" y1="123.52" x2="369.8" y2="134.12" stroke="#1a1a1a" stroke-width="0.88"/>
<line x1="356.1" y1="123.52" x2="359.4" y2="134.12" stroke="#1a1a1a" stroke-width="0.88"/>
<line x1="364.6" y1="116.92" x2="356.1" y2="123.52" stroke="#1a1a1a" stroke-width="0.88"/>
<circle cx="364.6" cy="116.92" r="1.85" fill="#000" stroke="#222" stroke-width="0.55"/>
<circle cx="356.1" cy="123.52" r="1.85" fill="#fff" stroke="#222" stroke-width="0.55"/>
<circle cx="359.4" cy="134.12" r="1.85" fill="#fff" stroke="#222" stroke-width="0.55"/>
<circle cx="369.8" cy="134.12" r="1.85" fill="#000" stroke="#222" stroke-width="0.55"/>
<circle cx="373.1" cy="123.52" r="1.85" fill="#000" stroke="#222" stroke-width="0.55"/>
<polygon points="364.6,137.16 373.1,143.76 369.8,154.36 359.4,154.36 356.1,143.76" fill="#e6f1f9" stroke="#c4d4e0" stroke-width="0.5"/>
<line x1="369.8" y1="154.36" x2="373.1" y2="143.76" stroke="#333" stroke-width="0.5"/>
<line x1="359.4" y1="154.36" x2="369.8" y2="154.36" stroke="#333" stroke-width="0.5"/>
<line x1="359.4" y1="154.36" x2="373.1" y2="143.76" stroke="#333" stroke-width="0.5"/>
<line x1="364.6" y1="137.16" x2="359.4" y2="154.36" stroke="#333" stroke-width="0.5"/>
<line x1="364.6" y1="137.16" x2="369.8" y2="154.36" stroke="#333" stroke-width="0.5"/>
<line x1="364.6" y1="137.16" x2="373.1" y2="143.76" stroke="#333" stroke-width="0.5"/>
<line x1="356.1" y1="143.76" x2="373.1" y2="143.76" stroke="#333" stroke-width="0.5"/>
<line x1="356.1" y1="143.76" x2="369.8" y2="154.36" stroke="#1a1a1a" stroke-width="0.88"/>
<line x1="356.1" y1="143.76" x2="359.4" y2="154.36" stroke="#1a1a1a" stroke-width="0.88"/>
<line x1="364.6" y1="137.16" x2="356.1" y2="143.76" stroke="#1a1a1a" stroke-width="0.88"/>
<circle cx="364.6" cy="137.16" r="1.85" fill="#fff" stroke="#222" stroke-width="0.55"/>
<circle cx="356.1" cy="143.76" r="1.85" fill="#000" stroke="#222" stroke-width="0.55"/>
<circle cx="359.4" cy="154.36" r="1.85" fill="#000" stroke="#222" stroke-width="0.55"/>
<circle cx="369.8" cy="154.36" r="1.85" fill="#000" stroke="#222" stroke-width="0.55"/>
<circle cx="373.1" cy="143.76" r="1.85" fill="#fff" stroke="#222" stroke-width="0.55"/>
<polygon points="364.6,157.4 373.1,164 369.8,174.6 359.4,174.6 356.1,164" fill="#e6f1f9" stroke="#c4d4e0" stroke-width="0.5"/>
<line x1="369.8" y1="174.6" x2="373.1" y2="164" stroke="#333" stroke-width="0.5"/>
<line x1="359.4" y1="174.6" x2="369.8" y2="174.6" stroke="#333" stroke-width="0.5"/>
<line x1="359.4" y1="174.6" x2="373.1" y2="164" stroke="#333" stroke-width="0.5"/>
<line x1="364.6" y1="157.4" x2="359.4" y2="174.6" stroke="#333" stroke-width="0.5"/>
<line x1="364.6" y1="157.4" x2="369.8" y2="174.6" stroke="#333" stroke-width="0.5"/>
<line x1="364.6" y1="157.4" x2="373.1" y2="164" stroke="#333" stroke-width="0.5"/>
<line x1="356.1" y1="164" x2="373.1" y2="164" stroke="#333" stroke-width="0.5"/>
<line x1="356.1" y1="164" x2="369.8" y2="174.6" stroke="#1a1a1a" stroke-width="0.88"/>
<line x1="356.1" y1="164" x2="359.4" y2="174.6" stroke="#1a1a1a" stroke-width="0.88"/>
<line x1="364.6" y1="157.4" x2="356.1" y2="164" stroke="#1a1a1a" stroke-width="0.88"/>
<circle cx="364.6" cy="157.4" r="1.85" fill="#fff" stroke="#222" stroke-width="0.55"/>
<circle cx="356.1" cy="164" r="1.85" fill="#000" stroke="#222" stroke-width="0.55"/>
<circle cx="359.4" cy="174.6" r="1.85" fill="#000" stroke="#222" stroke-width="0.55"/>
<circle cx="369.8" cy="174.6" r="1.85" fill="#fff" stroke="#222" stroke-width="0.55"/>
<circle cx="373.1" cy="164" r="1.85" fill="#000" stroke="#222" stroke-width="0.55"/>
<polygon points="364.6,177.64 373.1,184.24 369.8,194.84 359.4,194.84 356.1,184.24" fill="#e6f1f9" stroke="#c4d4e0" stroke-width="0.5"/>
<line x1="369.8" y1="194.84" x2="373.1" y2="184.24" stroke="#333" stroke-width="0.5"/>
<line x1="359.4" y1="194.84" x2="369.8" y2="194.84" stroke="#333" stroke-width="0.5"/>
<line x1="359.4" y1="194.84" x2="373.1" y2="184.24" stroke="#333" stroke-width="0.5"/>
<line x1="364.6" y1="177.64" x2="359.4" y2="194.84" stroke="#333" stroke-width="0.5"/>
<line x1="364.6" y1="177.64" x2="369.8" y2="194.84" stroke="#333" stroke-width="0.5"/>
<line x1="364.6" y1="177.64" x2="373.1" y2="184.24" stroke="#333" stroke-width="0.5"/>
<line x1="356.1" y1="184.24" x2="373.1" y2="184.24" stroke="#333" stroke-width="0.5"/>
<line x1="356.1" y1="184.24" x2="369.8" y2="194.84" stroke="#1a1a1a" stroke-width="0.88"/>
<line x1="356.1" y1="184.24" x2="359.4" y2="194.84" stroke="#1a1a1a" stroke-width="0.88"/>
<line x1="364.6" y1="177.64" x2="356.1" y2="184.24" stroke="#1a1a1a" stroke-width="0.88"/>
<circle cx="364.6" cy="177.64" r="1.85" fill="#fff" stroke="#222" stroke-width="0.55"/>
<circle cx="356.1" cy="184.24" r="1.85" fill="#000" stroke="#222" stroke-width="0.55"/>
<circle cx="359.4" cy="194.84" r="1.85" fill="#fff" stroke="#222" stroke-width="0.55"/>
<circle cx="369.8" cy="194.84" r="1.85" fill="#000" stroke="#222" stroke-width="0.55"/>
<circle cx="373.1" cy="184.24" r="1.85" fill="#000" stroke="#222" stroke-width="0.55"/>
<polygon points="364.6,197.88 373.1,204.48 369.8,215.08 359.4,215.08 356.1,204.48" fill="#e6f1f9" stroke="#c4d4e0" stroke-width="0.5"/>
<line x1="369.8" y1="215.08" x2="373.1" y2="204.48" stroke="#333" stroke-width="0.5"/>
<line x1="359.4" y1="215.08" x2="369.8" y2="215.08" stroke="#333" stroke-width="0.5"/>
<line x1="359.4" y1="215.08" x2="373.1" y2="204.48" stroke="#333" stroke-width="0.5"/>
<line x1="364.6" y1="197.88" x2="359.4" y2="215.08" stroke="#333" stroke-width="0.5"/>
<line x1="364.6" y1="197.88" x2="369.8" y2="215.08" stroke="#333" stroke-width="0.5"/>
<line x1="364.6" y1="197.88" x2="373.1" y2="204.48" stroke="#333" stroke-width="0.5"/>
<line x1="356.1" y1="204.48" x2="373.1" y2="204.48" stroke="#333" stroke-width="0.5"/>
<line x1="356.1" y1="204.48" x2="369.8" y2="215.08" stroke="#1a1a1a" stroke-width="0.88"/>
<line x1="356.1" y1="204.48" x2="359.4" y2="215.08" stroke="#1a1a1a" stroke-width="0.88"/>
<line x1="364.6" y1="197.88" x2="356.1" y2="204.48" stroke="#1a1a1a" stroke-width="0.88"/>
<circle cx="364.6" cy="197.88" r="1.85" fill="#fff" stroke="#222" stroke-width="0.55"/>
<circle cx="356.1" cy="204.48" r="1.85" fill="#fff" stroke="#222" stroke-width="0.55"/>
<circle cx="359.4" cy="215.08" r="1.85" fill="#000" stroke="#222" stroke-width="0.55"/>
<circle cx="369.8" cy="215.08" r="1.85" fill="#000" stroke="#222" stroke-width="0.55"/>
<circle cx="373.1" cy="204.48" r="1.85" fill="#000" stroke="#222" stroke-width="0.55"/>
<polygon points="401.6,66.12 410.1,72.72 406.8,83.32 396.4,83.32 393.1,72.72" fill="#e6f1f9" stroke="#c4d4e0" stroke-width="0.5"/>
<line x1="406.8" y1="83.32" x2="410.1" y2="72.72" stroke="#333" stroke-width="0.5"/>
<line x1="396.4" y1="83.32" x2="406.8" y2="83.32" stroke="#333" stroke-width="0.5"/>
<line x1="396.4" y1="83.32" x2="410.1" y2="72.72" stroke="#333" stroke-width="0.5"/>
<line x1="401.6" y1="66.12" x2="396.4" y2="83.32" stroke="#333" stroke-width="0.5"/>
<line x1="401.6" y1="66.12" x2="406.8" y2="83.32" stroke="#333" stroke-width="0.5"/>
<line x1="401.6" y1="66.12" x2="410.1" y2="72.72" stroke="#333" stroke-width="0.5"/>
<line x1="393.1" y1="72.72" x2="410.1" y2="72.72" stroke="#333" stroke-width="0.5"/>
<line x1="393.1" y1="72.72" x2="406.8" y2="83.32" stroke="#1a1a1a" stroke-width="0.88"/>
<line x1="393.1" y1="72.72" x2="396.4" y2="83.32" stroke="#1a1a1a" stroke-width="0.88"/>
<line x1="401.6" y1="66.12" x2="393.1" y2="72.72" stroke="#1a1a1a" stroke-width="0.88"/>
<circle cx="401.6" cy="66.12" r="1.85" fill="#000" stroke="#222" stroke-width="0.55"/>
<circle cx="393.1" cy="72.72" r="1.85" fill="#000" stroke="#222" stroke-width="0.55"/>
<circle cx="396.4" cy="83.32" r="1.85" fill="#000" stroke="#222" stroke-width="0.55"/>
<circle cx="406.8" cy="83.32" r="1.85" fill="#000" stroke="#222" stroke-width="0.55"/>
<circle cx="410.1" cy="72.72" r="1.85" fill="#fff" stroke="#222" stroke-width="0.55"/>
<polygon points="401.6,86.36 410.1,92.96 406.8,103.56 396.4,103.56 393.1,92.96" fill="#e6f1f9" stroke="#c4d4e0" stroke-width="0.5"/>
<line x1="406.8" y1="103.56" x2="410.1" y2="92.96" stroke="#333" stroke-width="0.5"/>
<line x1="396.4" y1="103.56" x2="406.8" y2="103.56" stroke="#333" stroke-width="0.5"/>
<line x1="396.4" y1="103.56" x2="410.1" y2="92.96" stroke="#333" stroke-width="0.5"/>
<line x1="401.6" y1="86.36" x2="396.4" y2="103.56" stroke="#333" stroke-width="0.5"/>
<line x1="401.6" y1="86.36" x2="406.8" y2="103.56" stroke="#333" stroke-width="0.5"/>
<line x1="401.6" y1="86.36" x2="410.1" y2="92.96" stroke="#333" stroke-width="0.5"/>
<line x1="393.1" y1="92.96" x2="410.1" y2="92.96" stroke="#333" stroke-width="0.5"/>
<line x1="393.1" y1="92.96" x2="406.8" y2="103.56" stroke="#1a1a1a" stroke-width="0.88"/>
<line x1="393.1" y1="92.96" x2="396.4" y2="103.56" stroke="#1a1a1a" stroke-width="0.88"/>
<line x1="401.6" y1="86.36" x2="393.1" y2="92.96" stroke="#1a1a1a" stroke-width="0.88"/>
<circle cx="401.6" cy="86.36" r="1.85" fill="#000" stroke="#222" stroke-width="0.55"/>
<circle cx="393.1" cy="92.96" r="1.85" fill="#000" stroke="#222" stroke-width="0.55"/>
<circle cx="396.4" cy="103.56" r="1.85" fill="#000" stroke="#222" stroke-width="0.55"/>
<circle cx="406.8" cy="103.56" r="1.85" fill="#fff" stroke="#222" stroke-width="0.55"/>
<circle cx="410.1" cy="92.96" r="1.85" fill="#000" stroke="#222" stroke-width="0.55"/>
<polygon points="401.6,106.6 410.1,113.2 406.8,123.8 396.4,123.8 393.1,113.2" fill="#e6f1f9" stroke="#c4d4e0" stroke-width="0.5"/>
<line x1="406.8" y1="123.8" x2="410.1" y2="113.2" stroke="#333" stroke-width="0.5"/>
<line x1="396.4" y1="123.8" x2="406.8" y2="123.8" stroke="#333" stroke-width="0.5"/>
<line x1="396.4" y1="123.8" x2="410.1" y2="113.2" stroke="#333" stroke-width="0.5"/>
<line x1="401.6" y1="106.6" x2="396.4" y2="123.8" stroke="#333" stroke-width="0.5"/>
<line x1="401.6" y1="106.6" x2="406.8" y2="123.8" stroke="#333" stroke-width="0.5"/>
<line x1="401.6" y1="106.6" x2="410.1" y2="113.2" stroke="#333" stroke-width="0.5"/>
<line x1="393.1" y1="113.2" x2="410.1" y2="113.2" stroke="#333" stroke-width="0.5"/>
<line x1="393.1" y1="113.2" x2="406.8" y2="123.8" stroke="#1a1a1a" stroke-width="0.88"/>
<line x1="393.1" y1="113.2" x2="396.4" y2="123.8" stroke="#1a1a1a" stroke-width="0.88"/>
<line x1="401.6" y1="106.6" x2="393.1" y2="113.2" stroke="#1a1a1a" stroke-width="0.88"/>
<circle cx="401.6" cy="106.6" r="1.85" fill="#000" stroke="#222" stroke-width="0.55"/>
<circle cx="393.1" cy="113.2" r="1.85" fill="#000" stroke="#222" stroke-width="0.55"/>
<circle cx="396.4" cy="123.8" r="1.85" fill="#fff" stroke="#222" stroke-width="0.55"/>
<circle cx="406.8" cy="123.8" r="1.85" fill="#000" stroke="#222" stroke-width="0.55"/>
<circle cx="410.1" cy="113.2" r="1.85" fill="#000" stroke="#222" stroke-width="0.55"/>
<polygon points="401.6,126.84 410.1,133.44 406.8,144.04 396.4,144.04 393.1,133.44" fill="#e6f1f9" stroke="#c4d4e0" stroke-width="0.5"/>
<line x1="406.8" y1="144.04" x2="410.1" y2="133.44" stroke="#333" stroke-width="0.5"/>
<line x1="396.4" y1="144.04" x2="406.8" y2="144.04" stroke="#333" stroke-width="0.5"/>
<line x1="396.4" y1="144.04" x2="410.1" y2="133.44" stroke="#333" stroke-width="0.5"/>
<line x1="401.6" y1="126.84" x2="396.4" y2="144.04" stroke="#333" stroke-width="0.5"/>
<line x1="401.6" y1="126.84" x2="406.8" y2="144.04" stroke="#333" stroke-width="0.5"/>
<line x1="401.6" y1="126.84" x2="410.1" y2="133.44" stroke="#333" stroke-width="0.5"/>
<line x1="393.1" y1="133.44" x2="410.1" y2="133.44" stroke="#333" stroke-width="0.5"/>
<line x1="393.1" y1="133.44" x2="406.8" y2="144.04" stroke="#1a1a1a" stroke-width="0.88"/>
<line x1="393.1" y1="133.44" x2="396.4" y2="144.04" stroke="#1a1a1a" stroke-width="0.88"/>
<line x1="401.6" y1="126.84" x2="393.1" y2="133.44" stroke="#1a1a1a" stroke-width="0.88"/>
<circle cx="401.6" cy="126.84" r="1.85" fill="#000" stroke="#222" stroke-width="0.55"/>
<circle cx="393.1" cy="133.44" r="1.85" fill="#fff" stroke="#222" stroke-width="0.55"/>
<circle cx="396.4" cy="144.04" r="1.85" fill="#000" stroke="#222" stroke-width="0.55"/>
<circle cx="406.8" cy="144.04" r="1.85" fill="#000" stroke="#222" stroke-width="0.55"/>
<circle cx="410.1" cy="133.44" r="1.85" fill="#000" stroke="#222" stroke-width="0.55"/>
<polygon points="401.6,147.08 410.1,153.68 406.8,164.28 396.4,164.28 393.1,153.68" fill="#e6f1f9" stroke="#c4d4e0" stroke-width="0.5"/>
<line x1="406.8" y1="164.28" x2="410.1" y2="153.68" stroke="#333" stroke-width="0.5"/>
<line x1="396.4" y1="164.28" x2="406.8" y2="164.28" stroke="#333" stroke-width="0.5"/>
<line x1="396.4" y1="164.28" x2="410.1" y2="153.68" stroke="#333" stroke-width="0.5"/>
<line x1="401.6" y1="147.08" x2="396.4" y2="164.28" stroke="#333" stroke-width="0.5"/>
<line x1="401.6" y1="147.08" x2="406.8" y2="164.28" stroke="#333" stroke-width="0.5"/>
<line x1="401.6" y1="147.08" x2="410.1" y2="153.68" stroke="#333" stroke-width="0.5"/>
<line x1="393.1" y1="153.68" x2="410.1" y2="153.68" stroke="#333" stroke-width="0.5"/>
<line x1="393.1" y1="153.68" x2="406.8" y2="164.28" stroke="#1a1a1a" stroke-width="0.88"/>
<line x1="393.1" y1="153.68" x2="396.4" y2="164.28" stroke="#1a1a1a" stroke-width="0.88"/>
<line x1="401.6" y1="147.08" x2="393.1" y2="153.68" stroke="#1a1a1a" stroke-width="0.88"/>
<circle cx="401.6" cy="147.08" r="1.85" fill="#fff" stroke="#222" stroke-width="0.55"/>
<circle cx="393.1" cy="153.68" r="1.85" fill="#000" stroke="#222" stroke-width="0.55"/>
<circle cx="396.4" cy="164.28" r="1.85" fill="#000" stroke="#222" stroke-width="0.55"/>
<circle cx="406.8" cy="164.28" r="1.85" fill="#000" stroke="#222" stroke-width="0.55"/>
<circle cx="410.1" cy="153.68" r="1.85" fill="#000" stroke="#222" stroke-width="0.55"/>
<polygon points="433.4,106.3 441.9,112.9 438.6,123.5 428.2,123.5 424.9,112.9" fill="#e6f1f9" stroke="#c4d4e0" stroke-width="0.5"/>
<line x1="438.6" y1="123.5" x2="441.9" y2="112.9" stroke="#333" stroke-width="0.5"/>
<line x1="428.2" y1="123.5" x2="438.6" y2="123.5" stroke="#333" stroke-width="0.5"/>
<line x1="428.2" y1="123.5" x2="441.9" y2="112.9" stroke="#333" stroke-width="0.5"/>
<line x1="433.4" y1="106.3" x2="428.2" y2="123.5" stroke="#333" stroke-width="0.5"/>
<line x1="433.4" y1="106.3" x2="438.6" y2="123.5" stroke="#333" stroke-width="0.5"/>
<line x1="433.4" y1="106.3" x2="441.9" y2="112.9" stroke="#333" stroke-width="0.5"/>
<line x1="424.9" y1="112.9" x2="441.9" y2="112.9" stroke="#333" stroke-width="0.5"/>
<line x1="424.9" y1="112.9" x2="438.6" y2="123.5" stroke="#1a1a1a" stroke-width="0.88"/>
<line x1="424.9" y1="112.9" x2="428.2" y2="123.5" stroke="#1a1a1a" stroke-width="0.88"/>
<line x1="433.4" y1="106.3" x2="424.9" y2="112.9" stroke="#1a1a1a" stroke-width="0.88"/>
<circle cx="433.4" cy="106.3" r="1.85" fill="#000" stroke="#222" stroke-width="0.55"/>
<circle cx="424.9" cy="112.9" r="1.85" fill="#000" stroke="#222" stroke-width="0.55"/>
<circle cx="428.2" cy="123.5" r="1.85" fill="#000" stroke="#222" stroke-width="0.55"/>
<circle cx="438.6" cy="123.5" r="1.85" fill="#000" stroke="#222" stroke-width="0.55"/>
<circle cx="441.9" cy="112.9" r="1.85" fill="#000" stroke="#222" stroke-width="0.55"/>
<text x="0.3" y="239.5" class="pl">c</text>
<line x1="31.6" y1="248.8" x2="9.2" y2="265.4" stroke="#111" stroke-width="2.0"/>
<line x1="9.2" y1="265.4" x2="17.4" y2="291.7" stroke="#111" stroke-width="1.0"/>
<line x1="31.6" y1="248.8" x2="17.4" y2="291.7" stroke="#111" stroke-width="1.0"/>
<line x1="31.6" y1="248.8" x2="46" y2="291.7" stroke="#111" stroke-width="1.0"/>
<circle cx="31.6" cy="248.8" r="3.25" fill="#e6f8d2" stroke="#222" stroke-width="1.0"/>
<text x="31.6" y="245.1" class="nl">1</text>
<circle cx="9.2" cy="265.4" r="3.25" fill="#e6f8d2" stroke="#222" stroke-width="1.0"/>
<text x="4.6" y="260.3" class="nl">2</text>
<circle cx="54.8" cy="265.4" r="3.25" fill="#e6f8d2" stroke="#222" stroke-width="1.0"/>
<text x="57.6" y="260.3" class="nl">5</text>
<circle cx="17.4" cy="291.7" r="3.25" fill="#e6f8d2" stroke="#222" stroke-width="1.0"/>
<text x="10.3" y="303.9" class="nl">3</text>
<circle cx="46" cy="291.7" r="3.25" fill="#e6f8d2" stroke="#222" stroke-width="1.0"/>
<text x="50.6" y="303.9" class="nl">4</text>
<path d="M33.4 348.4L68.6 308.42M33.4 348.4L68.6 328.66M33.4 348.4L68.6 348.9M33.4 348.4L68.6 369.14M33.4 348.4L68.6 389.38M68.6 308.42L103.2 258.12M68.6 308.42L103.2 278.36M68.6 308.42L103.2 298.6M68.6 308.42L103.2 318.84M68.6 328.66L103.2 258.12M68.6 328.66L103.2 339.08M68.6 328.66L103.2 359.32M68.6 328.66L103.2 379.56M68.6 348.9L103.2 278.36M68.6 348.9L103.2 339.08M68.6 348.9L103.2 399.8M68.6 348.9L103.2 420.04M68.6 369.14L103.2 298.6M68.6 369.14L103.2 359.32M68.6 369.14L103.2 399.8M68.6 369.14L103.2 440.28M68.6 389.38L103.2 318.84M68.6 389.38L103.2 379.56M68.6 389.38L103.2 420.04M68.6 389.38L103.2 440.28M103.2 258.12L137.7 258.12M103.2 258.12L137.7 278.36M103.2 258.12L137.7 298.6M103.2 278.36L137.7 258.12M103.2 278.36L137.7 318.84M103.2 278.36L137.7 339.08M103.2 298.6L137.7 278.36M103.2 298.6L137.7 318.84M103.2 298.6L137.7 359.32M103.2 318.84L137.7 298.6M103.2 318.84L137.7 339.08M103.2 318.84L137.7 359.32M103.2 339.08L137.7 258.12M103.2 339.08L137.7 379.56M103.2 339.08L137.7 399.8M103.2 359.32L137.7 278.36M103.2 359.32L137.7 379.56M103.2 359.32L137.7 420.04M103.2 379.56L137.7 298.6M103.2 379.56L137.7 399.8M103.2 379.56L137.7 420.04M103.2 399.8L137.7 318.84M103.2 399.8L137.7 379.56M103.2 399.8L137.7 440.28M103.2 420.04L137.7 339.08M103.2 420.04L137.7 399.8M103.2 420.04L137.7 440.28M103.2 440.28L137.7 359.32M103.2 440.28L137.7 420.04M103.2 440.28L137.7 440.28M137.7 399.8L174.7 328.76M137.7 399.8L174.7 389.48M137.7 420.04L174.7 349M137.7 420.04L174.7 389.48M137.7 440.28L174.7 369.24M137.7 440.28L174.7 389.48" stroke="#dedef4" stroke-width="2.6" fill="none"/>
<path d="M32.3 347.4L67.5 307.42M32.3 347.4L67.5 327.66M32.3 347.4L67.5 347.9M32.3 347.4L67.5 368.14M32.3 347.4L67.5 388.38M67.5 307.42L102.1 257.12M67.5 307.42L102.1 277.36M67.5 307.42L102.1 297.6M67.5 307.42L102.1 317.84M67.5 327.66L102.1 257.12M67.5 327.66L102.1 338.08M67.5 327.66L102.1 358.32M67.5 327.66L102.1 378.56M67.5 347.9L102.1 277.36M67.5 347.9L102.1 338.08M67.5 347.9L102.1 398.8M67.5 347.9L102.1 419.04M67.5 368.14L102.1 297.6M67.5 368.14L102.1 358.32M67.5 368.14L102.1 398.8M67.5 368.14L102.1 439.28M67.5 388.38L102.1 317.84M67.5 388.38L102.1 378.56M67.5 388.38L102.1 419.04M67.5 388.38L102.1 439.28M102.1 257.12L136.6 257.12M102.1 257.12L136.6 277.36M102.1 257.12L136.6 297.6M102.1 277.36L136.6 257.12M102.1 277.36L136.6 317.84M102.1 277.36L136.6 338.08M102.1 297.6L136.6 277.36M102.1 297.6L136.6 317.84M102.1 297.6L136.6 358.32M102.1 317.84L136.6 297.6M102.1 317.84L136.6 338.08M102.1 317.84L136.6 358.32M102.1 338.08L136.6 257.12M102.1 338.08L136.6 378.56M102.1 338.08L136.6 398.8M102.1 358.32L136.6 277.36M102.1 358.32L136.6 378.56M102.1 358.32L136.6 419.04M102.1 378.56L136.6 297.6M102.1 378.56L136.6 398.8M102.1 378.56L136.6 419.04M102.1 398.8L136.6 317.84M102.1 398.8L136.6 378.56M102.1 398.8L136.6 439.28M102.1 419.04L136.6 338.08M102.1 419.04L136.6 398.8M102.1 419.04L136.6 439.28M102.1 439.28L136.6 358.32M102.1 439.28L136.6 419.04M102.1 439.28L136.6 439.28M136.6 398.8L173.6 327.76M136.6 398.8L173.6 388.48M136.6 419.04L173.6 348M136.6 419.04L173.6 388.48M136.6 439.28L173.6 368.24M136.6 439.28L173.6 388.48" stroke="#4892d8" stroke-width="1.2" fill="none"/>
<line x1="137.1" y1="258.12" x2="174.1" y2="308.52" stroke="#f4b8c0" stroke-width="2.55"/>
<line x1="136.6" y1="257.12" x2="173.6" y2="307.52" stroke="#e8101c" stroke-width="1.35"/>
<line x1="137.1" y1="258.12" x2="174.1" y2="328.76" stroke="#f4b8c0" stroke-width="2.55"/>
<line x1="136.6" y1="257.12" x2="173.6" y2="327.76" stroke="#e8101c" stroke-width="1.35"/>
<line x1="137.1" y1="278.36" x2="174.1" y2="308.52" stroke="#f4b8c0" stroke-width="2.55"/>
<line x1="136.6" y1="277.36" x2="173.6" y2="307.52" stroke="#e8101c" stroke-width="1.35"/>
<line x1="137.1" y1="278.36" x2="174.1" y2="349" stroke="#f4b8c0" stroke-width="2.55"/>
<line x1="136.6" y1="277.36" x2="173.6" y2="348" stroke="#e8101c" stroke-width="1.35"/>
<line x1="137.1" y1="298.6" x2="174.1" y2="328.76" stroke="#f4b8c0" stroke-width="2.55"/>
<line x1="136.6" y1="297.6" x2="173.6" y2="327.76" stroke="#e8101c" stroke-width="1.35"/>
<line x1="137.1" y1="298.6" x2="174.1" y2="349" stroke="#f4b8c0" stroke-width="2.55"/>
<line x1="136.6" y1="297.6" x2="173.6" y2="348" stroke="#e8101c" stroke-width="1.35"/>
<line x1="137.1" y1="318.84" x2="174.1" y2="308.52" stroke="#f4b8c0" stroke-width="2.55"/>
<line x1="136.6" y1="317.84" x2="173.6" y2="307.52" stroke="#e8101c" stroke-width="1.35"/>
<line x1="137.1" y1="318.84" x2="174.1" y2="369.24" stroke="#f4b8c0" stroke-width="2.55"/>
<line x1="136.6" y1="317.84" x2="173.6" y2="368.24" stroke="#e8101c" stroke-width="1.35"/>
<line x1="137.1" y1="339.08" x2="174.1" y2="328.76" stroke="#f4b8c0" stroke-width="2.55"/>
<line x1="136.6" y1="338.08" x2="173.6" y2="327.76" stroke="#e8101c" stroke-width="1.35"/>
<line x1="137.1" y1="339.08" x2="174.1" y2="369.24" stroke="#f4b8c0" stroke-width="2.55"/>
<line x1="136.6" y1="338.08" x2="173.6" y2="368.24" stroke="#e8101c" stroke-width="1.35"/>
<line x1="137.1" y1="359.32" x2="174.1" y2="349" stroke="#f4b8c0" stroke-width="2.55"/>
<line x1="136.6" y1="358.32" x2="173.6" y2="348" stroke="#e8101c" stroke-width="1.35"/>
<line x1="137.1" y1="359.32" x2="174.1" y2="369.24" stroke="#f4b8c0" stroke-width="2.55"/>
<line x1="136.6" y1="358.32" x2="173.6" y2="368.24" stroke="#e8101c" stroke-width="1.35"/>
<line x1="137.1" y1="379.56" x2="174.1" y2="308.52" stroke="#f4b8c0" stroke-width="2.55"/>
<line x1="136.6" y1="378.56" x2="173.6" y2="307.52" stroke="#e8101c" stroke-width="1.35"/>
<line x1="137.1" y1="379.56" x2="174.1" y2="389.48" stroke="#f4b8c0" stroke-width="2.55"/>
<line x1="136.6" y1="378.56" x2="173.6" y2="388.48" stroke="#e8101c" stroke-width="1.35"/>
<line x1="174.1" y1="308.52" x2="205.9" y2="348.7" stroke="#f4b8c0" stroke-width="4.2"/>
<line x1="173.6" y1="307.52" x2="205.4" y2="347.7" stroke="#e8101c" stroke-width="3"/>
<line x1="174.1" y1="328.76" x2="205.9" y2="348.7" stroke="#f4b8c0" stroke-width="4.2"/>
<line x1="173.6" y1="327.76" x2="205.4" y2="347.7" stroke="#e8101c" stroke-width="3"/>
<line x1="174.1" y1="349" x2="205.9" y2="348.7" stroke="#f4b8c0" stroke-width="4.2"/>
<line x1="173.6" y1="348" x2="205.4" y2="347.7" stroke="#e8101c" stroke-width="3"/>
<line x1="174.1" y1="369.24" x2="205.9" y2="348.7" stroke="#f4b8c0" stroke-width="4.2"/>
<line x1="173.6" y1="368.24" x2="205.4" y2="347.7" stroke="#e8101c" stroke-width="3"/>
<line x1="174.1" y1="389.48" x2="205.9" y2="348.7" stroke="#f4b8c0" stroke-width="4.2"/>
<line x1="173.6" y1="388.48" x2="205.4" y2="347.7" stroke="#e8101c" stroke-width="3"/>
<polygon points="32.3,339.8 39.91,345.6 37,355 27.6,355 24.69,345.6" fill="#e7f2fa" stroke="#e7f2fa" stroke-width="2" stroke-linejoin="round"/>
<line x1="23.8" y1="344.4" x2="27.1" y2="355" stroke="#1a1a1a" stroke-width="0.55"/>
<line x1="32.3" y1="337.8" x2="27.1" y2="355" stroke="#1a1a1a" stroke-width="0.55"/>
<line x1="32.3" y1="337.8" x2="37.5" y2="355" stroke="#1a1a1a" stroke-width="0.55"/>
<line x1="32.3" y1="337.8" x2="23.8" y2="344.4" stroke="#1a1a1a" stroke-width="0.9"/>
<circle cx="32.3" cy="337.8" r="1.85" fill="#fff" stroke="#222" stroke-width="0.55"/>
<circle cx="23.8" cy="344.4" r="1.85" fill="#fff" stroke="#222" stroke-width="0.55"/>
<circle cx="27.1" cy="355" r="1.85" fill="#fff" stroke="#222" stroke-width="0.55"/>
<circle cx="37.5" cy="355" r="1.85" fill="#fff" stroke="#222" stroke-width="0.55"/>
<circle cx="40.8" cy="344.4" r="1.85" fill="#fff" stroke="#222" stroke-width="0.55"/>
<polygon points="67.5,299.82 75.11,305.62 72.2,315.02 62.8,315.02 59.89,305.62" fill="#e7f2fa" stroke="#e7f2fa" stroke-width="2" stroke-linejoin="round"/>
<line x1="59" y1="304.42" x2="62.3" y2="315.02" stroke="#1a1a1a" stroke-width="0.55"/>
<line x1="67.5" y1="297.82" x2="62.3" y2="315.02" stroke="#1a1a1a" stroke-width="0.55"/>
<line x1="67.5" y1="297.82" x2="72.7" y2="315.02" stroke="#1a1a1a" stroke-width="0.55"/>
<line x1="67.5" y1="297.82" x2="59" y2="304.42" stroke="#1a1a1a" stroke-width="0.9"/>
<circle cx="67.5" cy="297.82" r="1.85" fill="#000" stroke="#222" stroke-width="0.55"/>
<circle cx="59" cy="304.42" r="1.85" fill="#fff" stroke="#222" stroke-width="0.55"/>
<circle cx="62.3" cy="315.02" r="1.85" fill="#fff" stroke="#222" stroke-width="0.55"/>
<circle cx="72.7" cy="315.02" r="1.85" fill="#fff" stroke="#222" stroke-width="0.55"/>
<circle cx="76" cy="304.42" r="1.85" fill="#fff" stroke="#222" stroke-width="0.55"/>
<polygon points="67.5,320.06 75.11,325.86 72.2,335.26 62.8,335.26 59.89,325.86" fill="#e7f2fa" stroke="#e7f2fa" stroke-width="2" stroke-linejoin="round"/>
<line x1="59" y1="324.66" x2="62.3" y2="335.26" stroke="#1a1a1a" stroke-width="0.55"/>
<line x1="67.5" y1="318.06" x2="62.3" y2="335.26" stroke="#1a1a1a" stroke-width="0.55"/>
<line x1="67.5" y1="318.06" x2="72.7" y2="335.26" stroke="#1a1a1a" stroke-width="0.55"/>
<line x1="67.5" y1="318.06" x2="59" y2="324.66" stroke="#1a1a1a" stroke-width="0.9"/>
<circle cx="67.5" cy="318.06" r="1.85" fill="#fff" stroke="#222" stroke-width="0.55"/>
<circle cx="59" cy="324.66" r="1.85" fill="#000" stroke="#222" stroke-width="0.55"/>
<circle cx="62.3" cy="335.26" r="1.85" fill="#fff" stroke="#222" stroke-width="0.55"/>
<circle cx="72.7" cy="335.26" r="1.85" fill="#fff" stroke="#222" stroke-width="0.55"/>
<circle cx="76" cy="324.66" r="1.85" fill="#fff" stroke="#222" stroke-width="0.55"/>
<polygon points="67.5,340.3 75.11,346.1 72.2,355.5 62.8,355.5 59.89,346.1" fill="#e7f2fa" stroke="#e7f2fa" stroke-width="2" stroke-linejoin="round"/>
<line x1="59" y1="344.9" x2="62.3" y2="355.5" stroke="#1a1a1a" stroke-width="0.55"/>
<line x1="67.5" y1="338.3" x2="62.3" y2="355.5" stroke="#1a1a1a" stroke-width="0.55"/>
<line x1="67.5" y1="338.3" x2="72.7" y2="355.5" stroke="#1a1a1a" stroke-width="0.55"/>
<line x1="67.5" y1="338.3" x2="59" y2="344.9" stroke="#1a1a1a" stroke-width="0.9"/>
<circle cx="67.5" cy="338.3" r="1.85" fill="#fff" stroke="#222" stroke-width="0.55"/>
<circle cx="59" cy="344.9" r="1.85" fill="#fff" stroke="#222" stroke-width="0.55"/>
<circle cx="62.3" cy="355.5" r="1.85" fill="#000" stroke="#222" stroke-width="0.55"/>
<circle cx="72.7" cy="355.5" r="1.85" fill="#fff" stroke="#222" stroke-width="0.55"/>
<circle cx="76" cy="344.9" r="1.85" fill="#fff" stroke="#222" stroke-width="0.55"/>
<polygon points="67.5,360.54 75.11,366.34 72.2,375.74 62.8,375.74 59.89,366.34" fill="#e7f2fa" stroke="#e7f2fa" stroke-width="2" stroke-linejoin="round"/>
<line x1="59" y1="365.14" x2="62.3" y2="375.74" stroke="#1a1a1a" stroke-width="0.55"/>
<line x1="67.5" y1="358.54" x2="62.3" y2="375.74" stroke="#1a1a1a" stroke-width="0.55"/>
<line x1="67.5" y1="358.54" x2="72.7" y2="375.74" stroke="#1a1a1a" stroke-width="0.55"/>
<line x1="67.5" y1="358.54" x2="59" y2="365.14" stroke="#1a1a1a" stroke-width="0.9"/>
<circle cx="67.5" cy="358.54" r="1.85" fill="#fff" stroke="#222" stroke-width="0.55"/>
<circle cx="59" cy="365.14" r="1.85" fill="#fff" stroke="#222" stroke-width="0.55"/>
<circle cx="62.3" cy="375.74" r="1.85" fill="#fff" stroke="#222" stroke-width="0.55"/>
<circle cx="72.7" cy="375.74" r="1.85" fill="#000" stroke="#222" stroke-width="0.55"/>
<circle cx="76" cy="365.14" r="1.85" fill="#fff" stroke="#222" stroke-width="0.55"/>
<polygon points="67.5,380.78 75.11,386.58 72.2,395.98 62.8,395.98 59.89,386.58" fill="#e7f2fa" stroke="#e7f2fa" stroke-width="2" stroke-linejoin="round"/>
<line x1="59" y1="385.38" x2="62.3" y2="395.98" stroke="#1a1a1a" stroke-width="0.55"/>
<line x1="67.5" y1="378.78" x2="62.3" y2="395.98" stroke="#1a1a1a" stroke-width="0.55"/>
<line x1="67.5" y1="378.78" x2="72.7" y2="395.98" stroke="#1a1a1a" stroke-width="0.55"/>
<line x1="67.5" y1="378.78" x2="59" y2="385.38" stroke="#1a1a1a" stroke-width="0.9"/>
<circle cx="67.5" cy="378.78" r="1.85" fill="#fff" stroke="#222" stroke-width="0.55"/>
<circle cx="59" cy="385.38" r="1.85" fill="#fff" stroke="#222" stroke-width="0.55"/>
<circle cx="62.3" cy="395.98" r="1.85" fill="#fff" stroke="#222" stroke-width="0.55"/>
<circle cx="72.7" cy="395.98" r="1.85" fill="#fff" stroke="#222" stroke-width="0.55"/>
<circle cx="76" cy="385.38" r="1.85" fill="#000" stroke="#222" stroke-width="0.55"/>
<polygon points="102.1,249.52 109.71,255.32 106.8,264.72 97.4,264.72 94.49,255.32" fill="#e7f2fa" stroke="#e7f2fa" stroke-width="2" stroke-linejoin="round"/>
<line x1="93.6" y1="254.12" x2="96.9" y2="264.72" stroke="#1a1a1a" stroke-width="0.55"/>
<line x1="102.1" y1="247.52" x2="96.9" y2="264.72" stroke="#1a1a1a" stroke-width="0.55"/>
<line x1="102.1" y1="247.52" x2="107.3" y2="264.72" stroke="#1a1a1a" stroke-width="0.55"/>
<line x1="102.1" y1="247.52" x2="93.6" y2="254.12" stroke="#1a1a1a" stroke-width="0.9"/>
<circle cx="102.1" cy="247.52" r="1.85" fill="#000" stroke="#222" stroke-width="0.55"/>
<circle cx="93.6" cy="254.12" r="1.85" fill="#000" stroke="#222" stroke-width="0.55"/>
<circle cx="96.9" cy="264.72" r="1.85" fill="#fff" stroke="#222" stroke-width="0.55"/>
<circle cx="107.3" cy="264.72" r="1.85" fill="#fff" stroke="#222" stroke-width="0.55"/>
<circle cx="110.6" cy="254.12" r="1.85" fill="#fff" stroke="#222" stroke-width="0.55"/>
<polygon points="102.1,269.76 109.71,275.56 106.8,284.96 97.4,284.96 94.49,275.56" fill="#e7f2fa" stroke="#e7f2fa" stroke-width="2" stroke-linejoin="round"/>
<line x1="93.6" y1="274.36" x2="96.9" y2="284.96" stroke="#1a1a1a" stroke-width="0.55"/>
<line x1="102.1" y1="267.76" x2="96.9" y2="284.96" stroke="#1a1a1a" stroke-width="0.55"/>
<line x1="102.1" y1="267.76" x2="107.3" y2="284.96" stroke="#1a1a1a" stroke-width="0.55"/>
<line x1="102.1" y1="267.76" x2="93.6" y2="274.36" stroke="#1a1a1a" stroke-width="0.9"/>
<circle cx="102.1" cy="267.76" r="1.85" fill="#000" stroke="#222" stroke-width="0.55"/>
<circle cx="93.6" cy="274.36" r="1.85" fill="#fff" stroke="#222" stroke-width="0.55"/>
<circle cx="96.9" cy="284.96" r="1.85" fill="#000" stroke="#222" stroke-width="0.55"/>
<circle cx="107.3" cy="284.96" r="1.85" fill="#fff" stroke="#222" stroke-width="0.55"/>
<circle cx="110.6" cy="274.36" r="1.85" fill="#fff" stroke="#222" stroke-width="0.55"/>
<polygon points="102.1,290 109.71,295.8 106.8,305.2 97.4,305.2 94.49,295.8" fill="#e7f2fa" stroke="#e7f2fa" stroke-width="2" stroke-linejoin="round"/>
<line x1="93.6" y1="294.6" x2="96.9" y2="305.2" stroke="#1a1a1a" stroke-width="0.55"/>
<line x1="102.1" y1="288" x2="96.9" y2="305.2" stroke="#1a1a1a" stroke-width="0.55"/>
<line x1="102.1" y1="288" x2="107.3" y2="305.2" stroke="#1a1a1a" stroke-width="0.55"/>
<line x1="102.1" y1="288" x2="93.6" y2="294.6" stroke="#1a1a1a" stroke-width="0.9"/>
<circle cx="102.1" cy="288" r="1.85" fill="#000" stroke="#222" stroke-width="0.55"/>
<circle cx="93.6" cy="294.6" r="1.85" fill="#fff" stroke="#222" stroke-width="0.55"/>
<circle cx="96.9" cy="305.2" r="1.85" fill="#fff" stroke="#222" stroke-width="0.55"/>
<circle cx="107.3" cy="305.2" r="1.85" fill="#000" stroke="#222" stroke-width="0.55"/>
<circle cx="110.6" cy="294.6" r="1.85" fill="#fff" stroke="#222" stroke-width="0.55"/>
<polygon points="102.1,310.24 109.71,316.04 106.8,325.44 97.4,325.44 94.49,316.04" fill="#e7f2fa" stroke="#e7f2fa" stroke-width="2" stroke-linejoin="round"/>
<line x1="93.6" y1="314.84" x2="96.9" y2="325.44" stroke="#1a1a1a" stroke-width="0.55"/>
<line x1="102.1" y1="308.24" x2="96.9" y2="325.44" stroke="#1a1a1a" stroke-width="0.55"/>
<line x1="102.1" y1="308.24" x2="107.3" y2="325.44" stroke="#1a1a1a" stroke-width="0.55"/>
<line x1="102.1" y1="308.24" x2="93.6" y2="314.84" stroke="#1a1a1a" stroke-width="0.9"/>
<circle cx="102.1" cy="308.24" r="1.85" fill="#000" stroke="#222" stroke-width="0.55"/>
<circle cx="93.6" cy="314.84" r="1.85" fill="#fff" stroke="#222" stroke-width="0.55"/>
<circle cx="96.9" cy="325.44" r="1.85" fill="#fff" stroke="#222" stroke-width="0.55"/>
<circle cx="107.3" cy="325.44" r="1.85" fill="#fff" stroke="#222" stroke-width="0.55"/>
<circle cx="110.6" cy="314.84" r="1.85" fill="#000" stroke="#222" stroke-width="0.55"/>
<polygon points="102.1,330.48 109.71,336.28 106.8,345.68 97.4,345.68 94.49,336.28" fill="#e7f2fa" stroke="#e7f2fa" stroke-width="2" stroke-linejoin="round"/>
<line x1="93.6" y1="335.08" x2="96.9" y2="345.68" stroke="#1a1a1a" stroke-width="0.55"/>
<line x1="102.1" y1="328.48" x2="96.9" y2="345.68" stroke="#1a1a1a" stroke-width="0.55"/>
<line x1="102.1" y1="328.48" x2="107.3" y2="345.68" stroke="#1a1a1a" stroke-width="0.55"/>
<line x1="102.1" y1="328.48" x2="93.6" y2="335.08" stroke="#1a1a1a" stroke-width="0.9"/>
<circle cx="102.1" cy="328.48" r="1.85" fill="#fff" stroke="#222" stroke-width="0.55"/>
<circle cx="93.6" cy="335.08" r="1.85" fill="#000" stroke="#222" stroke-width="0.55"/>
<circle cx="96.9" cy="345.68" r="1.85" fill="#000" stroke="#222" stroke-width="0.55"/>
<circle cx="107.3" cy="345.68" r="1.85" fill="#fff" stroke="#222" stroke-width="0.55"/>
<circle cx="110.6" cy="335.08" r="1.85" fill="#fff" stroke="#222" stroke-width="0.55"/>
<polygon points="102.1,350.72 109.71,356.52 106.8,365.92 97.4,365.92 94.49,356.52" fill="#e7f2fa" stroke="#e7f2fa" stroke-width="2" stroke-linejoin="round"/>
<line x1="93.6" y1="355.32" x2="96.9" y2="365.92" stroke="#1a1a1a" stroke-width="0.55"/>
<line x1="102.1" y1="348.72" x2="96.9" y2="365.92" stroke="#1a1a1a" stroke-width="0.55"/>
<line x1="102.1" y1="348.72" x2="107.3" y2="365.92" stroke="#1a1a1a" stroke-width="0.55"/>
<line x1="102.1" y1="348.72" x2="93.6" y2="355.32" stroke="#1a1a1a" stroke-width="0.9"/>
<circle cx="102.1" cy="348.72" r="1.85" fill="#fff" stroke="#222" stroke-width="0.55"/>
<circle cx="93.6" cy="355.32" r="1.85" fill="#000" stroke="#222" stroke-width="0.55"/>
<circle cx="96.9" cy="365.92" r="1.85" fill="#fff" stroke="#222" stroke-width="0.55"/>
<circle cx="107.3" cy="365.92" r="1.85" fill="#000" stroke="#222" stroke-width="0.55"/>
<circle cx="110.6" cy="355.32" r="1.85" fill="#fff" stroke="#222" stroke-width="0.55"/>
<polygon points="102.1,370.96 109.71,376.76 106.8,386.16 97.4,386.16 94.49,376.76" fill="#e7f2fa" stroke="#e7f2fa" stroke-width="2" stroke-linejoin="round"/>
<line x1="93.6" y1="375.56" x2="96.9" y2="386.16" stroke="#1a1a1a" stroke-width="0.55"/>
<line x1="102.1" y1="368.96" x2="96.9" y2="386.16" stroke="#1a1a1a" stroke-width="0.55"/>
<line x1="102.1" y1="368.96" x2="107.3" y2="386.16" stroke="#1a1a1a" stroke-width="0.55"/>
<line x1="102.1" y1="368.96" x2="93.6" y2="375.56" stroke="#1a1a1a" stroke-width="0.9"/>
<circle cx="102.1" cy="368.96" r="1.85" fill="#fff" stroke="#222" stroke-width="0.55"/>
<circle cx="93.6" cy="375.56" r="1.85" fill="#000" stroke="#222" stroke-width="0.55"/>
<circle cx="96.9" cy="386.16" r="1.85" fill="#fff" stroke="#222" stroke-width="0.55"/>
<circle cx="107.3" cy="386.16" r="1.85" fill="#fff" stroke="#222" stroke-width="0.55"/>
<circle cx="110.6" cy="375.56" r="1.85" fill="#000" stroke="#222" stroke-width="0.55"/>
<polygon points="102.1,391.2 109.71,397 106.8,406.4 97.4,406.4 94.49,397" fill="#e7f2fa" stroke="#e7f2fa" stroke-width="2" stroke-linejoin="round"/>
<line x1="93.6" y1="395.8" x2="96.9" y2="406.4" stroke="#1a1a1a" stroke-width="0.55"/>
<line x1="102.1" y1="389.2" x2="96.9" y2="406.4" stroke="#1a1a1a" stroke-width="0.55"/>
<line x1="102.1" y1="389.2" x2="107.3" y2="406.4" stroke="#1a1a1a" stroke-width="0.55"/>
<line x1="102.1" y1="389.2" x2="93.6" y2="395.8" stroke="#1a1a1a" stroke-width="0.9"/>
<circle cx="102.1" cy="389.2" r="1.85" fill="#fff" stroke="#222" stroke-width="0.55"/>
<circle cx="93.6" cy="395.8" r="1.85" fill="#fff" stroke="#222" stroke-width="0.55"/>
<circle cx="96.9" cy="406.4" r="1.85" fill="#000" stroke="#222" stroke-width="0.55"/>
<circle cx="107.3" cy="406.4" r="1.85" fill="#000" stroke="#222" stroke-width="0.55"/>
<circle cx="110.6" cy="395.8" r="1.85" fill="#fff" stroke="#222" stroke-width="0.55"/>
<polygon points="102.1,411.44 109.71,417.24 106.8,426.64 97.4,426.64 94.49,417.24" fill="#e7f2fa" stroke="#e7f2fa" stroke-width="2" stroke-linejoin="round"/>
<line x1="93.6" y1="416.04" x2="96.9" y2="426.64" stroke="#1a1a1a" stroke-width="0.55"/>
<line x1="102.1" y1="409.44" x2="96.9" y2="426.64" stroke="#1a1a1a" stroke-width="0.55"/>
<line x1="102.1" y1="409.44" x2="107.3" y2="426.64" stroke="#1a1a1a" stroke-width="0.55"/>
<line x1="102.1" y1="409.44" x2="93.6" y2="416.04" stroke="#1a1a1a" stroke-width="0.9"/>
<circle cx="102.1" cy="409.44" r="1.85" fill="#fff" stroke="#222" stroke-width="0.55"/>
<circle cx="93.6" cy="416.04" r="1.85" fill="#fff" stroke="#222" stroke-width="0.55"/>
<circle cx="96.9" cy="426.64" r="1.85" fill="#000" stroke="#222" stroke-width="0.55"/>
<circle cx="107.3" cy="426.64" r="1.85" fill="#fff" stroke="#222" stroke-width="0.55"/>
<circle cx="110.6" cy="416.04" r="1.85" fill="#000" stroke="#222" stroke-width="0.55"/>
<polygon points="102.1,431.68 109.71,437.48 106.8,446.88 97.4,446.88 94.49,437.48" fill="#e7f2fa" stroke="#e7f2fa" stroke-width="2" stroke-linejoin="round"/>
<line x1="93.6" y1="436.28" x2="96.9" y2="446.88" stroke="#1a1a1a" stroke-width="0.55"/>
<line x1="102.1" y1="429.68" x2="96.9" y2="446.88" stroke="#1a1a1a" stroke-width="0.55"/>
<line x1="102.1" y1="429.68" x2="107.3" y2="446.88" stroke="#1a1a1a" stroke-width="0.55"/>
<line x1="102.1" y1="429.68" x2="93.6" y2="436.28" stroke="#1a1a1a" stroke-width="0.9"/>
<circle cx="102.1" cy="429.68" r="1.85" fill="#fff" stroke="#222" stroke-width="0.55"/>
<circle cx="93.6" cy="436.28" r="1.85" fill="#fff" stroke="#222" stroke-width="0.55"/>
<circle cx="96.9" cy="446.88" r="1.85" fill="#fff" stroke="#222" stroke-width="0.55"/>
<circle cx="107.3" cy="446.88" r="1.85" fill="#000" stroke="#222" stroke-width="0.55"/>
<circle cx="110.6" cy="436.28" r="1.85" fill="#000" stroke="#222" stroke-width="0.55"/>
<polygon points="136.6,249.52 144.21,255.32 141.3,264.72 131.9,264.72 128.99,255.32" fill="#e7f2fa" stroke="#e7f2fa" stroke-width="2" stroke-linejoin="round"/>
<line x1="128.1" y1="254.12" x2="131.4" y2="264.72" stroke="#1a1a1a" stroke-width="0.55"/>
<line x1="136.6" y1="247.52" x2="131.4" y2="264.72" stroke="#1a1a1a" stroke-width="0.55"/>
<line x1="136.6" y1="247.52" x2="141.8" y2="264.72" stroke="#1a1a1a" stroke-width="0.55"/>
<line x1="136.6" y1="247.52" x2="128.1" y2="254.12" stroke="#1a1a1a" stroke-width="0.9"/>
<circle cx="136.6" cy="247.52" r="1.85" fill="#000" stroke="#222" stroke-width="0.55"/>
<circle cx="128.1" cy="254.12" r="1.85" fill="#000" stroke="#222" stroke-width="0.55"/>
<circle cx="131.4" cy="264.72" r="1.85" fill="#000" stroke="#222" stroke-width="0.55"/>
<circle cx="141.8" cy="264.72" r="1.85" fill="#fff" stroke="#222" stroke-width="0.55"/>
<circle cx="145.1" cy="254.12" r="1.85" fill="#fff" stroke="#222" stroke-width="0.55"/>
<polygon points="136.6,269.76 144.21,275.56 141.3,284.96 131.9,284.96 128.99,275.56" fill="#e7f2fa" stroke="#e7f2fa" stroke-width="2" stroke-linejoin="round"/>
<line x1="128.1" y1="274.36" x2="131.4" y2="284.96" stroke="#1a1a1a" stroke-width="0.55"/>
<line x1="136.6" y1="267.76" x2="131.4" y2="284.96" stroke="#1a1a1a" stroke-width="0.55"/>
<line x1="136.6" y1="267.76" x2="141.8" y2="284.96" stroke="#1a1a1a" stroke-width="0.55"/>
<line x1="136.6" y1="267.76" x2="128.1" y2="274.36" stroke="#1a1a1a" stroke-width="0.9"/>
<circle cx="136.6" cy="267.76" r="1.85" fill="#000" stroke="#222" stroke-width="0.55"/>
<circle cx="128.1" cy="274.36" r="1.85" fill="#000" stroke="#222" stroke-width="0.55"/>
<circle cx="131.4" cy="284.96" r="1.85" fill="#fff" stroke="#222" stroke-width="0.55"/>
<circle cx="141.8" cy="284.96" r="1.85" fill="#000" stroke="#222" stroke-width="0.55"/>
<circle cx="145.1" cy="274.36" r="1.85" fill="#fff" stroke="#222" stroke-width="0.55"/>
<polygon points="136.6,290 144.21,295.8 141.3,305.2 131.9,305.2 128.99,295.8" fill="#e7f2fa" stroke="#e7f2fa" stroke-width="2" stroke-linejoin="round"/>
<line x1="128.1" y1="294.6" x2="131.4" y2="305.2" stroke="#1a1a1a" stroke-width="0.55"/>
<line x1="136.6" y1="288" x2="131.4" y2="305.2" stroke="#1a1a1a" stroke-width="0.55"/>
<line x1="136.6" y1="288" x2="141.8" y2="305.2" stroke="#1a1a1a" stroke-width="0.55"/>
<line x1="136.6" y1="288" x2="128.1" y2="294.6" stroke="#1a1a1a" stroke-width="0.9"/>
<circle cx="136.6" cy="288" r="1.85" fill="#000" stroke="#222" stroke-width="0.55"/>
<circle cx="128.1" cy="294.6" r="1.85" fill="#000" stroke="#222" stroke-width="0.55"/>
<circle cx="131.4" cy="305.2" r="1.85" fill="#fff" stroke="#222" stroke-width="0.55"/>
<circle cx="141.8" cy="305.2" r="1.85" fill="#fff" stroke="#222" stroke-width="0.55"/>
<circle cx="145.1" cy="294.6" r="1.85" fill="#000" stroke="#222" stroke-width="0.55"/>
<polygon points="136.6,310.24 144.21,316.04 141.3,325.44 131.9,325.44 128.99,316.04" fill="#e7f2fa" stroke="#e7f2fa" stroke-width="2" stroke-linejoin="round"/>
<line x1="128.1" y1="314.84" x2="131.4" y2="325.44" stroke="#1a1a1a" stroke-width="0.55"/>
<line x1="136.6" y1="308.24" x2="131.4" y2="325.44" stroke="#1a1a1a" stroke-width="0.55"/>
<line x1="136.6" y1="308.24" x2="141.8" y2="325.44" stroke="#1a1a1a" stroke-width="0.55"/>
<line x1="136.6" y1="308.24" x2="128.1" y2="314.84" stroke="#1a1a1a" stroke-width="0.9"/>
<circle cx="136.6" cy="308.24" r="1.85" fill="#000" stroke="#222" stroke-width="0.55"/>
<circle cx="128.1" cy="314.84" r="1.85" fill="#fff" stroke="#222" stroke-width="0.55"/>
<circle cx="131.4" cy="325.44" r="1.85" fill="#000" stroke="#222" stroke-width="0.55"/>
<circle cx="141.8" cy="325.44" r="1.85" fill="#000" stroke="#222" stroke-width="0.55"/>
<circle cx="145.1" cy="314.84" r="1.85" fill="#fff" stroke="#222" stroke-width="0.55"/>
<polygon points="136.6,330.48 144.21,336.28 141.3,345.68 131.9,345.68 128.99,336.28" fill="#e7f2fa" stroke="#e7f2fa" stroke-width="2" stroke-linejoin="round"/>
<line x1="128.1" y1="335.08" x2="131.4" y2="345.68" stroke="#1a1a1a" stroke-width="0.55"/>
<line x1="136.6" y1="328.48" x2="131.4" y2="345.68" stroke="#1a1a1a" stroke-width="0.55"/>
<line x1="136.6" y1="328.48" x2="141.8" y2="345.68" stroke="#1a1a1a" stroke-width="0.55"/>
<line x1="136.6" y1="328.48" x2="128.1" y2="335.08" stroke="#1a1a1a" stroke-width="0.9"/>
<circle cx="136.6" cy="328.48" r="1.85" fill="#000" stroke="#222" stroke-width="0.55"/>
<circle cx="128.1" cy="335.08" r="1.85" fill="#fff" stroke="#222" stroke-width="0.55"/>
<circle cx="131.4" cy="345.68" r="1.85" fill="#000" stroke="#222" stroke-width="0.55"/>
<circle cx="141.8" cy="345.68" r="1.85" fill="#fff" stroke="#222" stroke-width="0.55"/>
<circle cx="145.1" cy="335.08" r="1.85" fill="#000" stroke="#222" stroke-width="0.55"/>
<polygon points="136.6,350.72 144.21,356.52 141.3,365.92 131.9,365.92 128.99,356.52" fill="#e7f2fa" stroke="#e7f2fa" stroke-width="2" stroke-linejoin="round"/>
<line x1="128.1" y1="355.32" x2="131.4" y2="365.92" stroke="#1a1a1a" stroke-width="0.55"/>
<line x1="136.6" y1="348.72" x2="131.4" y2="365.92" stroke="#1a1a1a" stroke-width="0.55"/>
<line x1="136.6" y1="348.72" x2="141.8" y2="365.92" stroke="#1a1a1a" stroke-width="0.55"/>
<line x1="136.6" y1="348.72" x2="128.1" y2="355.32" stroke="#1a1a1a" stroke-width="0.9"/>
<circle cx="136.6" cy="348.72" r="1.85" fill="#000" stroke="#222" stroke-width="0.55"/>
<circle cx="128.1" cy="355.32" r="1.85" fill="#fff" stroke="#222" stroke-width="0.55"/>
<circle cx="131.4" cy="365.92" r="1.85" fill="#fff" stroke="#222" stroke-width="0.55"/>
<circle cx="141.8" cy="365.92" r="1.85" fill="#000" stroke="#222" stroke-width="0.55"/>
<circle cx="145.1" cy="355.32" r="1.85" fill="#000" stroke="#222" stroke-width="0.55"/>
<polygon points="136.6,370.96 144.21,376.76 141.3,386.16 131.9,386.16 128.99,376.76" fill="#e7f2fa" stroke="#e7f2fa" stroke-width="2" stroke-linejoin="round"/>
<line x1="128.1" y1="375.56" x2="131.4" y2="386.16" stroke="#1a1a1a" stroke-width="0.55"/>
<line x1="136.6" y1="368.96" x2="131.4" y2="386.16" stroke="#1a1a1a" stroke-width="0.55"/>
<line x1="136.6" y1="368.96" x2="141.8" y2="386.16" stroke="#1a1a1a" stroke-width="0.55"/>
<line x1="136.6" y1="368.96" x2="128.1" y2="375.56" stroke="#1a1a1a" stroke-width="0.9"/>
<circle cx="136.6" cy="368.96" r="1.85" fill="#fff" stroke="#222" stroke-width="0.55"/>
<circle cx="128.1" cy="375.56" r="1.85" fill="#000" stroke="#222" stroke-width="0.55"/>
<circle cx="131.4" cy="386.16" r="1.85" fill="#000" stroke="#222" stroke-width="0.55"/>
<circle cx="141.8" cy="386.16" r="1.85" fill="#000" stroke="#222" stroke-width="0.55"/>
<circle cx="145.1" cy="375.56" r="1.85" fill="#fff" stroke="#222" stroke-width="0.55"/>
<polygon points="136.6,391.2 144.21,397 141.3,406.4 131.9,406.4 128.99,397" fill="#e7f2fa" stroke="#e7f2fa" stroke-width="2" stroke-linejoin="round"/>
<line x1="128.1" y1="395.8" x2="131.4" y2="406.4" stroke="#1a1a1a" stroke-width="0.55"/>
<line x1="136.6" y1="389.2" x2="131.4" y2="406.4" stroke="#1a1a1a" stroke-width="0.55"/>
<line x1="136.6" y1="389.2" x2="141.8" y2="406.4" stroke="#1a1a1a" stroke-width="0.55"/>
<line x1="136.6" y1="389.2" x2="128.1" y2="395.8" stroke="#1a1a1a" stroke-width="0.9"/>
<circle cx="136.6" cy="389.2" r="1.85" fill="#fff" stroke="#222" stroke-width="0.55"/>
<circle cx="128.1" cy="395.8" r="1.85" fill="#000" stroke="#222" stroke-width="0.55"/>
<circle cx="131.4" cy="406.4" r="1.85" fill="#000" stroke="#222" stroke-width="0.55"/>
<circle cx="141.8" cy="406.4" r="1.85" fill="#fff" stroke="#222" stroke-width="0.55"/>
<circle cx="145.1" cy="395.8" r="1.85" fill="#000" stroke="#222" stroke-width="0.55"/>
<polygon points="136.6,411.44 144.21,417.24 141.3,426.64 131.9,426.64 128.99,417.24" fill="#e7f2fa" stroke="#e7f2fa" stroke-width="2" stroke-linejoin="round"/>
<line x1="128.1" y1="416.04" x2="131.4" y2="426.64" stroke="#1a1a1a" stroke-width="0.55"/>
<line x1="136.6" y1="409.44" x2="131.4" y2="426.64" stroke="#1a1a1a" stroke-width="0.55"/>
<line x1="136.6" y1="409.44" x2="141.8" y2="426.64" stroke="#1a1a1a" stroke-width="0.55"/>
<line x1="136.6" y1="409.44" x2="128.1" y2="416.04" stroke="#1a1a1a" stroke-width="0.9"/>
<circle cx="136.6" cy="409.44" r="1.85" fill="#fff" stroke="#222" stroke-width="0.55"/>
<circle cx="128.1" cy="416.04" r="1.85" fill="#000" stroke="#222" stroke-width="0.55"/>
<circle cx="131.4" cy="426.64" r="1.85" fill="#fff" stroke="#222" stroke-width="0.55"/>
<circle cx="141.8" cy="426.64" r="1.85" fill="#000" stroke="#222" stroke-width="0.55"/>
<circle cx="145.1" cy="416.04" r="1.85" fill="#000" stroke="#222" stroke-width="0.55"/>
<polygon points="136.6,431.68 144.21,437.48 141.3,446.88 131.9,446.88 128.99,437.48" fill="#e7f2fa" stroke="#e7f2fa" stroke-width="2" stroke-linejoin="round"/>
<line x1="128.1" y1="436.28" x2="131.4" y2="446.88" stroke="#1a1a1a" stroke-width="0.55"/>
<line x1="136.6" y1="429.68" x2="131.4" y2="446.88" stroke="#1a1a1a" stroke-width="0.55"/>
<line x1="136.6" y1="429.68" x2="141.8" y2="446.88" stroke="#1a1a1a" stroke-width="0.55"/>
<line x1="136.6" y1="429.68" x2="128.1" y2="436.28" stroke="#1a1a1a" stroke-width="0.9"/>
<circle cx="136.6" cy="429.68" r="1.85" fill="#fff" stroke="#222" stroke-width="0.55"/>
<circle cx="128.1" cy="436.28" r="1.85" fill="#fff" stroke="#222" stroke-width="0.55"/>
<circle cx="131.4" cy="446.88" r="1.85" fill="#000" stroke="#222" stroke-width="0.55"/>
<circle cx="141.8" cy="446.88" r="1.85" fill="#000" stroke="#222" stroke-width="0.55"/>
<circle cx="145.1" cy="436.28" r="1.85" fill="#000" stroke="#222" stroke-width="0.55"/>
<polygon points="173.6,299.92 181.21,305.72 178.3,315.12 168.9,315.12 165.99,305.72" fill="#e7f2fa" stroke="#e7f2fa" stroke-width="2" stroke-linejoin="round"/>
<line x1="165.1" y1="304.52" x2="168.4" y2="315.12" stroke="#1a1a1a" stroke-width="0.55"/>
<line x1="173.6" y1="297.92" x2="168.4" y2="315.12" stroke="#1a1a1a" stroke-width="0.55"/>
<line x1="173.6" y1="297.92" x2="178.8" y2="315.12" stroke="#1a1a1a" stroke-width="0.55"/>
<line x1="173.6" y1="297.92" x2="165.1" y2="304.52" stroke="#1a1a1a" stroke-width="0.9"/>
<circle cx="173.6" cy="297.92" r="1.85" fill="#000" stroke="#222" stroke-width="0.55"/>
<circle cx="165.1" cy="304.52" r="1.85" fill="#000" stroke="#222" stroke-width="0.55"/>
<circle cx="168.4" cy="315.12" r="1.85" fill="#000" stroke="#222" stroke-width="0.55"/>
<circle cx="178.8" cy="315.12" r="1.85" fill="#000" stroke="#222" stroke-width="0.55"/>
<circle cx="182.1" cy="304.52" r="1.85" fill="#fff" stroke="#222" stroke-width="0.55"/>
<polygon points="173.6,320.16 181.21,325.96 178.3,335.36 168.9,335.36 165.99,325.96" fill="#e7f2fa" stroke="#e7f2fa" stroke-width="2" stroke-linejoin="round"/>
<line x1="165.1" y1="324.76" x2="168.4" y2="335.36" stroke="#1a1a1a" stroke-width="0.55"/>
<line x1="173.6" y1="318.16" x2="168.4" y2="335.36" stroke="#1a1a1a" stroke-width="0.55"/>
<line x1="173.6" y1="318.16" x2="178.8" y2="335.36" stroke="#1a1a1a" stroke-width="0.55"/>
<line x1="173.6" y1="318.16" x2="165.1" y2="324.76" stroke="#1a1a1a" stroke-width="0.9"/>
<circle cx="173.6" cy="318.16" r="1.85" fill="#000" stroke="#222" stroke-width="0.55"/>
<circle cx="165.1" cy="324.76" r="1.85" fill="#000" stroke="#222" stroke-width="0.55"/>
<circle cx="168.4" cy="335.36" r="1.85" fill="#000" stroke="#222" stroke-width="0.55"/>
<circle cx="178.8" cy="335.36" r="1.85" fill="#000" stroke="#222" stroke-width="0.55"/>
<circle cx="182.1" cy="324.76" r="1.85" fill="#fff" stroke="#222" stroke-width="0.55"/>
<polygon points="173.6,340.4 181.21,346.2 178.3,355.6 168.9,355.6 165.99,346.2" fill="#e7f2fa" stroke="#e7f2fa" stroke-width="2" stroke-linejoin="round"/>
<line x1="165.1" y1="345" x2="168.4" y2="355.6" stroke="#1a1a1a" stroke-width="0.55"/>
<line x1="173.6" y1="338.4" x2="168.4" y2="355.6" stroke="#1a1a1a" stroke-width="0.55"/>
<line x1="173.6" y1="338.4" x2="178.8" y2="355.6" stroke="#1a1a1a" stroke-width="0.55"/>
<line x1="173.6" y1="338.4" x2="165.1" y2="345" stroke="#1a1a1a" stroke-width="0.9"/>
<circle cx="173.6" cy="338.4" r="1.85" fill="#000" stroke="#222" stroke-width="0.55"/>
<circle cx="165.1" cy="345" r="1.85" fill="#000" stroke="#222" stroke-width="0.55"/>
<circle cx="168.4" cy="355.6" r="1.85" fill="#fff" stroke="#222" stroke-width="0.55"/>
<circle cx="178.8" cy="355.6" r="1.85" fill="#000" stroke="#222" stroke-width="0.55"/>
<circle cx="182.1" cy="345" r="1.85" fill="#000" stroke="#222" stroke-width="0.55"/>
<polygon points="173.6,360.64 181.21,366.44 178.3,375.84 168.9,375.84 165.99,366.44" fill="#e7f2fa" stroke="#e7f2fa" stroke-width="2" stroke-linejoin="round"/>
<line x1="165.1" y1="365.24" x2="168.4" y2="375.84" stroke="#1a1a1a" stroke-width="0.55"/>
<line x1="173.6" y1="358.64" x2="168.4" y2="375.84" stroke="#1a1a1a" stroke-width="0.55"/>
<line x1="173.6" y1="358.64" x2="178.8" y2="375.84" stroke="#1a1a1a" stroke-width="0.55"/>
<line x1="173.6" y1="358.64" x2="165.1" y2="365.24" stroke="#1a1a1a" stroke-width="0.9"/>
<circle cx="173.6" cy="358.64" r="1.85" fill="#000" stroke="#222" stroke-width="0.55"/>
<circle cx="165.1" cy="365.24" r="1.85" fill="#fff" stroke="#222" stroke-width="0.55"/>
<circle cx="168.4" cy="375.84" r="1.85" fill="#000" stroke="#222" stroke-width="0.55"/>
<circle cx="178.8" cy="375.84" r="1.85" fill="#000" stroke="#222" stroke-width="0.55"/>
<circle cx="182.1" cy="365.24" r="1.85" fill="#000" stroke="#222" stroke-width="0.55"/>
<polygon points="173.6,380.88 181.21,386.68 178.3,396.08 168.9,396.08 165.99,386.68" fill="#e7f2fa" stroke="#e7f2fa" stroke-width="2" stroke-linejoin="round"/>
<line x1="165.1" y1="385.48" x2="168.4" y2="396.08" stroke="#1a1a1a" stroke-width="0.55"/>
<line x1="173.6" y1="378.88" x2="168.4" y2="396.08" stroke="#1a1a1a" stroke-width="0.55"/>
<line x1="173.6" y1="378.88" x2="178.8" y2="396.08" stroke="#1a1a1a" stroke-width="0.55"/>
<line x1="173.6" y1="378.88" x2="165.1" y2="385.48" stroke="#1a1a1a" stroke-width="0.9"/>
<circle cx="173.6" cy="378.88" r="1.85" fill="#fff" stroke="#222" stroke-width="0.55"/>
<circle cx="165.1" cy="385.48" r="1.85" fill="#000" stroke="#222" stroke-width="0.55"/>
<circle cx="168.4" cy="396.08" r="1.85" fill="#000" stroke="#222" stroke-width="0.55"/>
<circle cx="178.8" cy="396.08" r="1.85" fill="#000" stroke="#222" stroke-width="0.55"/>
<circle cx="182.1" cy="385.48" r="1.85" fill="#000" stroke="#222" stroke-width="0.55"/>
<polygon points="205.4,340.1 213.01,345.9 210.1,355.3 200.7,355.3 197.79,345.9" fill="#e7f2fa" stroke="#e7f2fa" stroke-width="2" stroke-linejoin="round"/>
<line x1="196.9" y1="344.7" x2="200.2" y2="355.3" stroke="#1a1a1a" stroke-width="0.55"/>
<line x1="205.4" y1="338.1" x2="200.2" y2="355.3" stroke="#1a1a1a" stroke-width="0.55"/>
<line x1="205.4" y1="338.1" x2="210.6" y2="355.3" stroke="#1a1a1a" stroke-width="0.55"/>
<line x1="205.4" y1="338.1" x2="196.9" y2="344.7" stroke="#1a1a1a" stroke-width="0.9"/>
<circle cx="205.4" cy="338.1" r="1.85" fill="#000" stroke="#222" stroke-width="0.55"/>
<circle cx="196.9" cy="344.7" r="1.85" fill="#000" stroke="#222" stroke-width="0.55"/>
<circle cx="200.2" cy="355.3" r="1.85" fill="#000" stroke="#222" stroke-width="0.55"/>
<circle cx="210.6" cy="355.3" r="1.85" fill="#000" stroke="#222" stroke-width="0.55"/>
<circle cx="213.9" cy="344.7" r="1.85" fill="#000" stroke="#222" stroke-width="0.55"/>
<text x="228.3" y="239.5" class="pl">d</text>
<circle cx="259.6" cy="248.8" r="3.25" fill="#e6f8d2" stroke="#222" stroke-width="1.0"/>
<text x="259.6" y="245.1" class="nl">1</text>
<circle cx="237.2" cy="265.4" r="3.25" fill="#e6f8d2" stroke="#222" stroke-width="1.0"/>
<text x="232.6" y="260.3" class="nl">2</text>
<circle cx="282.8" cy="265.4" r="3.25" fill="#e6f8d2" stroke="#222" stroke-width="1.0"/>
<text x="285.6" y="260.3" class="nl">5</text>
<circle cx="245.4" cy="291.7" r="3.25" fill="#e6f8d2" stroke="#222" stroke-width="1.0"/>
<text x="238.3" y="303.9" class="nl">3</text>
<circle cx="274" cy="291.7" r="3.25" fill="#e6f8d2" stroke="#222" stroke-width="1.0"/>
<text x="278.6" y="303.9" class="nl">4</text>
<path d="M261.4 348.4L296.6 348.9M261.4 348.4L296.6 369.14M261.4 348.4L296.6 389.38M296.6 308.42L331.2 258.12M296.6 308.42L331.2 278.36M296.6 308.42L331.2 298.6M296.6 308.42L331.2 318.84M296.6 328.66L331.2 258.12M296.6 328.66L331.2 339.08M296.6 328.66L331.2 359.32M296.6 328.66L331.2 379.56M296.6 348.9L331.2 278.36M296.6 348.9L331.2 339.08M296.6 348.9L331.2 399.8M296.6 348.9L331.2 420.04M296.6 369.14L331.2 298.6M296.6 369.14L331.2 359.32M296.6 369.14L331.2 399.8M296.6 369.14L331.2 440.28M296.6 389.38L331.2 318.84M296.6 389.38L331.2 379.56M296.6 389.38L331.2 420.04M296.6 389.38L331.2 440.28M331.2 258.12L365.7 258.12M331.2 258.12L365.7 278.36M331.2 258.12L365.7 298.6M331.2 278.36L365.7 258.12M331.2 278.36L365.7 318.84M331.2 278.36L365.7 339.08M331.2 298.6L365.7 278.36M331.2 298.6L365.7 318.84M331.2 298.6L365.7 359.32M331.2 318.84L365.7 298.6M331.2 318.84L365.7 339.08M331.2 318.84L365.7 359.32M331.2 339.08L365.7 258.12M331.2 339.08L365.7 379.56M331.2 339.08L365.7 399.8M331.2 359.32L365.7 278.36M331.2 359.32L365.7 379.56M331.2 359.32L365.7 420.04M331.2 379.56L365.7 298.6M331.2 379.56L365.7 399.8M331.2 379.56L365.7 420.04M331.2 399.8L365.7 318.84M331.2 399.8L365.7 379.56M331.2 399.8L365.7 440.28M331.2 420.04L365.7 339.08M331.2 420.04L365.7 399.8M331.2 420.04L365.7 440.28M331.2 440.28L365.7 359.32M331.2 440.28L365.7 420.04M331.2 440.28L365.7 440.28M365.7 258.12L402.7 308.52M365.7 258.12L402.7 328.76M365.7 278.36L402.7 308.52M365.7 278.36L402.7 349M365.7 298.6L402.7 328.76M365.7 298.6L402.7 349M365.7 318.84L402.7 308.52M365.7 318.84L402.7 369.24M365.7 339.08L402.7 328.76M365.7 339.08L402.7 369.24M365.7 359.32L402.7 349M365.7 359.32L402.7 369.24M365.7 379.56L402.7 308.52M365.7 379.56L402.7 389.48M365.7 399.8L402.7 328.76M365.7 399.8L402.7 389.48M365.7 420.04L402.7 349M365.7 420.04L402.7 389.48M365.7 440.28L402.7 369.24M365.7 440.28L402.7 389.48M402.7 308.52L434.5 348.7M402.7 328.76L434.5 348.7M402.7 349L434.5 348.7M402.7 369.24L434.5 348.7M402.7 389.48L434.5 348.7" stroke="#dedef4" stroke-width="2.6" fill="none"/>
<path d="M260.3 347.4L295.5 347.9M260.3 347.4L295.5 368.14M260.3 347.4L295.5 388.38M295.5 307.42L330.1 257.12M295.5 307.42L330.1 277.36M295.5 307.42L330.1 297.6M295.5 307.42L330.1 317.84M295.5 327.66L330.1 257.12M295.5 327.66L330.1 338.08M295.5 327.66L330.1 358.32M295.5 327.66L330.1 378.56M295.5 347.9L330.1 277.36M295.5 347.9L330.1 338.08M295.5 347.9L330.1 398.8M295.5 347.9L330.1 419.04M295.5 368.14L330.1 297.6M295.5 368.14L330.1 358.32M295.5 368.14L330.1 398.8M295.5 368.14L330.1 439.28M295.5 388.38L330.1 317.84M295.5 388.38L330.1 378.56M295.5 388.38L330.1 419.04M295.5 388.38L330.1 439.28M330.1 257.12L364.6 257.12M330.1 257.12L364.6 277.36M330.1 257.12L364.6 297.6M330.1 277.36L364.6 257.12M330.1 277.36L364.6 317.84M330.1 277.36L364.6 338.08M330.1 297.6L364.6 277.36M330.1 297.6L364.6 317.84M330.1 297.6L364.6 358.32M330.1 317.84L364.6 297.6M330.1 317.84L364.6 338.08M330.1 317.84L364.6 358.32M330.1 338.08L364.6 257.12M330.1 338.08L364.6 378.56M330.1 338.08L364.6 398.8M330.1 358.32L364.6 277.36M330.1 358.32L364.6 378.56M330.1 358.32L364.6 419.04M330.1 378.56L364.6 297.6M330.1 378.56L364.6 398.8M330.1 378.56L364.6 419.04M330.1 398.8L364.6 317.84M330.1 398.8L364.6 378.56M330.1 398.8L364.6 439.28M330.1 419.04L364.6 338.08M330.1 419.04L364.6 398.8M330.1 419.04L364.6 439.28M330.1 439.28L364.6 358.32M330.1 439.28L364.6 419.04M330.1 439.28L364.6 439.28M364.6 257.12L401.6 307.52M364.6 257.12L401.6 327.76M364.6 277.36L401.6 307.52M364.6 277.36L401.6 348M364.6 297.6L401.6 327.76M364.6 297.6L401.6 348M364.6 317.84L401.6 307.52M364.6 317.84L401.6 368.24M364.6 338.08L401.6 327.76M364.6 338.08L401.6 368.24M364.6 358.32L401.6 348M364.6 358.32L401.6 368.24M364.6 378.56L401.6 307.52M364.6 378.56L401.6 388.48M364.6 398.8L401.6 327.76M364.6 398.8L401.6 388.48M364.6 419.04L401.6 348M364.6 419.04L401.6 388.48M364.6 439.28L401.6 368.24M364.6 439.28L401.6 388.48M401.6 307.52L433.4 347.7M401.6 327.76L433.4 347.7M401.6 348L433.4 347.7M401.6 368.24L433.4 347.7M401.6 388.48L433.4 347.7" stroke="#4892d8" stroke-width="1.2" fill="none"/>
<line x1="260.8" y1="348.4" x2="296" y2="308.42" stroke="#f4b8c0" stroke-width="4.7"/>
<line x1="260.3" y1="347.4" x2="295.5" y2="307.42" stroke="#e8101c" stroke-width="3.5"/>
<line x1="260.8" y1="348.4" x2="296" y2="328.66" stroke="#f4b8c0" stroke-width="2.8"/>
<line x1="260.3" y1="347.4" x2="295.5" y2="327.66" stroke="#e8101c" stroke-width="1.6"/>
<polygon points="260.3,339.8 267.91,345.6 265,355 255.6,355 252.69,345.6" fill="#e7f2fa" stroke="#e7f2fa" stroke-width="2" stroke-linejoin="round"/>
<circle cx="260.3" cy="337.8" r="1.85" fill="#fff" stroke="#222" stroke-width="0.55"/>
<circle cx="251.8" cy="344.4" r="1.85" fill="#fff" stroke="#222" stroke-width="0.55"/>
<circle cx="255.1" cy="355" r="1.85" fill="#fff" stroke="#222" stroke-width="0.55"/>
<circle cx="265.5" cy="355" r="1.85" fill="#fff" stroke="#222" stroke-width="0.55"/>
<circle cx="268.8" cy="344.4" r="1.85" fill="#fff" stroke="#222" stroke-width="0.55"/>
<polygon points="295.5,299.82 303.11,305.62 300.2,315.02 290.8,315.02 287.89,305.62" fill="#e7f2fa" stroke="#e7f2fa" stroke-width="2" stroke-linejoin="round"/>
<circle cx="295.5" cy="297.82" r="1.85" fill="#000" stroke="#111" stroke-width="0.55"/>
<circle cx="287" cy="304.42" r="1.85" fill="#fff" stroke="#222" stroke-width="0.55"/>
<circle cx="290.3" cy="315.02" r="1.85" fill="#fff" stroke="#222" stroke-width="0.55"/>
<circle cx="300.7" cy="315.02" r="1.85" fill="#fff" stroke="#222" stroke-width="0.55"/>
<circle cx="304" cy="304.42" r="1.85" fill="#fff" stroke="#222" stroke-width="0.55"/>
<polygon points="295.5,320.06 303.11,325.86 300.2,335.26 290.8,335.26 287.89,325.86" fill="#e7f2fa" stroke="#e7f2fa" stroke-width="2" stroke-linejoin="round"/>
<circle cx="295.5" cy="318.06" r="1.85" fill="#fff" stroke="#3030b0" stroke-width="0.55"/>
<circle cx="287" cy="324.66" r="1.85" fill="#000" stroke="#222" stroke-width="0.55"/>
<circle cx="290.3" cy="335.26" r="1.85" fill="#fff" stroke="#222" stroke-width="0.55"/>
<circle cx="300.7" cy="335.26" r="1.85" fill="#fff" stroke="#222" stroke-width="0.55"/>
<circle cx="304" cy="324.66" r="1.85" fill="#fff" stroke="#222" stroke-width="0.55"/>
<polygon points="295.5,340.3 303.11,346.1 300.2,355.5 290.8,355.5 287.89,346.1" fill="#e7f2fa" stroke="#e7f2fa" stroke-width="2" stroke-linejoin="round"/>
<circle cx="295.5" cy="338.3" r="1.85" fill="#fff" stroke="#3030b0" stroke-width="0.55"/>
<circle cx="287" cy="344.9" r="1.85" fill="#fff" stroke="#222" stroke-width="0.55"/>
<circle cx="290.3" cy="355.5" r="1.85" fill="#000" stroke="#222" stroke-width="0.55"/>
<circle cx="300.7" cy="355.5" r="1.85" fill="#fff" stroke="#222" stroke-width="0.55"/>
<circle cx="304" cy="344.9" r="1.85" fill="#fff" stroke="#222" stroke-width="0.55"/>
<polygon points="295.5,360.54 303.11,366.34 300.2,375.74 290.8,375.74 287.89,366.34" fill="#e7f2fa" stroke="#e7f2fa" stroke-width="2" stroke-linejoin="round"/>
<circle cx="295.5" cy="358.54" r="1.85" fill="#fff" stroke="#3030b0" stroke-width="0.55"/>
<circle cx="287" cy="365.14" r="1.85" fill="#fff" stroke="#222" stroke-width="0.55"/>
<circle cx="290.3" cy="375.74" r="1.85" fill="#fff" stroke="#222" stroke-width="0.55"/>
<circle cx="300.7" cy="375.74" r="1.85" fill="#000" stroke="#222" stroke-width="0.55"/>
<circle cx="304" cy="365.14" r="1.85" fill="#fff" stroke="#222" stroke-width="0.55"/>
<polygon points="295.5,380.78 303.11,386.58 300.2,395.98 290.8,395.98 287.89,386.58" fill="#e7f2fa" stroke="#e7f2fa" stroke-width="2" stroke-linejoin="round"/>
<circle cx="295.5" cy="378.78" r="1.85" fill="#fff" stroke="#3030b0" stroke-width="0.55"/>
<circle cx="287" cy="385.38" r="1.85" fill="#fff" stroke="#222" stroke-width="0.55"/>
<circle cx="290.3" cy="395.98" r="1.85" fill="#fff" stroke="#222" stroke-width="0.55"/>
<circle cx="300.7" cy="395.98" r="1.85" fill="#fff" stroke="#222" stroke-width="0.55"/>
<circle cx="304" cy="385.38" r="1.85" fill="#000" stroke="#222" stroke-width="0.55"/>
<polygon points="330.1,249.52 337.71,255.32 334.8,264.72 325.4,264.72 322.49,255.32" fill="#e7f2fa" stroke="#e7f2fa" stroke-width="2" stroke-linejoin="round"/>
<circle cx="330.1" cy="247.52" r="1.85" fill="#000" stroke="#111" stroke-width="0.55"/>
<circle cx="321.6" cy="254.12" r="1.85" fill="#000" stroke="#222" stroke-width="0.55"/>
<circle cx="324.9" cy="264.72" r="1.85" fill="#fff" stroke="#222" stroke-width="0.55"/>
<circle cx="335.3" cy="264.72" r="1.85" fill="#fff" stroke="#222" stroke-width="0.55"/>
<circle cx="338.6" cy="254.12" r="1.85" fill="#fff" stroke="#222" stroke-width="0.55"/>
<polygon points="330.1,269.76 337.71,275.56 334.8,284.96 325.4,284.96 322.49,275.56" fill="#e7f2fa" stroke="#e7f2fa" stroke-width="2" stroke-linejoin="round"/>
<circle cx="330.1" cy="267.76" r="1.85" fill="#000" stroke="#111" stroke-width="0.55"/>
<circle cx="321.6" cy="274.36" r="1.85" fill="#fff" stroke="#222" stroke-width="0.55"/>
<circle cx="324.9" cy="284.96" r="1.85" fill="#000" stroke="#222" stroke-width="0.55"/>
<circle cx="335.3" cy="284.96" r="1.85" fill="#fff" stroke="#222" stroke-width="0.55"/>
<circle cx="338.6" cy="274.36" r="1.85" fill="#fff" stroke="#222" stroke-width="0.55"/>
<polygon points="330.1,290 337.71,295.8 334.8,305.2 325.4,305.2 322.49,295.8" fill="#e7f2fa" stroke="#e7f2fa" stroke-width="2" stroke-linejoin="round"/>
<circle cx="330.1" cy="288" r="1.85" fill="#000" stroke="#111" stroke-width="0.55"/>
<circle cx="321.6" cy="294.6" r="1.85" fill="#fff" stroke="#222" stroke-width="0.55"/>
<circle cx="324.9" cy="305.2" r="1.85" fill="#fff" stroke="#222" stroke-width="0.55"/>
<circle cx="335.3" cy="305.2" r="1.85" fill="#000" stroke="#222" stroke-width="0.55"/>
<circle cx="338.6" cy="294.6" r="1.85" fill="#fff" stroke="#222" stroke-width="0.55"/>
<polygon points="330.1,310.24 337.71,316.04 334.8,325.44 325.4,325.44 322.49,316.04" fill="#e7f2fa" stroke="#e7f2fa" stroke-width="2" stroke-linejoin="round"/>
<circle cx="330.1" cy="308.24" r="1.85" fill="#000" stroke="#111" stroke-width="0.55"/>
<circle cx="321.6" cy="314.84" r="1.85" fill="#fff" stroke="#222" stroke-width="0.55"/>
<circle cx="324.9" cy="325.44" r="1.85" fill="#fff" stroke="#222" stroke-width="0.55"/>
<circle cx="335.3" cy="325.44" r="1.85" fill="#fff" stroke="#222" stroke-width="0.55"/>
<circle cx="338.6" cy="314.84" r="1.85" fill="#000" stroke="#222" stroke-width="0.55"/>
<polygon points="330.1,330.48 337.71,336.28 334.8,345.68 325.4,345.68 322.49,336.28" fill="#e7f2fa" stroke="#e7f2fa" stroke-width="2" stroke-linejoin="round"/>
<circle cx="330.1" cy="328.48" r="1.85" fill="#fff" stroke="#3030b0" stroke-width="0.55"/>
<circle cx="321.6" cy="335.08" r="1.85" fill="#000" stroke="#222" stroke-width="0.55"/>
<circle cx="324.9" cy="345.68" r="1.85" fill="#000" stroke="#222" stroke-width="0.55"/>
<circle cx="335.3" cy="345.68" r="1.85" fill="#fff" stroke="#222" stroke-width="0.55"/>
<circle cx="338.6" cy="335.08" r="1.85" fill="#fff" stroke="#222" stroke-width="0.55"/>
<polygon points="330.1,350.72 337.71,356.52 334.8,365.92 325.4,365.92 322.49,356.52" fill="#e7f2fa" stroke="#e7f2fa" stroke-width="2" stroke-linejoin="round"/>
<circle cx="330.1" cy="348.72" r="1.85" fill="#fff" stroke="#3030b0" stroke-width="0.55"/>
<circle cx="321.6" cy="355.32" r="1.85" fill="#000" stroke="#222" stroke-width="0.55"/>
<circle cx="324.9" cy="365.92" r="1.85" fill="#fff" stroke="#222" stroke-width="0.55"/>
<circle cx="335.3" cy="365.92" r="1.85" fill="#000" stroke="#222" stroke-width="0.55"/>
<circle cx="338.6" cy="355.32" r="1.85" fill="#fff" stroke="#222" stroke-width="0.55"/>
<polygon points="330.1,370.96 337.71,376.76 334.8,386.16 325.4,386.16 322.49,376.76" fill="#e7f2fa" stroke="#e7f2fa" stroke-width="2" stroke-linejoin="round"/>
<circle cx="330.1" cy="368.96" r="1.85" fill="#fff" stroke="#3030b0" stroke-width="0.55"/>
<circle cx="321.6" cy="375.56" r="1.85" fill="#000" stroke="#222" stroke-width="0.55"/>
<circle cx="324.9" cy="386.16" r="1.85" fill="#fff" stroke="#222" stroke-width="0.55"/>
<circle cx="335.3" cy="386.16" r="1.85" fill="#fff" stroke="#222" stroke-width="0.55"/>
<circle cx="338.6" cy="375.56" r="1.85" fill="#000" stroke="#222" stroke-width="0.55"/>
<polygon points="330.1,391.2 337.71,397 334.8,406.4 325.4,406.4 322.49,397" fill="#e7f2fa" stroke="#e7f2fa" stroke-width="2" stroke-linejoin="round"/>
<circle cx="330.1" cy="389.2" r="1.85" fill="#fff" stroke="#3030b0" stroke-width="0.55"/>
<circle cx="321.6" cy="395.8" r="1.85" fill="#fff" stroke="#222" stroke-width="0.55"/>
<circle cx="324.9" cy="406.4" r="1.85" fill="#000" stroke="#222" stroke-width="0.55"/>
<circle cx="335.3" cy="406.4" r="1.85" fill="#000" stroke="#222" stroke-width="0.55"/>
<circle cx="338.6" cy="395.8" r="1.85" fill="#fff" stroke="#222" stroke-width="0.55"/>
<polygon points="330.1,411.44 337.71,417.24 334.8,426.64 325.4,426.64 322.49,417.24" fill="#e7f2fa" stroke="#e7f2fa" stroke-width="2" stroke-linejoin="round"/>
<circle cx="330.1" cy="409.44" r="1.85" fill="#fff" stroke="#3030b0" stroke-width="0.55"/>
<circle cx="321.6" cy="416.04" r="1.85" fill="#fff" stroke="#222" stroke-width="0.55"/>
<circle cx="324.9" cy="426.64" r="1.85" fill="#000" stroke="#222" stroke-width="0.55"/>
<circle cx="335.3" cy="426.64" r="1.85" fill="#fff" stroke="#222" stroke-width="0.55"/>
<circle cx="338.6" cy="416.04" r="1.85" fill="#000" stroke="#222" stroke-width="0.55"/>
<polygon points="330.1,431.68 337.71,437.48 334.8,446.88 325.4,446.88 322.49,437.48" fill="#e7f2fa" stroke="#e7f2fa" stroke-width="2" stroke-linejoin="round"/>
<circle cx="330.1" cy="429.68" r="1.85" fill="#fff" stroke="#3030b0" stroke-width="0.55"/>
<circle cx="321.6" cy="436.28" r="1.85" fill="#fff" stroke="#222" stroke-width="0.55"/>
<circle cx="324.9" cy="446.88" r="1.85" fill="#fff" stroke="#222" stroke-width="0.55"/>
<circle cx="335.3" cy="446.88" r="1.85" fill="#000" stroke="#222" stroke-width="0.55"/>
<circle cx="338.6" cy="436.28" r="1.85" fill="#000" stroke="#222" stroke-width="0.55"/>
<polygon points="364.6,249.52 372.21,255.32 369.3,264.72 359.9,264.72 356.99,255.32" fill="#e7f2fa" stroke="#e7f2fa" stroke-width="2" stroke-linejoin="round"/>
<circle cx="364.6" cy="247.52" r="1.85" fill="#000" stroke="#111" stroke-width="0.55"/>
<circle cx="356.1" cy="254.12" r="1.85" fill="#000" stroke="#222" stroke-width="0.55"/>
<circle cx="359.4" cy="264.72" r="1.85" fill="#000" stroke="#222" stroke-width="0.55"/>
<circle cx="369.8" cy="264.72" r="1.85" fill="#fff" stroke="#222" stroke-width="0.55"/>
<circle cx="373.1" cy="254.12" r="1.85" fill="#fff" stroke="#222" stroke-width="0.55"/>
<polygon points="364.6,269.76 372.21,275.56 369.3,284.96 359.9,284.96 356.99,275.56" fill="#e7f2fa" stroke="#e7f2fa" stroke-width="2" stroke-linejoin="round"/>
<circle cx="364.6" cy="267.76" r="1.85" fill="#000" stroke="#111" stroke-width="0.55"/>
<circle cx="356.1" cy="274.36" r="1.85" fill="#000" stroke="#222" stroke-width="0.55"/>
<circle cx="359.4" cy="284.96" r="1.85" fill="#fff" stroke="#222" stroke-width="0.55"/>
<circle cx="369.8" cy="284.96" r="1.85" fill="#000" stroke="#222" stroke-width="0.55"/>
<circle cx="373.1" cy="274.36" r="1.85" fill="#fff" stroke="#222" stroke-width="0.55"/>
<polygon points="364.6,290 372.21,295.8 369.3,305.2 359.9,305.2 356.99,295.8" fill="#e7f2fa" stroke="#e7f2fa" stroke-width="2" stroke-linejoin="round"/>
<circle cx="364.6" cy="288" r="1.85" fill="#000" stroke="#111" stroke-width="0.55"/>
<circle cx="356.1" cy="294.6" r="1.85" fill="#000" stroke="#222" stroke-width="0.55"/>
<circle cx="359.4" cy="305.2" r="1.85" fill="#fff" stroke="#222" stroke-width="0.55"/>
<circle cx="369.8" cy="305.2" r="1.85" fill="#fff" stroke="#222" stroke-width="0.55"/>
<circle cx="373.1" cy="294.6" r="1.85" fill="#000" stroke="#222" stroke-width="0.55"/>
<polygon points="364.6,310.24 372.21,316.04 369.3,325.44 359.9,325.44 356.99,316.04" fill="#e7f2fa" stroke="#e7f2fa" stroke-width="2" stroke-linejoin="round"/>
<circle cx="364.6" cy="308.24" r="1.85" fill="#000" stroke="#111" stroke-width="0.55"/>
<circle cx="356.1" cy="314.84" r="1.85" fill="#fff" stroke="#222" stroke-width="0.55"/>
<circle cx="359.4" cy="325.44" r="1.85" fill="#000" stroke="#222" stroke-width="0.55"/>
<circle cx="369.8" cy="325.44" r="1.85" fill="#000" stroke="#222" stroke-width="0.55"/>
<circle cx="373.1" cy="314.84" r="1.85" fill="#fff" stroke="#222" stroke-width="0.55"/>
<polygon points="364.6,330.48 372.21,336.28 369.3,345.68 359.9,345.68 356.99,336.28" fill="#e7f2fa" stroke="#e7f2fa" stroke-width="2" stroke-linejoin="round"/>
<circle cx="364.6" cy="328.48" r="1.85" fill="#14146e" stroke="#14146e" stroke-width="0.55"/>
<circle cx="356.1" cy="335.08" r="1.85" fill="#fff" stroke="#222" stroke-width="0.55"/>
<circle cx="359.4" cy="345.68" r="1.85" fill="#000" stroke="#222" stroke-width="0.55"/>
<circle cx="369.8" cy="345.68" r="1.85" fill="#fff" stroke="#222" stroke-width="0.55"/>
<circle cx="373.1" cy="335.08" r="1.85" fill="#000" stroke="#222" stroke-width="0.55"/>
<polygon points="364.6,350.72 372.21,356.52 369.3,365.92 359.9,365.92 356.99,356.52" fill="#e7f2fa" stroke="#e7f2fa" stroke-width="2" stroke-linejoin="round"/>
<circle cx="364.6" cy="348.72" r="1.85" fill="#14146e" stroke="#14146e" stroke-width="0.55"/>
<circle cx="356.1" cy="355.32" r="1.85" fill="#fff" stroke="#222" stroke-width="0.55"/>
<circle cx="359.4" cy="365.92" r="1.85" fill="#fff" stroke="#222" stroke-width="0.55"/>
<circle cx="369.8" cy="365.92" r="1.85" fill="#000" stroke="#222" stroke-width="0.55"/>
<circle cx="373.1" cy="355.32" r="1.85" fill="#000" stroke="#222" stroke-width="0.55"/>
<polygon points="364.6,370.96 372.21,376.76 369.3,386.16 359.9,386.16 356.99,376.76" fill="#e7f2fa" stroke="#e7f2fa" stroke-width="2" stroke-linejoin="round"/>
<circle cx="364.6" cy="368.96" r="1.85" fill="#fff" stroke="#3030b0" stroke-width="0.55"/>
<circle cx="356.1" cy="375.56" r="1.85" fill="#000" stroke="#222" stroke-width="0.55"/>
<circle cx="359.4" cy="386.16" r="1.85" fill="#000" stroke="#222" stroke-width="0.55"/>
<circle cx="369.8" cy="386.16" r="1.85" fill="#000" stroke="#222" stroke-width="0.55"/>
<circle cx="373.1" cy="375.56" r="1.85" fill="#fff" stroke="#222" stroke-width="0.55"/>
<polygon points="364.6,391.2 372.21,397 369.3,406.4 359.9,406.4 356.99,397" fill="#e7f2fa" stroke="#e7f2fa" stroke-width="2" stroke-linejoin="round"/>
<circle cx="364.6" cy="389.2" r="1.85" fill="#fff" stroke="#3030b0" stroke-width="0.55"/>
<circle cx="356.1" cy="395.8" r="1.85" fill="#000" stroke="#222" stroke-width="0.55"/>
<circle cx="359.4" cy="406.4" r="1.85" fill="#000" stroke="#222" stroke-width="0.55"/>
<circle cx="369.8" cy="406.4" r="1.85" fill="#fff" stroke="#222" stroke-width="0.55"/>
<circle cx="373.1" cy="395.8" r="1.85" fill="#000" stroke="#222" stroke-width="0.55"/>
<polygon points="364.6,411.44 372.21,417.24 369.3,426.64 359.9,426.64 356.99,417.24" fill="#e7f2fa" stroke="#e7f2fa" stroke-width="2" stroke-linejoin="round"/>
<circle cx="364.6" cy="409.44" r="1.85" fill="#fff" stroke="#3030b0" stroke-width="0.55"/>
<circle cx="356.1" cy="416.04" r="1.85" fill="#000" stroke="#222" stroke-width="0.55"/>
<circle cx="359.4" cy="426.64" r="1.85" fill="#fff" stroke="#222" stroke-width="0.55"/>
<circle cx="369.8" cy="426.64" r="1.85" fill="#000" stroke="#222" stroke-width="0.55"/>
<circle cx="373.1" cy="416.04" r="1.85" fill="#000" stroke="#222" stroke-width="0.55"/>
<polygon points="364.6,431.68 372.21,437.48 369.3,446.88 359.9,446.88 356.99,437.48" fill="#e7f2fa" stroke="#e7f2fa" stroke-width="2" stroke-linejoin="round"/>
<circle cx="364.6" cy="429.68" r="1.85" fill="#fff" stroke="#3030b0" stroke-width="0.55"/>
<circle cx="356.1" cy="436.28" r="1.85" fill="#fff" stroke="#222" stroke-width="0.55"/>
<circle cx="359.4" cy="446.88" r="1.85" fill="#000" stroke="#222" stroke-width="0.55"/>
<circle cx="369.8" cy="446.88" r="1.85" fill="#000" stroke="#222" stroke-width="0.55"/>
<circle cx="373.1" cy="436.28" r="1.85" fill="#000" stroke="#222" stroke-width="0.55"/>
<polygon points="401.6,299.92 409.21,305.72 406.3,315.12 396.9,315.12 393.99,305.72" fill="#e7f2fa" stroke="#e7f2fa" stroke-width="2" stroke-linejoin="round"/>
<circle cx="401.6" cy="297.92" r="1.85" fill="#000" stroke="#111" stroke-width="0.55"/>
<circle cx="393.1" cy="304.52" r="1.85" fill="#000" stroke="#222" stroke-width="0.55"/>
<circle cx="396.4" cy="315.12" r="1.85" fill="#000" stroke="#222" stroke-width="0.55"/>
<circle cx="406.8" cy="315.12" r="1.85" fill="#000" stroke="#222" stroke-width="0.55"/>
<circle cx="410.1" cy="304.52" r="1.85" fill="#fff" stroke="#222" stroke-width="0.55"/>
<polygon points="401.6,320.16 409.21,325.96 406.3,335.36 396.9,335.36 393.99,325.96" fill="#e7f2fa" stroke="#e7f2fa" stroke-width="2" stroke-linejoin="round"/>
<circle cx="401.6" cy="318.16" r="1.85" fill="#14146e" stroke="#14146e" stroke-width="0.55"/>
<circle cx="393.1" cy="324.76" r="1.85" fill="#000" stroke="#222" stroke-width="0.55"/>
<circle cx="396.4" cy="335.36" r="1.85" fill="#000" stroke="#222" stroke-width="0.55"/>
<circle cx="406.8" cy="335.36" r="1.85" fill="#fff" stroke="#222" stroke-width="0.55"/>
<circle cx="410.1" cy="324.76" r="1.85" fill="#000" stroke="#222" stroke-width="0.55"/>
<polygon points="401.6,340.4 409.21,346.2 406.3,355.6 396.9,355.6 393.99,346.2" fill="#e7f2fa" stroke="#e7f2fa" stroke-width="2" stroke-linejoin="round"/>
<circle cx="401.6" cy="338.4" r="1.85" fill="#14146e" stroke="#14146e" stroke-width="0.55"/>
<circle cx="393.1" cy="345" r="1.85" fill="#000" stroke="#222" stroke-width="0.55"/>
<circle cx="396.4" cy="355.6" r="1.85" fill="#fff" stroke="#222" stroke-width="0.55"/>
<circle cx="406.8" cy="355.6" r="1.85" fill="#000" stroke="#222" stroke-width="0.55"/>
<circle cx="410.1" cy="345" r="1.85" fill="#000" stroke="#222" stroke-width="0.55"/>
<polygon points="401.6,360.64 409.21,366.44 406.3,375.84 396.9,375.84 393.99,366.44" fill="#e7f2fa" stroke="#e7f2fa" stroke-width="2" stroke-linejoin="round"/>
<circle cx="401.6" cy="358.64" r="1.85" fill="#14146e" stroke="#14146e" stroke-width="0.55"/>
<circle cx="393.1" cy="365.24" r="1.85" fill="#fff" stroke="#222" stroke-width="0.55"/>
<circle cx="396.4" cy="375.84" r="1.85" fill="#000" stroke="#222" stroke-width="0.55"/>
<circle cx="406.8" cy="375.84" r="1.85" fill="#000" stroke="#222" stroke-width="0.55"/>
<circle cx="410.1" cy="365.24" r="1.85" fill="#000" stroke="#222" stroke-width="0.55"/>
<polygon points="401.6,380.88 409.21,386.68 406.3,396.08 396.9,396.08 393.99,386.68" fill="#e7f2fa" stroke="#e7f2fa" stroke-width="2" stroke-linejoin="round"/>
<circle cx="401.6" cy="378.88" r="1.85" fill="#fff" stroke="#3030b0" stroke-width="0.55"/>
<circle cx="393.1" cy="385.48" r="1.85" fill="#000" stroke="#222" stroke-width="0.55"/>
<circle cx="396.4" cy="396.08" r="1.85" fill="#000" stroke="#222" stroke-width="0.55"/>
<circle cx="406.8" cy="396.08" r="1.85" fill="#000" stroke="#222" stroke-width="0.55"/>
<circle cx="410.1" cy="385.48" r="1.85" fill="#000" stroke="#222" stroke-width="0.55"/>
<polygon points="433.4,340.1 441.01,345.9 438.1,355.3 428.7,355.3 425.79,345.9" fill="#e7f2fa" stroke="#e7f2fa" stroke-width="2" stroke-linejoin="round"/>
<circle cx="433.4" cy="338.1" r="1.85" fill="#14146e" stroke="#14146e" stroke-width="0.55"/>
<circle cx="424.9" cy="344.7" r="1.85" fill="#000" stroke="#222" stroke-width="0.55"/>
<circle cx="428.2" cy="355.3" r="1.85" fill="#000" stroke="#222" stroke-width="0.55"/>
<circle cx="438.6" cy="355.3" r="1.85" fill="#000" stroke="#222" stroke-width="0.55"/>
<circle cx="441.9" cy="344.7" r="1.85" fill="#000" stroke="#222" stroke-width="0.55"/>
<path d="M490.5 204.7L490.5 29.9L492.04 30.63L493.64 31.36L495.29 32.08L497 32.81L498.75 33.54L500.54 34.27L502.39 35L504.27 35.73L506.19 36.45L508.15 37.18L510.15 37.91L512.18 38.64L514.24 39.37L516.33 40.1L518.45 40.82L520.6 41.55L522.77 42.28L524.96 43.01L527.17 43.74L529.4 44.47L531.65 45.19L533.91 45.92L536.19 46.65L538.47 47.38L540.77 48.11L543.08 48.84L545.39 49.56L547.71 50.29L550.03 51.02L552.35 51.75L554.67 52.48L557 53.21L559.32 53.93L561.64 54.66L563.95 55.39L566.25 56.12L568.55 56.85L570.84 57.58L573.12 58.3L575.39 59.03L577.65 59.76L579.89 60.49L582.12 61.22L584.33 61.95L586.52 62.67L588.7 63.4L590.86 64.13L593 64.86L595.11 65.59L597.21 66.32L599.28 67.04L601.33 67.77L603.35 68.5L605.35 69.23L607.33 69.96L609.27 70.69L611.19 71.41L613.08 72.14L614.95 72.87L616.78 73.6L618.58 74.33L620.35 75.06L622.09 75.78L623.8 76.51L625.48 77.24L627.12 77.97L628.73 78.7L630.31 79.43L631.85 80.15L633.36 80.88L634.84 81.61L636.28 82.34L637.68 83.07L639.05 83.8L640.39 84.52L641.69 85.25L642.95 85.98L644.18 86.71L645.37 87.44L646.52 88.17L647.64 88.89L648.72 89.62L649.77 90.35L650.78 91.08L651.76 91.81L652.7 92.54L653.6 93.26L654.47 93.99L655.3 94.72L656.1 95.45L656.87 96.18L657.6 96.91L658.29 97.63L658.95 98.36L659.58 99.09L660.18 99.82L660.74 100.55L661.27 101.28L661.77 102L662.24 102.73L662.68 103.46L663.09 104.19L663.47 104.92L663.82 105.65L664.14 106.37L664.44 107.1L664.71 107.83L664.95 108.56L665.17 109.29L665.37 110.02L665.54 110.74L665.69 111.47L665.82 112.2L665.92 112.93L666.01 113.66L666.08 114.39L666.14 115.11L666.17 115.84L666.19 116.57L666.2 117.3L666.2 204.7Z" fill="#eafdff"/>
<path d="M490.5 204.7L490.5 48.25L490.52 48.97L490.55 49.68L490.58 50.39L490.61 51.1L490.64 51.82L490.67 52.53L490.7 53.24L490.73 53.95L490.77 54.67L490.8 55.38L490.83 56.09L490.87 56.8L490.92 57.52L490.97 58.23L491.03 58.94L491.11 59.65L491.21 60.37L491.34 61.08L491.49 61.79L491.67 62.5L491.87 63.21L492.1 63.93L492.35 64.64L492.67 65.35L493.16 66.06L493.75 66.78L494.34 67.49L494.97 68.2L495.65 68.91L496.35 69.63L497.07 70.34L497.77 71.05L498.48 71.76L499.19 72.48L499.91 73.19L500.63 73.9L501.36 74.61L502.07 75.33L502.79 76.04L503.49 76.75L504.2 77.46L504.92 78.18L505.64 78.89L506.38 79.6L507.14 80.31L507.91 81.03L508.69 81.74L509.47 82.45L510.24 83.16L511 83.88L511.74 84.59L512.46 85.3L513.18 86.01L513.89 86.72L514.59 87.44L515.28 88.15L515.97 88.86L516.65 89.57L517.33 90.29L518 91L518.67 91.71L519.36 92.42L520.04 93.14L520.72 93.85L521.39 94.56L522.05 95.27L522.69 95.99L523.31 96.7L523.89 97.41L524.45 98.12L524.98 98.84L525.48 99.55L525.97 100.26L526.44 100.97L526.89 101.69L527.34 102.4L527.78 103.11L528.21 103.82L528.65 104.54L529.08 105.25L529.52 105.96L529.97 106.67L530.42 107.38L530.87 108.1L531.33 108.81L531.78 109.52L532.22 110.23L532.65 110.95L533.06 111.66L533.45 112.37L533.81 113.08L534.15 113.8L534.47 114.51L534.77 115.22L535.06 115.93L535.34 116.65L535.6 117.36L535.86 118.07L536.1 118.78L536.34 119.5L536.57 120.21L536.8 120.92L537.03 121.63L537.26 122.35L537.48 123.06L537.69 123.77L537.89 124.48L538.05 125.2L538.19 125.91L538.3 126.62L538.39 127.33L538.47 128.05L538.55 128.76L538.62 129.47L538.69 130.18L538.74 130.89L538.78 131.61L538.81 132.32L538.82 133.03L538.82 204.7Z" fill="#fde7da"/>
<rect x="490.5" y="11.8" width="192.8" height="192.9" fill="none" stroke="#3a3a3a" stroke-width="0.9"/>
<path d="M490.5 204.7V202.5M490.5 11.8V14M490.5 204.7H492.7M683.3 204.7H681.1M525.64 204.7V202.5M525.64 11.8V14M490.5 169.74H492.7M683.3 169.74H681.1M560.78 204.7V202.5M560.78 11.8V14M490.5 134.78H492.7M683.3 134.78H681.1M595.92 204.7V202.5M595.92 11.8V14M490.5 99.82H492.7M683.3 99.82H681.1M631.06 204.7V202.5M631.06 11.8V14M490.5 64.86H492.7M683.3 64.86H681.1M666.2 204.7V202.5M666.2 11.8V14M490.5 29.9H492.7M683.3 29.9H681.1" stroke="#3a3a3a" stroke-width="0.8"/>
<path d="M490.5 204.68L490.55 202.58L490.6 200.51L490.64 198.47L490.69 196.47L490.73 194.49L490.76 192.54L490.8 190.62L490.83 188.73L490.86 186.86L490.89 185.02L490.92 183.2L490.94 181.41L490.96 179.63L490.98 177.88L491 176.15L491.02 174.43L491.04 172.73L491.05 171.05L491.07 169.38L491.08 167.73L491.09 166.09L491.1 164.46L491.11 162.85L491.12 161.24L491.13 159.64L491.14 158.05L491.14 156.47L491.15 154.89L491.16 153.32L491.17 151.75L491.17 150.18L491.18 148.61L491.19 147.05L491.2 145.48L491.21 143.91L491.22 142.34L491.23 140.76L491.24 139.18L491.25 137.59L491.26 136L491.27 134.4L491.29 132.78L491.3 131.16L491.32 129.53L491.34 127.88L491.36 126.22L491.38 124.54L491.41 122.85L491.43 121.15L491.46 119.42L491.49 117.68L491.52 115.91L491.56 114.13L491.59 112.32L491.63 110.49L491.68 108.63L491.72 106.75L491.77 104.84L491.82 102.91L491.87 100.95L491.93 98.95L491.99 96.93L492.05 94.87L492.12 92.79L492.19 90.66L492.27 88.51L492.34 86.34L492.43 84.18L492.51 82.06L492.61 80.01L492.7 78.06L492.81 76.22L492.92 74.55L493.03 73.05L493.16 71.75L493.29 70.7L493.42 69.9L493.57 69.4L493.72 69.22L493.88 69.38L494.05 69.88L494.23 70.67L494.4 71.72L494.58 72.99L494.76 74.43L494.93 76.03L495.09 77.72L495.25 79.49L495.4 81.28L495.53 83.08L495.65 84.89L495.77 86.71L495.87 88.53L495.96 90.37L496.04 92.2L496.12 94.04L496.19 95.89L496.24 97.74L496.3 99.59L496.34 101.44L496.38 103.3L496.41 105.15L496.44 107.01L496.46 108.86L496.47 110.71L496.49 112.56L496.49 114.4L496.5 116.24L496.5 118.07L496.5 119.9L496.5 121.72L496.5 123.54L496.5 125.34L496.49 127.14L496.49 128.93L496.49 130.7L496.48 132.47L496.48 134.24L496.47 135.99L496.46 137.74L496.44 139.48L496.43 141.21L496.41 142.94L496.39 144.66L496.36 146.38L496.33 148.09L496.3 149.8L496.26 151.51L496.21 153.21L496.16 154.91L496.1 156.6L496.04 158.3L495.97 159.99L495.89 161.68L495.8 163.37L495.71 165.06L495.61 166.74L495.5 168.43L495.38 170.12L495.25 171.81L495.11 173.51L494.96 175.2L494.8 176.9L494.63 178.6L494.45 180.3L494.25 182.01L494.05 183.72L493.83 185.43L493.6 187.15L493.35 188.88L493.1 190.61L492.82 192.35L492.54 194.09L492.24 195.84L491.92 197.6L491.59 199.37L491.24 201.14L490.88 202.92L490.5 204.72" fill="none" stroke="#ee6433" stroke-width="1.1" stroke-dasharray="3.2 1.2 0.8 1.2"/>
<path d="M490.52 204.79L490.6 203.07L490.69 201.36L490.77 199.66L490.86 197.97L490.95 196.29L491.03 194.62L491.12 192.96L491.21 191.31L491.3 189.67L491.39 188.03L491.48 186.41L491.57 184.79L491.66 183.18L491.75 181.57L491.85 179.97L491.94 178.38L492.04 176.79L492.14 175.21L492.24 173.63L492.34 172.06L492.44 170.49L492.55 168.92L492.65 167.36L492.76 165.8L492.87 164.24L492.99 162.68L493.1 161.13L493.22 159.57L493.34 158.02L493.46 156.46L493.59 154.91L493.72 153.36L493.85 151.8L493.98 150.25L494.12 148.69L494.26 147.13L494.4 145.56L494.55 144L494.69 142.43L494.85 140.86L495 139.28L495.16 137.7L495.32 136.11L495.49 134.52L495.66 132.92L495.84 131.32L496.01 129.71L496.2 128.09L496.38 126.47L496.57 124.84L496.77 123.2L496.97 121.55L497.17 119.89L497.38 118.23L497.59 116.55L497.81 114.86L498.03 113.17L498.25 111.46L498.49 109.74L498.72 108.01L498.97 106.27L499.21 104.51L499.46 102.74L499.72 100.97L499.99 99.2L500.25 97.44L500.53 95.7L500.81 93.98L501.09 92.3L501.39 90.66L501.68 89.07L501.99 87.54L502.3 86.08L502.61 84.7L502.93 83.45L503.24 82.41L503.55 81.65L503.85 81.23L504.14 81.21L504.41 81.64L504.67 82.44L504.91 83.54L505.14 84.86L505.36 86.31L505.57 87.82L505.76 89.35L505.95 90.89L506.13 92.45L506.29 94.01L506.45 95.59L506.59 97.17L506.73 98.77L506.86 100.37L506.98 101.98L507.08 103.6L507.18 105.23L507.27 106.87L507.35 108.51L507.42 110.15L507.49 111.81L507.54 113.46L507.58 115.12L507.62 116.78L507.64 118.45L507.66 120.12L507.67 121.79L507.67 123.46L507.66 125.13L507.65 126.8L507.62 128.47L507.59 130.14L507.54 131.81L507.49 133.47L507.44 135.13L507.37 136.79L507.3 138.45L507.21 140.1L507.12 141.74L507.03 143.38L506.92 145.01L506.81 146.63L506.69 148.25L506.56 149.87L506.42 151.47L506.26 153.07L506.1 154.67L505.93 156.26L505.74 157.84L505.54 159.42L505.33 160.99L505.1 162.55L504.86 164.12L504.6 165.67L504.32 167.22L504.03 168.77L503.72 170.31L503.4 171.85L503.05 173.38L502.69 174.91L502.3 176.44L501.9 177.96L501.47 179.48L501.02 180.99L500.55 182.5L500.06 184.01L499.54 185.51L499 187.01L498.44 188.51L497.85 190L497.23 191.49L496.59 192.98L495.91 194.46L495.21 195.95L494.49 197.43L493.73 198.91L492.94 200.38L492.12 201.86L491.28 203.33L490.4 204.8" fill="none" stroke="#ee6433" stroke-width="1.1" stroke-dasharray="3.2 1.2 0.8 1.2"/>
<path d="M490.36 204.77L490.84 203.35L491.29 201.94L491.73 200.54L492.15 199.15L492.56 197.76L492.95 196.37L493.33 195L493.69 193.62L494.04 192.26L494.37 190.9L494.7 189.54L495.01 188.19L495.31 186.84L495.6 185.5L495.88 184.15L496.16 182.82L496.42 181.48L496.68 180.15L496.93 178.81L497.18 177.48L497.41 176.16L497.65 174.83L497.88 173.5L498.1 172.17L498.32 170.85L498.54 169.52L498.76 168.19L498.98 166.86L499.2 165.53L499.41 164.2L499.63 162.86L499.85 161.53L500.07 160.19L500.29 158.84L500.52 157.5L500.75 156.15L500.98 154.79L501.22 153.43L501.47 152.07L501.72 150.7L501.98 149.33L502.25 147.95L502.53 146.56L502.81 145.17L503.11 143.77L503.42 142.37L503.73 140.95L504.06 139.53L504.4 138.1L504.76 136.66L505.12 135.22L505.5 133.76L505.9 132.3L506.31 130.82L506.74 129.34L507.19 127.85L507.66 126.38L508.16 124.93L508.7 123.51L509.27 122.13L509.88 120.8L510.53 119.54L511.23 118.35L511.99 117.24L512.8 116.23L513.67 115.33L514.61 114.54L515.62 113.88L516.69 113.36L517.84 112.97L519.03 112.71L520.26 112.58L521.52 112.56L522.8 112.65L524.08 112.84L525.35 113.14L526.61 113.53L527.83 114.01L529.01 114.57L530.13 115.21L531.18 115.91L532.16 116.69L533.07 117.52L533.9 118.41L534.66 119.37L535.34 120.37L535.96 121.43L536.51 122.53L536.99 123.68L537.41 124.88L537.77 126.11L538.06 127.38L538.3 128.69L538.48 130.02L538.6 131.39L538.67 132.78L538.68 134.2L538.65 135.64L538.56 137.09L538.43 138.56L538.25 140.04L538.02 141.54L537.76 143.04L537.45 144.54L537.1 146.04L536.71 147.55L536.29 149.05L535.83 150.54L535.34 152.02L534.82 153.49L534.27 154.94L533.69 156.38L533.08 157.8L532.45 159.19L531.79 160.55L531.12 161.89L530.42 163.19L529.71 164.46L528.97 165.7L528.22 166.9L527.46 168.08L526.68 169.22L525.88 170.34L525.06 171.42L524.24 172.49L523.39 173.53L522.54 174.55L521.67 175.55L520.78 176.53L519.89 177.49L518.98 178.44L518.06 179.38L517.13 180.3L516.18 181.21L515.23 182.11L514.27 183L513.3 183.89L512.32 184.77L511.33 185.65L510.33 186.53L509.33 187.4L508.31 188.28L507.3 189.16L506.27 190.04L505.24 190.93L504.2 191.83L503.16 192.74L502.12 193.65L501.07 194.58L500.02 195.52L498.96 196.48L497.9 197.45L496.84 198.44L495.78 199.45L494.72 200.48L493.65 201.54L492.59 202.62L491.53 203.72L490.46 204.85" fill="none" stroke="#ee6433" stroke-width="1.1" stroke-dasharray="3.2 1.2 0.8 1.2"/>
<path d="M489.42 30.14L490.06 30.65L490.69 31.17L491.31 31.69L491.93 32.22L492.55 32.74L493.16 33.28L493.76 33.81L494.36 34.35L494.95 34.89L495.54 35.44L496.12 35.99L496.69 36.54L497.26 37.09L497.83 37.65L498.39 38.21L498.94 38.78L499.49 39.35L500.03 39.92L500.57 40.49L501.1 41.07L501.63 41.65L502.15 42.23L502.67 42.82L503.18 43.4L503.68 44L504.18 44.59L504.68 45.19L505.17 45.79L505.65 46.39L506.13 47L506.6 47.61L507.07 48.22L507.53 48.83L507.99 49.45L508.44 50.07L508.89 50.69L509.33 51.31L509.77 51.94L510.2 52.57L510.63 53.2L511.05 53.84L511.46 54.47L511.87 55.11L512.28 55.75L512.68 56.4L513.07 57.04L513.46 57.69L513.84 58.34L514.22 59L514.59 59.65L514.96 60.31L515.33 60.97L515.68 61.63L516.04 62.3L516.38 62.96L516.73 63.63L517.06 64.3L517.4 64.97L517.72 65.65L518.05 66.32L518.36 67L518.67 67.68L518.98 68.37L519.28 69.05L519.58 69.74L519.87 70.42L520.16 71.11L520.44 71.8L520.71 72.5L520.99 73.19L521.25 73.89L521.51 74.59L521.77 75.29L522.02 75.99L522.27 76.69L522.51 77.39L522.74 78.1L522.98 78.81L523.2 79.52L523.42 80.23L523.64 80.94L523.85 81.65L524.06 82.37L524.26 83.08L524.45 83.8L524.65 84.52L524.83 85.24L525.01 85.96L525.19 86.68L525.36 87.4L525.53 88.13L525.69 88.85L525.85 89.58L526 90.3L526.15 91.03L526.29 91.76L526.43 92.49L526.56 93.22L526.69 93.96L526.81 94.69L526.93 95.42L527.05 96.16L527.15 96.9L527.26 97.63L527.36 98.37L527.45 99.11L527.54 99.85L527.63 100.59L527.71 101.33L527.78 102.07L527.85 102.81L527.92 103.55L527.98 104.29L528.04 105.04L528.09 105.78L528.13 106.52L528.18 107.27L528.21 108.01L528.25 108.76L528.28 109.5L528.3 110.25L528.32 111L528.33 111.74L528.34 112.49L528.35 113.24L528.35 113.98L528.34 114.73L528.33 115.48L528.32 116.23L528.3 116.98L528.28 117.72L528.25 118.47L528.22 119.22L528.18 119.97L528.14 120.72L528.1 121.46L528.04 122.21L527.99 122.96L527.93 123.71L527.87 124.45L527.8 125.2L527.73 125.95L527.65 126.7L527.57 127.44L527.48 128.19L527.39 128.93L527.29 129.68L527.19 130.42L527.09 131.17L526.98 131.91L526.87 132.66L526.75 133.4L526.63 134.14L526.5 134.89L526.37 135.63L526.23 136.37L526.09 137.11L525.95 137.85L525.8 138.59L525.65 139.33L525.49 140.06L525.33 140.8L525.16 141.54L524.99 142.27L524.81 143.01L524.63 143.74L524.45 144.47L524.26 145.21L524.07 145.94L523.87 146.67L523.67 147.4L523.47 148.12L523.26 148.85L523.04 149.58L522.82 150.3L522.6 151.02L522.38 151.75L522.14 152.47L521.91 153.19L521.67 153.91L521.43 154.63L521.18 155.34L520.92 156.06L520.67 156.77L520.41 157.48L520.14 158.19L519.87 158.9L519.6 159.61L519.32 160.32L519.04 161.02L518.76 161.73L518.47 162.43L518.17 163.13L517.87 163.83L517.57 164.52L517.26 165.22L516.95 165.91L516.64 166.6L516.32 167.3L516 167.98L515.67 168.67L515.34 169.36L515 170.04L514.66 170.72L514.32 171.4L513.97 172.08L513.62 172.75L513.26 173.42L512.9 174.1L512.54 174.77L512.17 175.43L511.8 176.1L511.43 176.76L511.05 177.42L510.66 178.08L510.27 178.74L509.88 179.39L509.49 180.04L509.09 180.69L508.68 181.34L508.27 181.99L507.86 182.63L507.45 183.27L507.03 183.91L506.6 184.54L506.18 185.18L505.75 185.81L505.31 186.44L504.87 187.06L504.43 187.68L503.98 188.3L503.53 188.92L503.08 189.54L502.62 190.15L502.16 190.76L501.69 191.37L501.22 191.97L500.75 192.57L500.27 193.17L499.79 193.77L499.3 194.36L498.81 194.95L498.32 195.54L497.82 196.12L497.32 196.7L496.82 197.28L496.31 197.86L495.8 198.43L495.28 199L494.77 199.56L494.24 200.13L493.72 200.69L493.19 201.24L492.65 201.8L492.11 202.35L491.57 202.89L491.03 203.44L490.48 203.98L489.93 204.51" fill="none" stroke="#2f84e8" stroke-width="1.1" stroke-dasharray="3.2 1.2 0.8 1.2"/>
<path d="M490.43 204.72L490.52 203.08L490.62 201.45L490.72 199.82L490.82 198.19L490.92 196.57L491.02 194.96L491.12 193.35L491.22 191.74L491.32 190.13L491.42 188.53L491.52 186.94L491.62 185.35L491.72 183.76L491.83 182.17L491.93 180.58L492.03 179L492.14 177.42L492.24 175.84L492.35 174.27L492.45 172.69L492.56 171.12L492.66 169.55L492.77 167.98L492.88 166.41L492.99 164.84L493.1 163.27L493.21 161.7L493.32 160.13L493.43 158.56L493.54 156.99L493.65 155.42L493.76 153.84L493.88 152.27L493.99 150.7L494.11 149.12L494.22 147.54L494.34 145.96L494.46 144.38L494.58 142.79L494.7 141.21L494.82 139.61L494.94 138.02L495.06 136.42L495.19 134.82L495.31 133.22L495.44 131.61L495.56 130L495.69 128.38L495.82 126.76L495.95 125.13L496.08 123.5L496.21 121.87L496.34 120.22L496.48 118.58L496.62 116.93L496.76 115.28L496.92 113.63L497.08 111.98L497.25 110.33L497.44 108.68L497.63 107.04L497.85 105.4L498.08 103.77L498.33 102.14L498.6 100.53L498.89 98.93L499.21 97.33L499.55 95.75L499.92 94.19L500.31 92.63L500.74 91.1L501.19 89.58L501.69 88.08L502.21 86.6L502.77 85.14L503.37 83.7L504.01 82.29L504.69 80.9L505.41 79.53L506.18 78.19L506.99 76.89L507.86 75.61L508.77 74.36L509.73 73.14L510.74 71.95L511.81 70.8L512.92 69.69L514.08 68.61L515.28 67.56L516.53 66.56L517.81 65.6L519.13 64.68L520.49 63.8L521.87 62.97L523.29 62.18L524.73 61.44L526.19 60.74L527.68 60.1L529.18 59.5L530.71 58.95L532.24 58.46L533.79 58.03L535.34 57.64L536.91 57.32L538.47 57.05L540.04 56.84L541.61 56.69L543.17 56.6L544.73 56.57L546.28 56.61L547.81 56.71L549.34 56.88L550.85 57.11L552.35 57.4L553.83 57.75L555.3 58.17L556.75 58.64L558.2 59.16L559.62 59.74L561.03 60.37L562.43 61.05L563.81 61.78L565.18 62.56L566.53 63.38L567.87 64.25L569.19 65.15L570.5 66.1L571.79 67.08L573.06 68.1L574.32 69.15L575.56 70.24L576.79 71.35L577.99 72.5L579.19 73.67L580.36 74.87L581.52 76.09L582.66 77.34L583.77 78.61L584.87 79.9L585.95 81.21L587 82.54L588.03 83.88L589.03 85.25L590.01 86.63L590.96 88.03L591.87 89.45L592.76 90.88L593.62 92.32L594.44 93.78L595.22 95.25L595.97 96.73L596.69 98.22L597.36 99.73L598 101.24L598.59 102.76L599.14 104.28L599.65 105.82L600.12 107.36L600.53 108.9L600.9 110.45L601.22 112L601.5 113.55L601.72 115.11L601.88 116.67L602 118.23L602.06 119.78L602.06 121.34L602.02 122.89L601.92 124.44L601.76 125.98L601.56 127.51L601.3 129.04L601 130.55L600.64 132.05L600.24 133.54L599.79 135.02L599.29 136.48L598.75 137.92L598.16 139.34L597.52 140.74L596.84 142.13L596.12 143.49L595.36 144.82L594.55 146.13L593.7 147.42L592.81 148.67L591.88 149.9L590.91 151.1L589.91 152.28L588.87 153.44L587.79 154.56L586.68 155.67L585.55 156.75L584.38 157.81L583.18 158.85L581.95 159.86L580.7 160.86L579.42 161.84L578.12 162.79L576.79 163.73L575.44 164.65L574.07 165.55L572.69 166.43L571.28 167.3L569.86 168.15L568.42 168.99L566.97 169.81L565.51 170.62L564.03 171.42L562.55 172.2L561.05 172.97L559.55 173.73L558.04 174.48L556.53 175.22L555.01 175.94L553.49 176.66L551.97 177.37L550.45 178.07L548.92 178.77L547.4 179.46L545.89 180.14L544.38 180.82L542.87 181.49L541.38 182.16L539.89 182.82L538.41 183.48L536.94 184.14L535.48 184.8L534.03 185.45L532.58 186.1L531.15 186.75L529.71 187.4L528.29 188.04L526.86 188.69L525.45 189.33L524.03 189.97L522.62 190.61L521.21 191.25L519.8 191.89L518.38 192.52L516.97 193.16L515.56 193.8L514.14 194.44L512.73 195.07L511.3 195.71L509.88 196.35L508.45 196.98L507.01 197.62L505.56 198.26L504.11 198.9L502.65 199.55L501.18 200.19L499.7 200.83L498.22 201.48L496.72 202.13L495.2 202.78L493.68 203.43L492.14 204.09L490.59 204.74" fill="none" stroke="#2f84e8" stroke-width="1.1" stroke-dasharray="3.2 1.2 0.8 1.2"/>
<path d="M490.49 204.69L491.04 202.58L491.55 200.46L492.02 198.33L492.45 196.2L492.83 194.07L493.18 191.93L493.48 189.79L493.75 187.65L493.99 185.5L494.19 183.35L494.36 181.19L494.49 179.04L494.6 176.87L494.68 174.71L494.73 172.54L494.75 170.37L494.75 168.2L494.72 166.02L494.67 163.84L494.61 161.66L494.52 159.48L494.41 157.29L494.29 155.11L494.15 152.92L494 150.73L493.83 148.53L493.65 146.34L493.46 144.14L493.27 141.94L493.06 139.74L492.85 137.54L492.63 135.34L492.41 133.14L492.18 130.93L491.96 128.73L491.73 126.52L491.51 124.32L491.29 122.11L491.07 119.9L490.86 117.7L490.66 115.49L490.46 113.28L490.27 111.07L490.1 108.87L489.93 106.66L489.78 104.45L489.64 102.25L489.52 100.04L489.42 97.84L489.33 95.63L489.27 93.43L489.22 91.23L489.2 89.02L489.2 86.82L489.23 84.63L489.28 82.43L489.36 80.23L489.47 78.04L489.61 75.85L489.78 73.66L489.99 71.47L490.22 69.28L490.5 67.1L490.81 64.92L491.16 62.74L491.55 60.56L491.98 58.39L492.45 56.21L492.97 54.05L493.53 51.89L494.15 49.77L494.86 47.73L495.66 45.8L496.57 44.04L497.62 42.47L498.82 41.14L500.18 40.08L501.73 39.34L503.47 38.94L505.38 38.84L507.42 38.99L509.54 39.32L511.7 39.77L513.85 40.3L516.01 40.88L518.15 41.51L520.28 42.17L522.41 42.88L524.54 43.62L526.66 44.39L528.77 45.19L530.88 46L532.98 46.83L535.09 47.67L537.19 48.52L539.28 49.37L541.38 50.21L543.48 51.05L545.57 51.87L547.67 52.68L549.77 53.47L551.87 54.23L553.97 54.96L556.08 55.66L558.19 56.31L560.3 56.92L562.42 57.49L564.54 58L566.66 58.49L568.79 58.95L570.91 59.38L573.04 59.81L575.17 60.23L577.29 60.66L579.41 61.1L581.52 61.57L583.63 62.05L585.73 62.56L587.83 63.1L589.93 63.66L592.01 64.24L594.09 64.85L596.17 65.48L598.24 66.13L600.3 66.81L602.36 67.51L604.41 68.23L606.45 68.98L608.48 69.75L610.51 70.55L612.53 71.37L614.54 72.21L616.55 73.08L618.55 73.97L620.53 74.88L622.52 75.81L624.49 76.77L626.45 77.75L628.41 78.76L630.35 79.79L632.29 80.84L634.21 81.91L636.13 83.01L638.04 84.13L639.94 85.27L641.83 86.44L643.71 87.63L645.57 88.84L647.42 90.08L649.25 91.35L651.04 92.66L652.78 94.03L654.46 95.45L656.07 96.93L657.6 98.48L659.04 100.11L660.38 101.83L661.61 103.64L662.71 105.55L663.68 107.57L664.5 109.69L665.18 111.88L665.7 114.11L666.06 116.33L666.25 118.52L666.28 120.66L666.14 122.73L665.85 124.75L665.41 126.71L664.83 128.62L664.11 130.48L663.26 132.28L662.3 134.03L661.21 135.74L660.03 137.39L658.73 139.01L657.35 140.57L655.88 142.1L654.32 143.58L652.7 145.02L651 146.43L649.25 147.8L647.44 149.13L645.58 150.43L643.69 151.7L641.76 152.93L639.81 154.14L637.83 155.31L635.85 156.46L633.85 157.59L631.86 158.69L629.86 159.77L627.85 160.82L625.85 161.85L623.84 162.86L621.83 163.85L619.81 164.81L617.79 165.76L615.77 166.68L613.75 167.59L611.72 168.47L609.69 169.34L607.66 170.19L605.62 171.02L603.58 171.84L601.54 172.63L599.5 173.42L597.45 174.18L595.4 174.93L593.35 175.67L591.3 176.39L589.24 177.1L587.18 177.8L585.12 178.48L583.06 179.15L580.99 179.81L578.92 180.46L576.85 181.1L574.78 181.73L572.7 182.35L570.63 182.96L568.55 183.56L566.46 184.16L564.38 184.75L562.29 185.33L560.2 185.9L558.11 186.47L556.02 187.03L553.93 187.59L551.83 188.15L549.73 188.7L547.63 189.25L545.53 189.79L543.43 190.34L541.32 190.88L539.22 191.42L537.11 191.96L535 192.5L532.89 193.04L530.77 193.58L528.66 194.12L526.54 194.67L524.42 195.21L522.3 195.77L520.18 196.32L518.06 196.88L515.94 197.44L513.81 198.01L511.69 198.58L509.56 199.16L507.43 199.75L505.3 200.34L503.17 200.94L501.04 201.55L498.91 202.17L496.78 202.8L494.64 203.44L492.51 204.08L490.37 204.74" fill="none" stroke="#2f84e8" stroke-width="1.1" stroke-dasharray="3.2 1.2 0.8 1.2"/>
<path d="M490.5 29.9L492.04 30.63L493.64 31.36L495.29 32.08L497 32.81L498.75 33.54L500.54 34.27L502.39 35L504.27 35.73L506.19 36.45L508.15 37.18L510.15 37.91L512.18 38.64L514.24 39.37L516.33 40.1L518.45 40.82L520.6 41.55L522.77 42.28L524.96 43.01L527.17 43.74L529.4 44.47L531.65 45.19L533.91 45.92L536.19 46.65L538.47 47.38L540.77 48.11L543.08 48.84L545.39 49.56L547.71 50.29L550.03 51.02L552.35 51.75L554.67 52.48L557 53.21L559.32 53.93L561.64 54.66L563.95 55.39L566.25 56.12L568.55 56.85L570.84 57.58L573.12 58.3L575.39 59.03L577.65 59.76L579.89 60.49L582.12 61.22L584.33 61.95L586.52 62.67L588.7 63.4L590.86 64.13L593 64.86L595.11 65.59L597.21 66.32L599.28 67.04L601.33 67.77L603.35 68.5L605.35 69.23L607.33 69.96L609.27 70.69L611.19 71.41L613.08 72.14L614.95 72.87L616.78 73.6L618.58 74.33L620.35 75.06L622.09 75.78L623.8 76.51L625.48 77.24L627.12 77.97L628.73 78.7L630.31 79.43L631.85 80.15L633.36 80.88L634.84 81.61L636.28 82.34L637.68 83.07L639.05 83.8L640.39 84.52L641.69 85.25L642.95 85.98L644.18 86.71L645.37 87.44L646.52 88.17L647.64 88.89L648.72 89.62L649.77 90.35L650.78 91.08L651.76 91.81L652.7 92.54L653.6 93.26L654.47 93.99L655.3 94.72L656.1 95.45L656.87 96.18L657.6 96.91L658.29 97.63L658.95 98.36L659.58 99.09L660.18 99.82L660.74 100.55L661.27 101.28L661.77 102L662.24 102.73L662.68 103.46L663.09 104.19L663.47 104.92L663.82 105.65L664.14 106.37L664.44 107.1L664.71 107.83L664.95 108.56L665.17 109.29L665.37 110.02L665.54 110.74L665.69 111.47L665.82 112.2L665.92 112.93L666.01 113.66L666.08 114.39L666.14 115.11L666.17 115.84L666.19 116.57L666.2 117.3" fill="none" stroke="#1432f0" stroke-width="1.6"/>
<path d="M490.5 48.25L490.52 48.97L490.55 49.68L490.58 50.39L490.61 51.1L490.64 51.82L490.67 52.53L490.7 53.24L490.73 53.95L490.77 54.67L490.8 55.38L490.83 56.09L490.87 56.8L490.92 57.52L490.97 58.23L491.03 58.94L491.11 59.65L491.21 60.37L491.34 61.08L491.49 61.79L491.67 62.5L491.87 63.21L492.1 63.93L492.35 64.64L492.67 65.35L493.16 66.06L493.75 66.78L494.34 67.49L494.97 68.2L495.65 68.91L496.35 69.63L497.07 70.34L497.77 71.05L498.48 71.76L499.19 72.48L499.91 73.19L500.63 73.9L501.36 74.61L502.07 75.33L502.79 76.04L503.49 76.75L504.2 77.46L504.92 78.18L505.64 78.89L506.38 79.6L507.14 80.31L507.91 81.03L508.69 81.74L509.47 82.45L510.24 83.16L511 83.88L511.74 84.59L512.46 85.3L513.18 86.01L513.89 86.72L514.59 87.44L515.28 88.15L515.97 88.86L516.65 89.57L517.33 90.29L518 91L518.67 91.71L519.36 92.42L520.04 93.14L520.72 93.85L521.39 94.56L522.05 95.27L522.69 95.99L523.31 96.7L523.89 97.41L524.45 98.12L524.98 98.84L525.48 99.55L525.97 100.26L526.44 100.97L526.89 101.69L527.34 102.4L527.78 103.11L528.21 103.82L528.65 104.54L529.08 105.25L529.52 105.96L529.97 106.67L530.42 107.38L530.87 108.1L531.33 108.81L531.78 109.52L532.22 110.23L532.65 110.95L533.06 111.66L533.45 112.37L533.81 113.08L534.15 113.8L534.47 114.51L534.77 115.22L535.06 115.93L535.34 116.65L535.6 117.36L535.86 118.07L536.1 118.78L536.34 119.5L536.57 120.21L536.8 120.92L537.03 121.63L537.26 122.35L537.48 123.06L537.69 123.77L537.89 124.48L538.05 125.2L538.19 125.91L538.3 126.62L538.39 127.33L538.47 128.05L538.55 128.76L538.62 129.47L538.69 130.18L538.74 130.89L538.78 131.61L538.81 132.32L538.82 133.03" fill="none" stroke="#ee2a1a" stroke-width="1.5"/>
<path d="M491.5 61.5Q493 68.5 499 72.2L522.3 87.4" fill="none" stroke="#111" stroke-width="1.05" stroke-dasharray="3.2 2.4"/>
<text x="490.5" y="217.2" class="tk" text-anchor="middle">0</text>
<text x="486.5" y="209.1" class="tk" text-anchor="end">0</text>
<text x="525.64" y="217.2" class="tk" text-anchor="middle">0.2</text>
<text x="486.5" y="174.14" class="tk" text-anchor="end">0.2</text>
<text x="560.78" y="217.2" class="tk" text-anchor="middle">0.4</text>
<text x="486.5" y="139.18" class="tk" text-anchor="end">0.4</text>
<text x="595.92" y="217.2" class="tk" text-anchor="middle">0.6</text>
<text x="486.5" y="104.22" class="tk" text-anchor="end">0.6</text>
<text x="631.06" y="217.2" class="tk" text-anchor="middle">0.8</text>
<text x="486.5" y="69.26" class="tk" text-anchor="end">0.8</text>
<text x="666.2" y="217.2" class="tk" text-anchor="middle">1</text>
<text x="486.5" y="34.3" class="tk" text-anchor="end">1</text>
<text x="571" y="231.9" class="tk" font-size="10.6"><tspan font-style="italic">P</tspan>/(<tspan font-style="italic">Q</tspan><tspan font-size="6.5" dy="1.5">0</tspan><tspan dy="-1.5" font-style="italic">δT</tspan><tspan font-size="6.5" dy="-4">2</tspan><tspan dy="4">/4)</tspan></text>
<text transform="translate(464.3,111.7) rotate(-90)" class="tk" font-size="10.5" text-anchor="middle"><tspan font-style="italic">η</tspan>/<tspan font-style="italic">η</tspan><tspan font-size="7" dy="1.5">C</tspan></text>
<line x1="594" y1="25.3" x2="610.7" y2="25.3" stroke="#1432f0" stroke-width="1.6"/>
<line x1="594" y1="38.4" x2="610.7" y2="38.4" stroke="#ee2a1a" stroke-width="1.6"/>
<text x="613.5" y="29" class="lg">Interacting</text>
<text x="613.5" y="42" class="lg">Noninteracting</text>
<path d="M521.5 72.3L529.09 70.99L527.91 68.01Z" fill="#111"/>
<text x="530.1" y="71.4" class="an">a</text>
<path d="M603.8 117.7L611 119.3L611 116.1Z" fill="#111"/>
<text x="614.3" y="122.4" class="an">b</text>
<path d="M663.4 135.6L668.69 140.58L670.31 137.82Z" fill="#111"/>
<text x="669.5" y="147.5" class="an">c</text>
<path d="M531 163.5L531.91 170.09L534.89 168.91Z" fill="#111"/>
<text x="531" y="179.6" class="an">d</text>
<path d="M490.3 438.3L490.3 243.6L528.6 243.6L528.6 342.8L530.3 342.8L535.5 344.4L541.3 346L547.8 347.5L554.5 349.3L564.7 349.3L570.2 351L573.1 352.2L576.4 352.8L579.3 353.9L582.2 354.5L585.4 355.5L588.6 356.3L594.7 358L597.7 359.2L601.7 359.8L604.5 360.6L607 361.1L610.5 361.9L613.8 362.5L617.8 363.5L620.5 364.3L623.2 365.2L626.5 366.1L629.9 367L632.6 368.1L635.3 369.2L638 370.2L640.6 371.1L643.3 372L645.4 372.5L648 373.6L649.7 374L651.4 375.1L653.5 375.6L655.5 376.8L657.4 377.5L659.3 378.5L661 379.5L662.9 381L664.8 382.8L666.5 384.5L666.8 387.3L666.8 387.3L666.8 438.3Z" fill="#eafdff"/>
<path d="M490.3 438.3L490.3 385.5L491.3 385.7L492.4 387.2L493.9 389.6L499.5 393.5L504 395.8L507.5 397.3L511.7 398.7L514 400L521.7 402.9L527.1 405.1L530.3 406.5L535.7 410.5L537.1 413.2L537.9 415.3L538.3 415.3L538.3 438.3Z" fill="#fdebdf"/>
<rect x="490.3" y="243.6" width="193" height="194.7" fill="none" stroke="#3a3a3a" stroke-width="0.9"/>
<path d="M490.3 438.3V436.1M490.3 243.6V245.8M525.54 438.3V436.1M525.54 243.6V245.8M560.78 438.3V436.1M560.78 243.6V245.8M596.02 438.3V436.1M596.02 243.6V245.8M631.26 438.3V436.1M631.26 243.6V245.8M666.5 438.3V436.1M666.5 243.6V245.8M490.3 438.3H492.7M683.3 438.3H680.9M490.3 431H491.6M683.3 431H682M490.3 426.73H491.6M683.3 426.73H682M490.3 423.69H491.6M683.3 423.69H682M490.3 421.34H491.6M683.3 421.34H682M490.3 419.42H491.6M683.3 419.42H682M490.3 417.8H491.6M683.3 417.8H682M490.3 416.39H491.6M683.3 416.39H682M490.3 415.15H491.6M683.3 415.15H682M490.3 414.04H491.6M683.3 414.04H682M490.3 406.74H491.6M683.3 406.74H682M490.3 402.47H491.6M683.3 402.47H682M490.3 399.43H491.6M683.3 399.43H682M490.3 397.08H491.6M683.3 397.08H682M490.3 395.16H491.6M683.3 395.16H682M490.3 393.54H491.6M683.3 393.54H682M490.3 392.13H491.6M683.3 392.13H682M490.3 390.89H491.6M683.3 390.89H682M490.3 389.78H492.7M683.3 389.78H680.9M490.3 382.48H491.6M683.3 382.48H682M490.3 378.21H491.6M683.3 378.21H682M490.3 375.17H491.6M683.3 375.17H682M490.3 372.82H491.6M683.3 372.82H682M490.3 370.9H491.6M683.3 370.9H682M490.3 369.28H491.6M683.3 369.28H682M490.3 367.87H491.6M683.3 367.87H682M490.3 366.63H491.6M683.3 366.63H682M490.3 365.52H491.6M683.3 365.52H682M490.3 358.22H491.6M683.3 358.22H682M490.3 353.95H491.6M683.3 353.95H682M490.3 350.91H491.6M683.3 350.91H682M490.3 348.56H491.6M683.3 348.56H682M490.3 346.64H491.6M683.3 346.64H682M490.3 345.02H491.6M683.3 345.02H682M490.3 343.61H491.6M683.3 343.61H682M490.3 342.37H491.6M683.3 342.37H682M490.3 341.26H492.7M683.3 341.26H680.9M490.3 333.96H491.6M683.3 333.96H682M490.3 329.69H491.6M683.3 329.69H682M490.3 326.65H491.6M683.3 326.65H682M490.3 324.3H491.6M683.3 324.3H682M490.3 322.38H491.6M683.3 322.38H682M490.3 320.76H491.6M683.3 320.76H682M490.3 319.35H491.6M683.3 319.35H682M490.3 318.11H491.6M683.3 318.11H682M490.3 317H491.6M683.3 317H682M490.3 309.7H491.6M683.3 309.7H682M490.3 305.43H491.6M683.3 305.43H682M490.3 302.39H491.6M683.3 302.39H682M490.3 300.04H491.6M683.3 300.04H682M490.3 298.12H491.6M683.3 298.12H682M490.3 296.5H491.6M683.3 296.5H682M490.3 295.09H491.6M683.3 295.09H682M490.3 293.85H491.6M683.3 293.85H682M490.3 292.74H492.7M683.3 292.74H680.9M490.3 285.44H491.6M683.3 285.44H682M490.3 281.17H491.6M683.3 281.17H682M490.3 278.13H491.6M683.3 278.13H682M490.3 275.78H491.6M683.3 275.78H682M490.3 273.86H491.6M683.3 273.86H682M490.3 272.24H491.6M683.3 272.24H682M490.3 270.83H491.6M683.3 270.83H682M490.3 269.59H491.6M683.3 269.59H682M490.3 268.48H491.6M683.3 268.48H682M490.3 261.18H491.6M683.3 261.18H682M490.3 256.91H491.6M683.3 256.91H682M490.3 253.87H491.6M683.3 253.87H682M490.3 251.52H491.6M683.3 251.52H682M490.3 249.6H491.6M683.3 249.6H682M490.3 247.98H491.6M683.3 247.98H682M490.3 246.57H491.6M683.3 246.57H682M490.3 245.33H491.6M683.3 245.33H682" stroke="#3a3a3a" stroke-width="0.7"/>
<text x="490.3" y="451.4" class="tk" text-anchor="middle">0</text>
<text x="525.54" y="451.4" class="tk" text-anchor="middle">0.2</text>
<text x="560.78" y="451.4" class="tk" text-anchor="middle">0.4</text>
<text x="596.02" y="451.4" class="tk" text-anchor="middle">0.6</text>
<text x="631.26" y="451.4" class="tk" text-anchor="middle">0.8</text>
<text x="666.5" y="451.4" class="tk" text-anchor="middle">1</text>
<text x="469.2" y="441.9" class="tk">10<tspan font-size="7.5" dy="-5.2">0</tspan></text>
<text x="469.2" y="390.7" class="tk">10<tspan font-size="7.5" dy="-5.2">2</tspan></text>
<text x="469.2" y="342.4" class="tk">10<tspan font-size="7.5" dy="-5.2">4</tspan></text>
<text x="469.2" y="298.7" class="tk">10<tspan font-size="7.5" dy="-5.2">6</tspan></text>
<text x="469.2" y="249.8" class="tk">10<tspan font-size="7.5" dy="-5.2">8</tspan></text>
<text x="574.3" y="463.5" class="tk"><tspan font-style="italic">Q</tspan>/<tspan font-style="italic">Q</tspan><tspan font-size="7" dy="1.5">0</tspan></text>
<text transform="translate(461.8,336.8) rotate(-90)" class="tk" font-size="10.5" text-anchor="middle"><tspan font-style="italic">ZT</tspan></text>
<circle cx="489.6" cy="331" r="2.4" fill="#f2a23e" stroke="#c2580e" stroke-width="0.8"/>
<circle cx="489.6" cy="334.4" r="2.4" fill="#f2a23e" stroke="#c2580e" stroke-width="0.8"/>
<circle cx="489.6" cy="337.7" r="2.4" fill="#f2a23e" stroke="#c2580e" stroke-width="0.8"/>
<circle cx="489.6" cy="340.8" r="2.4" fill="#f2a23e" stroke="#c2580e" stroke-width="0.8"/>
<circle cx="489.6" cy="344" r="2.4" fill="#f2a23e" stroke="#c2580e" stroke-width="0.8"/>
<circle cx="489.6" cy="358.8" r="2.4" fill="#f2a23e" stroke="#c2580e" stroke-width="0.8"/>
<circle cx="489.6" cy="361.5" r="2.4" fill="#f2a23e" stroke="#c2580e" stroke-width="0.8"/>
<circle cx="489.9" cy="369.6" r="2.4" fill="#f2a23e" stroke="#c2580e" stroke-width="0.8"/>
<circle cx="490" cy="373.6" r="2.4" fill="#f2a23e" stroke="#c2580e" stroke-width="0.8"/>
<circle cx="490" cy="377.7" r="2.4" fill="#f2a23e" stroke="#c2580e" stroke-width="0.8"/>
<circle cx="490.1" cy="382" r="2.4" fill="#f2a23e" stroke="#c2580e" stroke-width="0.8"/>
<circle cx="491.3" cy="385.7" r="2.4" fill="#f2a23e" stroke="#c2580e" stroke-width="0.8"/>
<circle cx="492.4" cy="387.2" r="2.4" fill="#f2a23e" stroke="#c2580e" stroke-width="0.8"/>
<circle cx="493.9" cy="389.6" r="2.4" fill="#f2a23e" stroke="#c2580e" stroke-width="0.8"/>
<circle cx="499.5" cy="393.5" r="2.4" fill="#f2a23e" stroke="#c2580e" stroke-width="0.8"/>
<circle cx="504" cy="395.8" r="2.4" fill="#f2a23e" stroke="#c2580e" stroke-width="0.8"/>
<circle cx="507.5" cy="397.3" r="2.4" fill="#f2a23e" stroke="#c2580e" stroke-width="0.8"/>
<circle cx="511.7" cy="398.7" r="2.4" fill="#f2a23e" stroke="#c2580e" stroke-width="0.8"/>
<circle cx="514" cy="400" r="2.4" fill="#f2a23e" stroke="#c2580e" stroke-width="0.8"/>
<circle cx="521.7" cy="402.9" r="2.4" fill="#f2a23e" stroke="#c2580e" stroke-width="0.8"/>
<circle cx="527.1" cy="405.1" r="2.4" fill="#f2a23e" stroke="#c2580e" stroke-width="0.8"/>
<circle cx="530.3" cy="406.5" r="2.4" fill="#f2a23e" stroke="#c2580e" stroke-width="0.8"/>
<circle cx="535.7" cy="410.5" r="2.4" fill="#f2a23e" stroke="#c2580e" stroke-width="0.8"/>
<circle cx="537.1" cy="413.2" r="2.4" fill="#f2a23e" stroke="#c2580e" stroke-width="0.8"/>
<circle cx="537.9" cy="415.3" r="2.4" fill="#f2a23e" stroke="#c2580e" stroke-width="0.8"/>
<circle cx="528.6" cy="249.2" r="2.4" fill="#4aa2f8" stroke="#1a30d8" stroke-width="0.8"/>
<circle cx="528.6" cy="256.2" r="2.4" fill="#4aa2f8" stroke="#1a30d8" stroke-width="0.8"/>
<circle cx="528.6" cy="260.3" r="2.4" fill="#4aa2f8" stroke="#1a30d8" stroke-width="0.8"/>
<circle cx="528.6" cy="273.7" r="2.4" fill="#4aa2f8" stroke="#1a30d8" stroke-width="0.8"/>
<circle cx="528.6" cy="283.3" r="2.4" fill="#4aa2f8" stroke="#1a30d8" stroke-width="0.8"/>
<circle cx="530.3" cy="342.8" r="2.4" fill="#4aa2f8" stroke="#1a30d8" stroke-width="0.8"/>
<circle cx="535.5" cy="344.4" r="2.4" fill="#4aa2f8" stroke="#1a30d8" stroke-width="0.8"/>
<circle cx="541.3" cy="346" r="2.4" fill="#4aa2f8" stroke="#1a30d8" stroke-width="0.8"/>
<circle cx="547.8" cy="347.5" r="2.4" fill="#4aa2f8" stroke="#1a30d8" stroke-width="0.8"/>
<circle cx="554.5" cy="349.3" r="2.4" fill="#4aa2f8" stroke="#1a30d8" stroke-width="0.8"/>
<circle cx="564.7" cy="349.3" r="2.4" fill="#4aa2f8" stroke="#1a30d8" stroke-width="0.8"/>
<circle cx="570.2" cy="351" r="2.4" fill="#4aa2f8" stroke="#1a30d8" stroke-width="0.8"/>
<circle cx="573.1" cy="352.2" r="2.4" fill="#4aa2f8" stroke="#1a30d8" stroke-width="0.8"/>
<circle cx="576.4" cy="352.8" r="2.4" fill="#4aa2f8" stroke="#1a30d8" stroke-width="0.8"/>
<circle cx="579.3" cy="353.9" r="2.4" fill="#4aa2f8" stroke="#1a30d8" stroke-width="0.8"/>
<circle cx="582.2" cy="354.5" r="2.4" fill="#4aa2f8" stroke="#1a30d8" stroke-width="0.8"/>
<circle cx="585.4" cy="355.5" r="2.4" fill="#4aa2f8" stroke="#1a30d8" stroke-width="0.8"/>
<circle cx="588.6" cy="356.3" r="2.4" fill="#4aa2f8" stroke="#1a30d8" stroke-width="0.8"/>
<circle cx="594.7" cy="358" r="2.4" fill="#4aa2f8" stroke="#1a30d8" stroke-width="0.8"/>
<circle cx="597.7" cy="359.2" r="2.4" fill="#4aa2f8" stroke="#1a30d8" stroke-width="0.8"/>
<circle cx="601.7" cy="359.8" r="2.4" fill="#4aa2f8" stroke="#1a30d8" stroke-width="0.8"/>
<circle cx="604.5" cy="360.6" r="2.4" fill="#4aa2f8" stroke="#1a30d8" stroke-width="0.8"/>
<circle cx="607" cy="361.1" r="2.4" fill="#4aa2f8" stroke="#1a30d8" stroke-width="0.8"/>
<circle cx="610.5" cy="361.9" r="2.4" fill="#4aa2f8" stroke="#1a30d8" stroke-width="0.8"/>
<circle cx="613.8" cy="362.5" r="2.4" fill="#4aa2f8" stroke="#1a30d8" stroke-width="0.8"/>
<circle cx="617.8" cy="363.5" r="2.4" fill="#4aa2f8" stroke="#1a30d8" stroke-width="0.8"/>
<circle cx="620.5" cy="364.3" r="2.4" fill="#4aa2f8" stroke="#1a30d8" stroke-width="0.8"/>
<circle cx="623.2" cy="365.2" r="2.4" fill="#4aa2f8" stroke="#1a30d8" stroke-width="0.8"/>
<circle cx="626.5" cy="366.1" r="2.4" fill="#4aa2f8" stroke="#1a30d8" stroke-width="0.8"/>
<circle cx="629.9" cy="367" r="2.4" fill="#4aa2f8" stroke="#1a30d8" stroke-width="0.8"/>
<circle cx="632.6" cy="368.1" r="2.4" fill="#4aa2f8" stroke="#1a30d8" stroke-width="0.8"/>
<circle cx="635.3" cy="369.2" r="2.4" fill="#4aa2f8" stroke="#1a30d8" stroke-width="0.8"/>
<circle cx="638" cy="370.2" r="2.4" fill="#4aa2f8" stroke="#1a30d8" stroke-width="0.8"/>
<circle cx="640.6" cy="371.1" r="2.4" fill="#4aa2f8" stroke="#1a30d8" stroke-width="0.8"/>
<circle cx="643.3" cy="372" r="2.4" fill="#4aa2f8" stroke="#1a30d8" stroke-width="0.8"/>
<circle cx="645.4" cy="372.5" r="2.4" fill="#4aa2f8" stroke="#1a30d8" stroke-width="0.8"/>
<circle cx="648" cy="373.6" r="2.4" fill="#4aa2f8" stroke="#1a30d8" stroke-width="0.8"/>
<circle cx="649.7" cy="374" r="2.4" fill="#4aa2f8" stroke="#1a30d8" stroke-width="0.8"/>
<circle cx="651.4" cy="375.1" r="2.4" fill="#4aa2f8" stroke="#1a30d8" stroke-width="0.8"/>
<circle cx="653.5" cy="375.6" r="2.4" fill="#4aa2f8" stroke="#1a30d8" stroke-width="0.8"/>
<circle cx="655.5" cy="376.8" r="2.4" fill="#4aa2f8" stroke="#1a30d8" stroke-width="0.8"/>
<circle cx="657.4" cy="377.5" r="2.4" fill="#4aa2f8" stroke="#1a30d8" stroke-width="0.8"/>
<circle cx="659.3" cy="378.5" r="2.4" fill="#4aa2f8" stroke="#1a30d8" stroke-width="0.8"/>
<circle cx="661" cy="379.5" r="2.4" fill="#4aa2f8" stroke="#1a30d8" stroke-width="0.8"/>
<circle cx="662.9" cy="381" r="2.4" fill="#4aa2f8" stroke="#1a30d8" stroke-width="0.8"/>
<circle cx="664.8" cy="382.8" r="2.4" fill="#4aa2f8" stroke="#1a30d8" stroke-width="0.8"/>
<circle cx="666.5" cy="384.5" r="2.4" fill="#4aa2f8" stroke="#1a30d8" stroke-width="0.8"/>
<circle cx="666.8" cy="387.3" r="2.4" fill="#4aa2f8" stroke="#1a30d8" stroke-width="0.8"/>
<circle cx="601.5" cy="258.3" r="3.1" fill="#1a9cff" stroke="#0c10c8" stroke-width="1.0"/>
<circle cx="601.5" cy="271.1" r="3.1" fill="#f8a868" stroke="#c8541a" stroke-width="1.0"/>
<text x="613" y="262" class="lg">Interacting</text>
<text x="613" y="275" class="lg">Noninteracting</text>
<path d="M532.4 251L538.52 254.15L539.28 251.05Z" fill="#111"/>
<text x="541.2" y="257.4" class="an">a</text>
<path d="M601 355L603.38 349.73L600.22 349.27Z" fill="#111"/>
<text x="600.2" y="346.4" class="an">b</text>
<path d="M667 390.4L665.4 396.8L668.6 396.8Z" fill="#111"/>
<text x="664" y="408.2" class="an">c</text>
<path d="M541.1 416.7L547.8 418.3L547.8 415.1Z" fill="#111"/>
<text x="551" y="420.2" class="an">d</text>
<text x="453.3" y="239.6" class="pl">f</text>
<text x="453" y="8.7" class="pl">e</text>
</svg></body></html>
